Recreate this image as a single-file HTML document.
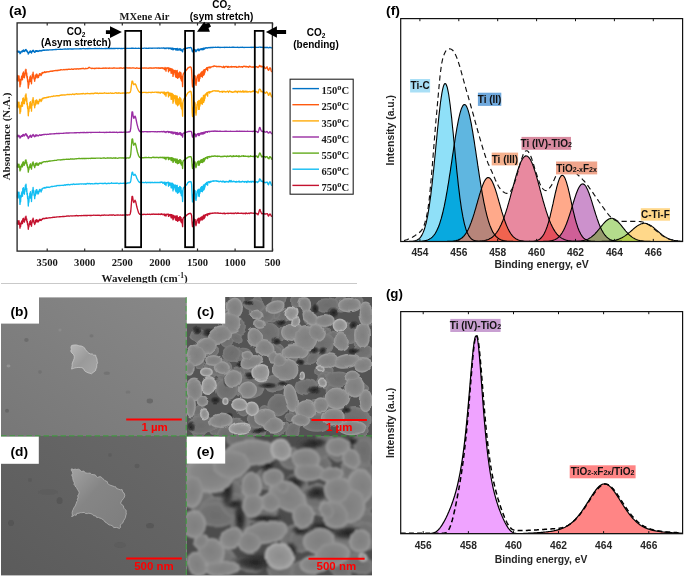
<!DOCTYPE html>
<html><head><meta charset="utf-8"><title>Figure</title>
<style>html,body{margin:0;padding:0;background:#fff}svg{display:block}</style></head>
<body><svg width="685" height="576" viewBox="0 0 685 576">
<rect width="685" height="576" fill="#fff"/>
<defs>
<radialGradient id="g0"><stop offset="0" stop-color="#6c6c6c"/><stop offset=".7" stop-color="#727272"/><stop offset="1" stop-color="#7e7e7e"/></radialGradient>
<radialGradient id="g1"><stop offset="0" stop-color="#7f7f7f"/><stop offset=".7" stop-color="#868686"/><stop offset="1" stop-color="#929292"/></radialGradient>
<radialGradient id="g2"><stop offset="0" stop-color="#8c8c8c"/><stop offset=".7" stop-color="#969696"/><stop offset="1" stop-color="#a6a6a6"/></radialGradient>
<radialGradient id="gd"><stop offset="0" stop-color="#202020"/><stop offset=".55" stop-color="#2e2e2e" stop-opacity=".8"/><stop offset="1" stop-color="#444" stop-opacity="0"/></radialGradient>
<linearGradient id="gb" x1="0" y1="1" x2="1" y2="0"><stop offset="0" stop-color="#777"/><stop offset="1" stop-color="#888"/></linearGradient>
<linearGradient id="gdd" x1="1" y1="0" x2="0" y2="1"><stop offset="0" stop-color="#696969"/><stop offset="1" stop-color="#5b5b5b"/></linearGradient>
<linearGradient id="gfl" x1="0" y1="0" x2="1" y2="1"><stop offset="0" stop-color="#b8b8b8"/><stop offset=".5" stop-color="#9a9a9a"/><stop offset="1" stop-color="#a6a6a6"/></linearGradient>
<linearGradient id="gfd" x1="0" y1="0" x2="1" y2="1"><stop offset="0" stop-color="#a2a2a2"/><stop offset=".4" stop-color="#858585"/><stop offset="1" stop-color="#7e7e7e"/></linearGradient>
<filter id="bl" x="-5%" y="-5%" width="110%" height="110%"><feGaussianBlur stdDeviation="0.65"/></filter>
<filter id="blc" x="-5%" y="-5%" width="110%" height="110%"><feTurbulence type="fractalNoise" baseFrequency="0.055" numOctaves="1" seed="4" result="n"/><feDisplacementMap in="SourceGraphic" in2="n" scale="7" xChannelSelector="R" yChannelSelector="G"/><feGaussianBlur stdDeviation="0.6"/></filter>
<filter id="ble" x="-5%" y="-5%" width="110%" height="110%"><feTurbulence type="fractalNoise" baseFrequency="0.03" numOctaves="1" seed="9" result="n"/><feDisplacementMap in="SourceGraphic" in2="n" scale="11" xChannelSelector="R" yChannelSelector="G"/><feGaussianBlur stdDeviation="1.1"/></filter>
<filter id="bl2" x="-20%" y="-20%" width="140%" height="140%"><feGaussianBlur stdDeviation="0.5"/></filter>
<clipPath id="cc"><rect x="186.5" y="297" width="185.5" height="139"/></clipPath>
<clipPath id="ce"><rect x="186.5" y="436" width="185.5" height="139"/></clipPath>
</defs>
<rect x="1" y="297.4" width="185.5" height="138.6" fill="url(#gb)"/>
<polygon points="71.6,345.5 73.6,345.0 76.3,344.9 78.3,345.5 79.4,345.8 81.5,346.1 83.2,346.9 84.5,347.8 85.3,349.4 86.5,350.8 87.9,352.4 88.8,353.2 90.3,353.9 92.4,354.0 93.5,355.1 95.7,355.2 96.0,356.9 97.0,359.0 97.1,361.1 97.6,362.7 96.8,364.4 96.8,365.4 96.6,367.7 95.8,369.0 95.7,370.4 94.1,371.8 93.1,372.4 91.5,373.8 90.0,373.3 88.0,372.8 86.0,371.8 84.5,370.7 83.6,368.7 81.8,367.7 80.3,367.6 78.1,367.4 76.3,367.7 74.9,367.9 73.5,368.4 71.6,369.1 71.9,367.2 72.2,365.3 72.1,364.1 72.7,362.1 73.5,360.3 74.2,358.2 74.3,356.6 73.8,354.9 73.0,353.9 71.7,352.8 70.7,351.0 71.3,349.4 70.9,347.2" fill="url(#gfl)" stroke="#cfcfcf" stroke-width=".7" filter="url(#bl2)"/>
<rect x="1" y="436" width="185.5" height="139" fill="url(#gdd)"/>
<polygon points="71.6,468.8 73.8,469.6 75.1,469.0 76.2,469.5 78.5,469.2 80.4,470.2 81.3,471.6 83.9,471.0 85.1,472.8 87.4,473.2 88.2,473.2 90.2,473.1 91.5,474.4 93.2,474.6 95.3,474.9 96.6,476.8 97.4,477.4 100.1,476.6 101.4,477.2 102.6,478.5 104.0,479.6 104.9,480.6 107.3,481.7 107.6,483.5 109.5,484.8 111.0,485.5 112.1,485.8 114.6,486.7 115.7,486.8 116.5,488.5 118.2,489.0 120.3,489.8 122.1,489.6 122.8,492.2 124.0,492.9 124.8,495.2 124.4,497.1 123.5,498.5 121.9,500.4 120.9,502.2 120.7,503.5 122.0,504.7 123.4,505.8 123.8,508.1 124.9,509.4 126.2,510.4 126.1,512.8 126.4,514.1 125.9,514.9 125.4,517.7 124.8,518.8 123.7,520.5 122.9,522.7 121.8,523.5 120.3,525.1 120.4,527.6 119.3,528.5 118.1,527.9 116.4,527.4 113.7,527.6 112.9,526.2 110.8,525.1 110.1,525.3 107.6,523.9 106.8,522.9 105.0,522.0 104.1,520.4 103.2,519.8 101.2,518.5 99.1,517.8 98.5,517.4 96.6,517.4 95.9,516.0 93.5,515.6 92.6,514.3 90.9,513.7 88.8,513.2 87.3,513.6 85.5,513.5 84.2,512.4 81.6,512.7 80.2,512.7 79.1,513.2 76.8,513.4 76.2,515.2 74.3,515.0 72.9,516.2 71.6,516.5 72.4,515.2 72.1,512.8 72.7,510.4 73.3,509.3 73.9,507.8 75.2,506.0 76.1,503.7 76.8,501.6 77.7,500.7 77.2,499.1 78.2,497.9 77.7,495.8 78.8,494.2 79.1,492.4 78.6,491.1 77.5,489.6 76.7,487.8 75.8,487.1 74.9,485.5 74.0,484.6 74.4,482.9 73.2,480.4 72.7,478.1 72.7,477.2 71.7,475.1 72.8,473.3 72.3,471.8 71.1,470.0" fill="url(#gfd)" stroke="#b4b4b4" stroke-width=".8" filter="url(#bl2)"/>
<g filter="url(#bl)">
<ellipse cx="149.8" cy="401" rx="3.2" ry="2.4" fill="#555" opacity="0.55"/>
<ellipse cx="26.4" cy="340" rx="2.2" ry="2" fill="#5a5a5a" opacity="0.5"/>
<ellipse cx="7" cy="410.7" rx="2" ry="2" fill="#555" opacity="0.5"/>
<ellipse cx="106.8" cy="373.2" rx="3" ry="1.6" fill="#666" opacity="0.5"/>
<ellipse cx="91.5" cy="335.8" rx="2" ry="1.6" fill="#666" opacity="0.45"/>
<ellipse cx="8.5" cy="366" rx="2" ry="1.4" fill="#aaa" opacity="0.5"/>
<ellipse cx="40" cy="372" rx="1.8" ry="1.8" fill="#666" opacity="0.45"/>
<ellipse cx="128" cy="392" rx="2.5" ry="1.5" fill="#6a6a6a" opacity="0.4"/>
<ellipse cx="60" cy="330" rx="1.6" ry="1.6" fill="#999" opacity="0.4"/>
<ellipse cx="11" cy="523" rx="3" ry="3" fill="#4a4a4a" opacity="0.5"/>
<ellipse cx="150" cy="525.7" rx="4" ry="2.6" fill="#4c4c4c" opacity="0.5"/>
<ellipse cx="137" cy="466" rx="2.6" ry="2.2" fill="#505050" opacity="0.45"/>
<ellipse cx="59.6" cy="500.7" rx="3" ry="3.4" fill="#4c4c4c" opacity="0.5"/>
<ellipse cx="30" cy="480" rx="2" ry="2" fill="#505050" opacity="0.4"/>
<ellipse cx="110" cy="455" rx="2" ry="2" fill="#505050" opacity="0.35"/>
<ellipse cx="120" cy="545" rx="6" ry="3" fill="#545454" opacity="0.35"/>
<ellipse cx="48" cy="492" rx="10" ry="3" fill="#565656" opacity="0.3"/>
</g>
<g clip-path="url(#cc)"><rect x="186" y="297" width="186" height="139" fill="#545454"/><g filter="url(#blc)">
<ellipse cx="281.2" cy="429.1" rx="5.0" ry="9.0" fill="url(#g0)" transform="rotate(56 281.2 429.1)"/>
<ellipse cx="264.7" cy="412.1" rx="6.3" ry="7.0" fill="url(#g0)" transform="rotate(5 264.7 412.1)"/>
<ellipse cx="326.1" cy="371.8" rx="6.0" ry="8.2" fill="url(#g0)" transform="rotate(55 326.1 371.8)"/>
<ellipse cx="270.3" cy="315.6" rx="6.3" ry="5.3" fill="url(#g0)" transform="rotate(47 270.3 315.6)"/>
<ellipse cx="325.6" cy="336.0" rx="6.7" ry="9.1" fill="url(#g0)" transform="rotate(173 325.6 336.0)"/>
<ellipse cx="320.8" cy="372.2" rx="5.7" ry="5.1" fill="url(#g0)" transform="rotate(175 320.8 372.2)"/>
<ellipse cx="282.0" cy="313.1" rx="7.4" ry="8.1" fill="url(#g0)" transform="rotate(110 282.0 313.1)"/>
<ellipse cx="356.6" cy="302.5" rx="6.9" ry="6.6" fill="url(#g0)" transform="rotate(11 356.6 302.5)"/>
<ellipse cx="305.3" cy="415.5" rx="7.2" ry="5.6" fill="url(#g0)" transform="rotate(151 305.3 415.5)"/>
<ellipse cx="280.8" cy="368.0" rx="8.0" ry="5.1" fill="url(#g0)" transform="rotate(148 280.8 368.0)"/>
<ellipse cx="313.1" cy="406.4" rx="5.3" ry="8.3" fill="url(#g0)" transform="rotate(34 313.1 406.4)"/>
<ellipse cx="201.2" cy="415.9" rx="8.6" ry="8.6" fill="url(#g0)" transform="rotate(85 201.2 415.9)"/>
<ellipse cx="237.0" cy="298.0" rx="7.5" ry="7.9" fill="url(#g0)" transform="rotate(150 237.0 298.0)"/>
<ellipse cx="238.4" cy="326.9" rx="7.5" ry="8.3" fill="url(#g0)" transform="rotate(173 238.4 326.9)"/>
<ellipse cx="214.0" cy="364.0" rx="8.7" ry="6.4" fill="url(#g0)" transform="rotate(106 214.0 364.0)"/>
<ellipse cx="190.6" cy="390.6" rx="8.8" ry="8.4" fill="url(#g0)" transform="rotate(159 190.6 390.6)"/>
<ellipse cx="308.8" cy="331.1" rx="8.1" ry="5.4" fill="url(#g0)" transform="rotate(150 308.8 331.1)"/>
<ellipse cx="197.7" cy="411.8" rx="5.1" ry="6.2" fill="url(#g0)" transform="rotate(57 197.7 411.8)"/>
<ellipse cx="314.6" cy="321.8" rx="6.3" ry="4.4" fill="url(#g0)" transform="rotate(47 314.6 321.8)"/>
<ellipse cx="264.3" cy="311.7" rx="7.4" ry="6.2" fill="url(#g0)" transform="rotate(131 264.3 311.7)"/>
<ellipse cx="307.6" cy="356.9" rx="8.6" ry="7.4" fill="url(#g0)" transform="rotate(146 307.6 356.9)"/>
<ellipse cx="249.6" cy="372.6" rx="5.3" ry="9.2" fill="url(#g0)" transform="rotate(44 249.6 372.6)"/>
<ellipse cx="233.8" cy="307.2" rx="5.6" ry="8.1" fill="url(#g0)" transform="rotate(126 233.8 307.2)"/>
<ellipse cx="209.9" cy="349.3" rx="6.4" ry="7.6" fill="url(#g0)" transform="rotate(82 209.9 349.3)"/>
<ellipse cx="295.1" cy="413.7" rx="7.9" ry="6.1" fill="url(#g0)" transform="rotate(81 295.1 413.7)"/>
<ellipse cx="254.4" cy="312.3" rx="5.3" ry="5.7" fill="url(#g0)" transform="rotate(57 254.4 312.3)"/>
<ellipse cx="244.2" cy="377.2" rx="9.1" ry="8.1" fill="url(#g0)" transform="rotate(142 244.2 377.2)"/>
<ellipse cx="327.2" cy="380.0" rx="8.8" ry="7.7" fill="url(#g0)" transform="rotate(90 327.2 380.0)"/>
<ellipse cx="200.3" cy="364.9" rx="5.4" ry="5.0" fill="url(#g0)" transform="rotate(91 200.3 364.9)"/>
<ellipse cx="332.0" cy="338.0" rx="8.1" ry="6.9" fill="url(#g0)" transform="rotate(27 332.0 338.0)"/>
<ellipse cx="365.5" cy="352.8" rx="5.8" ry="8.5" fill="url(#g0)" transform="rotate(22 365.5 352.8)"/>
<ellipse cx="322.4" cy="323.1" rx="6.3" ry="5.5" fill="url(#g0)" transform="rotate(151 322.4 323.1)"/>
<ellipse cx="258.5" cy="432.5" rx="7.4" ry="7.7" fill="url(#g0)" transform="rotate(94 258.5 432.5)"/>
<ellipse cx="243.5" cy="352.0" rx="8.9" ry="5.3" fill="url(#g0)" transform="rotate(178 243.5 352.0)"/>
<ellipse cx="327.0" cy="347.0" rx="7.5" ry="6.2" fill="url(#g0)" transform="rotate(69 327.0 347.0)"/>
<ellipse cx="279.7" cy="299.3" rx="6.8" ry="9.1" fill="url(#g0)" transform="rotate(51 279.7 299.3)"/>
<ellipse cx="325.2" cy="358.6" rx="5.4" ry="8.8" fill="url(#g0)" transform="rotate(3 325.2 358.6)"/>
<ellipse cx="242.4" cy="435.9" rx="5.6" ry="8.5" fill="url(#g0)" transform="rotate(109 242.4 435.9)"/>
<ellipse cx="335.9" cy="384.6" rx="6.1" ry="8.1" fill="url(#g0)" transform="rotate(5 335.9 384.6)"/>
<ellipse cx="269.1" cy="348.7" rx="6.7" ry="5.0" fill="url(#g0)" transform="rotate(40 269.1 348.7)"/>
<ellipse cx="290.5" cy="350.9" rx="8.2" ry="7.3" fill="url(#g0)" transform="rotate(155 290.5 350.9)"/>
<ellipse cx="322.2" cy="380.7" rx="5.7" ry="8.2" fill="url(#g0)" transform="rotate(45 322.2 380.7)"/>
<ellipse cx="200.0" cy="430.9" rx="7.0" ry="8.1" fill="url(#g0)" transform="rotate(95 200.0 430.9)"/>
<ellipse cx="299.7" cy="301.7" rx="5.3" ry="7.6" fill="url(#g0)" transform="rotate(103 299.7 301.7)"/>
<ellipse cx="215.5" cy="429.3" rx="5.1" ry="6.8" fill="url(#g0)" transform="rotate(26 215.5 429.3)"/>
<ellipse cx="319.4" cy="335.4" rx="5.0" ry="4.6" fill="url(#g0)" transform="rotate(31 319.4 335.4)"/>
<ellipse cx="221.7" cy="371.6" rx="6.5" ry="9.0" fill="url(#g0)" transform="rotate(172 221.7 371.6)"/>
<ellipse cx="334.1" cy="390.4" rx="8.5" ry="8.9" fill="url(#g0)" transform="rotate(4 334.1 390.4)"/>
<ellipse cx="208.0" cy="347.1" rx="4.8" ry="7.3" fill="url(#g0)" transform="rotate(47 208.0 347.1)"/>
<ellipse cx="235.2" cy="337.1" rx="4.8" ry="8.0" fill="url(#g0)" transform="rotate(117 235.2 337.1)"/>
<ellipse cx="298.8" cy="301.7" rx="6.4" ry="7.7" fill="url(#g0)" transform="rotate(28 298.8 301.7)"/>
<ellipse cx="257.7" cy="299.8" rx="4.7" ry="5.4" fill="url(#g0)" transform="rotate(75 257.7 299.8)"/>
<ellipse cx="272.2" cy="420.0" rx="5.9" ry="4.4" fill="url(#g0)" transform="rotate(149 272.2 420.0)"/>
<ellipse cx="197.5" cy="309.9" rx="9.1" ry="8.0" fill="url(#g0)" transform="rotate(61 197.5 309.9)"/>
<ellipse cx="210.6" cy="350.8" rx="6.0" ry="8.6" fill="url(#g0)" transform="rotate(75 210.6 350.8)"/>
<ellipse cx="201.3" cy="425.8" rx="7.4" ry="4.9" fill="url(#g0)" transform="rotate(20 201.3 425.8)"/>
<ellipse cx="272.7" cy="309.8" rx="7.4" ry="7.4" fill="url(#g0)" transform="rotate(6 272.7 309.8)"/>
<ellipse cx="336.2" cy="406.4" rx="8.8" ry="7.6" fill="url(#g0)" transform="rotate(125 336.2 406.4)"/>
<ellipse cx="216.5" cy="300.3" rx="4.7" ry="9.1" fill="url(#g0)" transform="rotate(116 216.5 300.3)"/>
<ellipse cx="362.1" cy="345.6" rx="8.0" ry="4.7" fill="url(#g0)" transform="rotate(30 362.1 345.6)"/>
<ellipse cx="237.5" cy="373.5" rx="7.1" ry="6.8" fill="url(#g0)" transform="rotate(76 237.5 373.5)"/>
<ellipse cx="293.1" cy="431.4" rx="6.6" ry="8.4" fill="url(#g0)" transform="rotate(10 293.1 431.4)"/>
<ellipse cx="257.7" cy="374.9" rx="7.4" ry="5.6" fill="url(#g0)" transform="rotate(72 257.7 374.9)"/>
<ellipse cx="362.1" cy="387.2" rx="7.2" ry="4.7" fill="url(#g0)" transform="rotate(9 362.1 387.2)"/>
<ellipse cx="225.3" cy="316.2" rx="9.2" ry="4.4" fill="url(#g0)" transform="rotate(66 225.3 316.2)"/>
<ellipse cx="196.9" cy="386.0" rx="4.6" ry="4.7" fill="url(#g0)" transform="rotate(14 196.9 386.0)"/>
<ellipse cx="236.5" cy="377.1" rx="8.3" ry="5.7" fill="url(#g0)" transform="rotate(51 236.5 377.1)"/>
<ellipse cx="339.3" cy="400.7" rx="5.0" ry="8.3" fill="url(#g0)" transform="rotate(150 339.3 400.7)"/>
<ellipse cx="219.1" cy="384.2" rx="5.3" ry="5.5" fill="url(#g0)" transform="rotate(89 219.1 384.2)"/>
<ellipse cx="283.1" cy="363.6" rx="7.0" ry="5.4" fill="url(#g0)" transform="rotate(140 283.1 363.6)"/>
<ellipse cx="237.7" cy="423.9" rx="6.9" ry="5.8" fill="url(#g0)" transform="rotate(31 237.7 423.9)"/>
<ellipse cx="276.2" cy="349.3" rx="7.4" ry="6.8" fill="url(#g0)" transform="rotate(7 276.2 349.3)"/>
<ellipse cx="340.9" cy="304.2" rx="8.4" ry="8.3" fill="url(#g0)" transform="rotate(166 340.9 304.2)"/>
<ellipse cx="309.6" cy="319.3" rx="6.5" ry="6.5" fill="url(#g0)" transform="rotate(114 309.6 319.3)"/>
<ellipse cx="256.9" cy="390.9" rx="5.3" ry="6.1" fill="url(#g0)" transform="rotate(98 256.9 390.9)"/>
<ellipse cx="265.5" cy="314.0" rx="9.1" ry="7.7" fill="url(#g0)" transform="rotate(150 265.5 314.0)"/>
<ellipse cx="252.5" cy="428.4" rx="8.3" ry="9.1" fill="url(#g0)" transform="rotate(36 252.5 428.4)"/>
<ellipse cx="274.7" cy="350.6" rx="7.3" ry="5.6" fill="url(#g0)" transform="rotate(18 274.7 350.6)"/>
<ellipse cx="274.6" cy="385.9" rx="6.2" ry="9.2" fill="url(#g0)" transform="rotate(73 274.6 385.9)"/>
<ellipse cx="241.8" cy="410.1" rx="6.6" ry="5.7" fill="url(#g0)" transform="rotate(52 241.8 410.1)"/>
<ellipse cx="362.2" cy="430.7" rx="7.5" ry="5.7" fill="url(#g0)" transform="rotate(128 362.2 430.7)"/>
<ellipse cx="226.3" cy="341.8" rx="7.0" ry="6.3" fill="url(#g0)" transform="rotate(63 226.3 341.8)"/>
<ellipse cx="367.2" cy="320.7" rx="7.3" ry="4.5" fill="url(#g0)" transform="rotate(17 367.2 320.7)"/>
<ellipse cx="225.1" cy="434.9" rx="7.9" ry="8.6" fill="url(#g0)" transform="rotate(9 225.1 434.9)"/>
<ellipse cx="312.7" cy="358.2" rx="6.4" ry="7.8" fill="url(#g0)" transform="rotate(55 312.7 358.2)"/>
<ellipse cx="281.5" cy="333.2" rx="6.3" ry="7.0" fill="url(#g0)" transform="rotate(28 281.5 333.2)"/>
<ellipse cx="237.4" cy="355.4" rx="6.7" ry="8.3" fill="url(#g0)" transform="rotate(116 237.4 355.4)"/>
<ellipse cx="290.6" cy="417.9" rx="5.3" ry="4.9" fill="url(#g0)" transform="rotate(71 290.6 417.9)"/>
<ellipse cx="211.5" cy="374.3" rx="7.1" ry="5.0" fill="url(#g0)" transform="rotate(129 211.5 374.3)"/>
<ellipse cx="289.5" cy="355.8" rx="8.8" ry="8.5" fill="url(#g0)" transform="rotate(40 289.5 355.8)"/>
<ellipse cx="248.4" cy="386.6" rx="16.3" ry="12.2" fill="url(#g0)"/>
<ellipse cx="218.6" cy="367.6" rx="13.6" ry="9.5" fill="url(#g0)"/>
<ellipse cx="275.6" cy="383.9" rx="12.2" ry="8.1" fill="url(#g0)"/>
<ellipse cx="202.3" cy="424.6" rx="16.3" ry="9.5" fill="url(#g0)"/>
<ellipse cx="267.5" cy="332.3" rx="10.9" ry="10.9" fill="url(#g0)"/>
<ellipse cx="321.8" cy="343.2" rx="12.2" ry="10.9" fill="url(#g0)"/>
<ellipse cx="348.9" cy="332.3" rx="13.6" ry="10.9" fill="url(#g0)"/>
<ellipse cx="316.3" cy="421.9" rx="16.3" ry="10.9" fill="url(#g0)"/>
<ellipse cx="354.3" cy="419.2" rx="16.3" ry="12.2" fill="url(#g0)"/>
<ellipse cx="278.3" cy="405.6" rx="10.9" ry="10.9" fill="url(#g0)"/>
<ellipse cx="226.7" cy="389.3" rx="10.9" ry="10.9" fill="url(#g0)"/>
<ellipse cx="338.0" cy="378.5" rx="12.2" ry="8.1" fill="url(#g0)"/>
<ellipse cx="327.2" cy="305.1" rx="10.9" ry="6.8" fill="url(#g0)"/>
<ellipse cx="253.9" cy="305.1" rx="10.9" ry="6.8" fill="url(#g0)"/>
<ellipse cx="199.6" cy="335.0" rx="9.5" ry="6.8" fill="url(#g0)"/>
<ellipse cx="232.2" cy="354.0" rx="9.5" ry="8.1" fill="url(#g0)"/>
<ellipse cx="305.5" cy="386.6" rx="10.9" ry="8.1" fill="url(#g0)"/>
<ellipse cx="256.6" cy="419.2" rx="10.9" ry="8.1" fill="url(#g0)"/>
<ellipse cx="362.5" cy="351.3" rx="8.1" ry="8.1" fill="url(#g0)"/>
<ellipse cx="210.4" cy="331.2" rx="8.7" ry="4.8" fill="url(#gd)"/>
<ellipse cx="197.4" cy="330.1" rx="6.1" ry="4.3" fill="url(#gd)"/>
<ellipse cx="226.7" cy="380.1" rx="3.9" ry="6.5" fill="url(#gd)"/>
<ellipse cx="250.1" cy="376.3" rx="7.8" ry="3.9" fill="url(#gd)"/>
<ellipse cx="268.0" cy="385.5" rx="11.3" ry="3.5" fill="url(#gd)"/>
<ellipse cx="313.6" cy="390.9" rx="7.8" ry="4.8" fill="url(#gd)"/>
<ellipse cx="334.2" cy="401.8" rx="7.4" ry="4.3" fill="url(#gd)"/>
<ellipse cx="259.3" cy="430.6" rx="10.4" ry="3.9" fill="url(#gd)"/>
<ellipse cx="313.6" cy="350.2" rx="6.5" ry="4.3" fill="url(#gd)"/>
<ellipse cx="354.3" cy="351.3" rx="7.8" ry="3.9" fill="url(#gd)"/>
<ellipse cx="332.6" cy="312.7" rx="6.1" ry="6.1" fill="url(#gd)"/>
<ellipse cx="190.3" cy="425.2" rx="6.1" ry="6.1" fill="url(#gd)"/>
<ellipse cx="240.3" cy="364.9" rx="5.2" ry="3.9" fill="url(#gd)"/>
<ellipse cx="275.6" cy="340.4" rx="5.2" ry="4.3" fill="url(#gd)"/>
<ellipse cx="323.1" cy="351.3" rx="5.2" ry="5.2" fill="url(#gd)"/>
<ellipse cx="215.9" cy="400.2" rx="5.2" ry="4.3" fill="url(#gd)"/>
<ellipse cx="283.7" cy="383.9" rx="6.1" ry="3.5" fill="url(#gd)"/>
<ellipse cx="346.2" cy="411.0" rx="6.1" ry="3.9" fill="url(#gd)"/>
<ellipse cx="248.4" cy="302.4" rx="6.1" ry="3.5" fill="url(#gd)"/>
<ellipse cx="316.3" cy="307.9" rx="4.3" ry="6.1" fill="url(#gd)"/>
<ellipse cx="279.7" cy="321.4" rx="5.2" ry="4.3" fill="url(#gd)"/>
<ellipse cx="354.3" cy="324.2" rx="5.2" ry="5.2" fill="url(#gd)"/>
<ellipse cx="300.0" cy="362.2" rx="4.3" ry="3.5" fill="url(#gd)"/>
<ellipse cx="229.4" cy="416.5" rx="4.3" ry="3.5" fill="url(#gd)"/>
<ellipse cx="234.9" cy="307.9" rx="8.1" ry="10.3" fill="#9a9a9a"/>
<ellipse cx="230.8" cy="322.8" rx="10.3" ry="10.3" fill="#9a9a9a"/>
<ellipse cx="219.9" cy="335.0" rx="11.9" ry="9.2" fill="#9a9a9a" transform="rotate(-30 219.9 335.0)"/>
<ellipse cx="206.4" cy="345.3" rx="11.4" ry="8.6" fill="#9a9a9a" transform="rotate(-30 206.4 345.3)"/>
<ellipse cx="195.5" cy="355.4" rx="9.7" ry="10.8" fill="#9a9a9a"/>
<ellipse cx="189.3" cy="368.1" rx="5.4" ry="8.6" fill="#9a9a9a"/>
<ellipse cx="257.1" cy="314.9" rx="6.5" ry="5.4" fill="#9a9a9a"/>
<ellipse cx="259.9" cy="324.2" rx="5.9" ry="4.6" fill="#9a9a9a"/>
<ellipse cx="275.6" cy="306.5" rx="10.3" ry="5.9" fill="#9a9a9a" transform="rotate(-15 275.6 306.5)"/>
<ellipse cx="304.7" cy="305.1" rx="6.5" ry="8.1" fill="#9a9a9a"/>
<ellipse cx="311.4" cy="317.6" rx="9.7" ry="7.0" fill="#9a9a9a" transform="rotate(30 311.4 317.6)"/>
<ellipse cx="325.0" cy="320.4" rx="8.6" ry="6.5" fill="#9a9a9a"/>
<ellipse cx="348.9" cy="305.1" rx="11.9" ry="7.3" fill="#9a9a9a"/>
<ellipse cx="365.7" cy="313.8" rx="7.3" ry="11.4" fill="#9a9a9a"/>
<ellipse cx="363.0" cy="335.0" rx="7.0" ry="13.0" fill="#9a9a9a"/>
<ellipse cx="254.4" cy="337.2" rx="7.6" ry="9.7" fill="#9a9a9a" transform="rotate(-20 254.4 337.2)"/>
<ellipse cx="265.3" cy="348.6" rx="9.7" ry="8.1" fill="#9a9a9a" transform="rotate(30 265.3 348.6)"/>
<ellipse cx="273.4" cy="357.3" rx="5.9" ry="6.5" fill="#9a9a9a"/>
<ellipse cx="291.9" cy="332.3" rx="11.9" ry="9.7" fill="#9a9a9a"/>
<ellipse cx="306.0" cy="338.3" rx="11.4" ry="12.4" fill="#9a9a9a"/>
<ellipse cx="294.6" cy="351.3" rx="13.0" ry="7.3" fill="#9a9a9a"/>
<ellipse cx="316.3" cy="332.3" rx="8.6" ry="8.6" fill="#9a9a9a"/>
<ellipse cx="341.3" cy="342.1" rx="8.6" ry="9.7" fill="#9a9a9a"/>
<ellipse cx="327.7" cy="361.1" rx="10.3" ry="6.5" fill="#9a9a9a" transform="rotate(-15 327.7 361.1)"/>
<ellipse cx="346.7" cy="361.1" rx="14.1" ry="6.2" fill="#9a9a9a" transform="rotate(-10 346.7 361.1)"/>
<ellipse cx="363.0" cy="365.4" rx="8.6" ry="7.3" fill="#9a9a9a"/>
<ellipse cx="251.2" cy="362.2" rx="11.4" ry="7.3" fill="#9a9a9a" transform="rotate(-25 251.2 362.2)"/>
<ellipse cx="248.4" cy="355.1" rx="5.9" ry="5.4" fill="#9a9a9a"/>
<ellipse cx="285.4" cy="369.2" rx="13.0" ry="11.4" fill="#9a9a9a"/>
<ellipse cx="279.9" cy="359.4" rx="7.3" ry="7.3" fill="#9a9a9a"/>
<ellipse cx="232.7" cy="378.5" rx="8.6" ry="8.6" fill="#9a9a9a"/>
<ellipse cx="247.4" cy="389.9" rx="9.7" ry="8.6" fill="#9a9a9a"/>
<ellipse cx="213.7" cy="360.0" rx="8.6" ry="5.9" fill="#9a9a9a"/>
<ellipse cx="221.8" cy="368.1" rx="8.1" ry="7.0" fill="#9a9a9a"/>
<ellipse cx="290.8" cy="398.0" rx="7.0" ry="14.1" fill="#9a9a9a" transform="rotate(-10 290.8 398.0)"/>
<ellipse cx="306.0" cy="408.9" rx="11.4" ry="10.0" fill="#9a9a9a"/>
<ellipse cx="300.6" cy="420.8" rx="9.7" ry="7.3" fill="#9a9a9a"/>
<ellipse cx="221.3" cy="420.8" rx="11.4" ry="7.3" fill="#9a9a9a"/>
<ellipse cx="265.3" cy="417.0" rx="11.4" ry="8.6" fill="#9a9a9a"/>
<ellipse cx="337.0" cy="398.0" rx="12.4" ry="11.4" fill="#9a9a9a"/>
<ellipse cx="354.9" cy="387.1" rx="9.7" ry="11.4" fill="#9a9a9a"/>
<ellipse cx="365.7" cy="400.7" rx="7.0" ry="11.4" fill="#9a9a9a"/>
<ellipse cx="352.2" cy="376.3" rx="8.6" ry="5.9" fill="#9a9a9a"/>
<ellipse cx="194.1" cy="389.9" rx="8.6" ry="11.4" fill="#9a9a9a"/>
<ellipse cx="189.8" cy="406.2" rx="5.1" ry="11.4" fill="#9a9a9a"/>
<ellipse cx="202.8" cy="401.3" rx="6.5" ry="6.5" fill="#9a9a9a"/>
<ellipse cx="273.4" cy="425.2" rx="11.4" ry="8.6" fill="#9a9a9a"/>
<ellipse cx="333.2" cy="417.0" rx="11.4" ry="8.6" fill="#9a9a9a"/>
<ellipse cx="321.8" cy="404.5" rx="7.3" ry="7.3" fill="#9a9a9a"/>
<ellipse cx="351.6" cy="427.3" rx="14.1" ry="8.1" fill="#9a9a9a"/>
<ellipse cx="234.9" cy="307.9" rx="6.9" ry="9.1" fill="url(#g1)"/>
<ellipse cx="230.8" cy="322.8" rx="9.1" ry="9.1" fill="url(#g1)"/>
<ellipse cx="219.9" cy="335.0" rx="10.7" ry="8.0" fill="url(#g1)" transform="rotate(-30 219.9 335.0)"/>
<ellipse cx="206.4" cy="345.3" rx="10.2" ry="7.4" fill="url(#g1)" transform="rotate(-30 206.4 345.3)"/>
<ellipse cx="195.5" cy="355.4" rx="8.5" ry="9.6" fill="url(#g1)"/>
<ellipse cx="189.3" cy="368.1" rx="4.2" ry="7.4" fill="url(#g1)"/>
<ellipse cx="257.1" cy="314.9" rx="5.3" ry="4.2" fill="url(#g1)"/>
<ellipse cx="259.9" cy="324.2" rx="4.7" ry="3.4" fill="url(#g1)"/>
<ellipse cx="275.6" cy="306.5" rx="9.1" ry="4.7" fill="url(#g1)" transform="rotate(-15 275.6 306.5)"/>
<ellipse cx="304.7" cy="305.1" rx="5.3" ry="6.9" fill="url(#g1)"/>
<ellipse cx="311.4" cy="317.6" rx="8.5" ry="5.8" fill="url(#g1)" transform="rotate(30 311.4 317.6)"/>
<ellipse cx="325.0" cy="320.4" rx="7.4" ry="5.3" fill="url(#g1)"/>
<ellipse cx="348.9" cy="305.1" rx="10.7" ry="6.1" fill="url(#g1)"/>
<ellipse cx="365.7" cy="313.8" rx="6.1" ry="10.2" fill="url(#g1)"/>
<ellipse cx="363.0" cy="335.0" rx="5.8" ry="11.8" fill="url(#g1)"/>
<ellipse cx="254.4" cy="337.2" rx="6.4" ry="8.5" fill="url(#g1)" transform="rotate(-20 254.4 337.2)"/>
<ellipse cx="265.3" cy="348.6" rx="8.5" ry="6.9" fill="url(#g1)" transform="rotate(30 265.3 348.6)"/>
<ellipse cx="273.4" cy="357.3" rx="4.7" ry="5.3" fill="url(#g1)"/>
<ellipse cx="291.9" cy="332.3" rx="10.7" ry="8.5" fill="url(#g1)"/>
<ellipse cx="306.0" cy="338.3" rx="10.2" ry="11.2" fill="url(#g1)"/>
<ellipse cx="294.6" cy="351.3" rx="11.8" ry="6.1" fill="url(#g1)"/>
<ellipse cx="316.3" cy="332.3" rx="7.4" ry="7.4" fill="url(#g1)"/>
<ellipse cx="341.3" cy="342.1" rx="7.4" ry="8.5" fill="url(#g1)"/>
<ellipse cx="327.7" cy="361.1" rx="9.1" ry="5.3" fill="url(#g1)" transform="rotate(-15 327.7 361.1)"/>
<ellipse cx="346.7" cy="361.1" rx="12.9" ry="5.0" fill="url(#g1)" transform="rotate(-10 346.7 361.1)"/>
<ellipse cx="363.0" cy="365.4" rx="7.4" ry="6.1" fill="url(#g1)"/>
<ellipse cx="251.2" cy="362.2" rx="10.2" ry="6.1" fill="url(#g1)" transform="rotate(-25 251.2 362.2)"/>
<ellipse cx="248.4" cy="355.1" rx="4.7" ry="4.2" fill="url(#g1)"/>
<ellipse cx="285.4" cy="369.2" rx="11.8" ry="10.2" fill="url(#g1)"/>
<ellipse cx="279.9" cy="359.4" rx="6.1" ry="6.1" fill="url(#g1)"/>
<ellipse cx="232.7" cy="378.5" rx="7.4" ry="7.4" fill="url(#g1)"/>
<ellipse cx="247.4" cy="389.9" rx="8.5" ry="7.4" fill="url(#g1)"/>
<ellipse cx="213.7" cy="360.0" rx="7.4" ry="4.7" fill="url(#g1)"/>
<ellipse cx="221.8" cy="368.1" rx="6.9" ry="5.8" fill="url(#g1)"/>
<ellipse cx="290.8" cy="398.0" rx="5.8" ry="12.9" fill="url(#g1)" transform="rotate(-10 290.8 398.0)"/>
<ellipse cx="306.0" cy="408.9" rx="10.2" ry="8.8" fill="url(#g1)"/>
<ellipse cx="300.6" cy="420.8" rx="8.5" ry="6.1" fill="url(#g1)"/>
<ellipse cx="221.3" cy="420.8" rx="10.2" ry="6.1" fill="url(#g1)"/>
<ellipse cx="265.3" cy="417.0" rx="10.2" ry="7.4" fill="url(#g1)"/>
<ellipse cx="337.0" cy="398.0" rx="11.2" ry="10.2" fill="url(#g1)"/>
<ellipse cx="354.9" cy="387.1" rx="8.5" ry="10.2" fill="url(#g1)"/>
<ellipse cx="365.7" cy="400.7" rx="5.8" ry="10.2" fill="url(#g1)"/>
<ellipse cx="352.2" cy="376.3" rx="7.4" ry="4.7" fill="url(#g1)"/>
<ellipse cx="194.1" cy="389.9" rx="7.4" ry="10.2" fill="url(#g1)"/>
<ellipse cx="189.8" cy="406.2" rx="3.9" ry="10.2" fill="url(#g1)"/>
<ellipse cx="202.8" cy="401.3" rx="5.3" ry="5.3" fill="url(#g1)"/>
<ellipse cx="273.4" cy="425.2" rx="10.2" ry="7.4" fill="url(#g1)"/>
<ellipse cx="333.2" cy="417.0" rx="10.2" ry="7.4" fill="url(#g1)"/>
<ellipse cx="321.8" cy="404.5" rx="6.1" ry="6.1" fill="url(#g1)"/>
<ellipse cx="351.6" cy="427.3" rx="12.9" ry="6.9" fill="url(#g1)"/>
<ellipse cx="290.5" cy="313.3" rx="7.0" ry="6.5" fill="#b4b4b4"/>
<ellipse cx="295.2" cy="322.0" rx="5.1" ry="5.1" fill="#b4b4b4"/>
<ellipse cx="339.4" cy="325.5" rx="7.8" ry="7.0" fill="#b4b4b4"/>
<ellipse cx="260.9" cy="373.6" rx="8.6" ry="8.6" fill="#b4b4b4" transform="rotate(20 260.9 373.6)"/>
<ellipse cx="302.8" cy="374.7" rx="3.2" ry="4.3" fill="#b4b4b4"/>
<ellipse cx="321.8" cy="369.2" rx="3.8" ry="3.2" fill="#b4b4b4"/>
<ellipse cx="321.8" cy="382.8" rx="5.1" ry="4.3" fill="#b4b4b4"/>
<ellipse cx="209.1" cy="385.5" rx="7.8" ry="8.6" fill="#b4b4b4"/>
<ellipse cx="206.4" cy="373.0" rx="6.5" ry="4.6" fill="#b4b4b4"/>
<ellipse cx="225.4" cy="401.3" rx="3.2" ry="3.8" fill="#b4b4b4"/>
<ellipse cx="239.2" cy="404.5" rx="8.1" ry="6.5" fill="#b4b4b4"/>
<ellipse cx="251.7" cy="408.9" rx="7.3" ry="7.3" fill="#b4b4b4"/>
<ellipse cx="239.2" cy="427.9" rx="10.8" ry="6.2" fill="#b4b4b4" transform="rotate(-8 239.2 427.9)"/>
<ellipse cx="205.0" cy="414.3" rx="5.1" ry="5.1" fill="#b4b4b4"/>
<ellipse cx="290.5" cy="313.3" rx="5.8" ry="5.3" fill="url(#g2)"/>
<ellipse cx="295.2" cy="322.0" rx="3.9" ry="3.9" fill="url(#g2)"/>
<ellipse cx="339.4" cy="325.5" rx="6.6" ry="5.8" fill="url(#g2)"/>
<ellipse cx="260.9" cy="373.6" rx="7.4" ry="7.4" fill="url(#g2)" transform="rotate(20 260.9 373.6)"/>
<ellipse cx="302.8" cy="374.7" rx="2.0" ry="3.1" fill="url(#g2)"/>
<ellipse cx="321.8" cy="369.2" rx="2.6" ry="2.0" fill="url(#g2)"/>
<ellipse cx="321.8" cy="382.8" rx="3.9" ry="3.1" fill="url(#g2)"/>
<ellipse cx="209.1" cy="385.5" rx="6.6" ry="7.4" fill="url(#g2)"/>
<ellipse cx="206.4" cy="373.0" rx="5.3" ry="3.4" fill="url(#g2)"/>
<ellipse cx="225.4" cy="401.3" rx="2.0" ry="2.6" fill="url(#g2)"/>
<ellipse cx="239.2" cy="404.5" rx="6.9" ry="5.3" fill="url(#g2)"/>
<ellipse cx="251.7" cy="408.9" rx="6.1" ry="6.1" fill="url(#g2)"/>
<ellipse cx="239.2" cy="427.9" rx="9.6" ry="5.0" fill="url(#g2)" transform="rotate(-8 239.2 427.9)"/>
<ellipse cx="205.0" cy="414.3" rx="3.9" ry="3.9" fill="url(#g2)"/>
</g></g>
<g clip-path="url(#ce)"><rect x="186" y="436" width="186" height="139" fill="#4c4c4c"/><g filter="url(#ble)">
<ellipse cx="234.7" cy="478.5" rx="14.8" ry="8.9" fill="url(#g0)" transform="rotate(108 234.7 478.5)"/>
<ellipse cx="321.5" cy="463.1" rx="8.6" ry="10.4" fill="url(#g0)" transform="rotate(118 321.5 463.1)"/>
<ellipse cx="290.6" cy="457.9" rx="11.7" ry="13.6" fill="url(#g0)" transform="rotate(76 290.6 457.9)"/>
<ellipse cx="303.8" cy="571.5" rx="13.7" ry="11.3" fill="url(#g0)" transform="rotate(34 303.8 571.5)"/>
<ellipse cx="250.3" cy="508.0" rx="15.4" ry="14.5" fill="url(#g0)" transform="rotate(57 250.3 508.0)"/>
<ellipse cx="357.9" cy="502.5" rx="13.8" ry="9.0" fill="url(#g0)" transform="rotate(19 357.9 502.5)"/>
<ellipse cx="223.6" cy="560.0" rx="13.7" ry="15.1" fill="url(#g0)" transform="rotate(116 223.6 560.0)"/>
<ellipse cx="261.6" cy="508.8" rx="13.0" ry="15.2" fill="url(#g0)" transform="rotate(79 261.6 508.8)"/>
<ellipse cx="351.9" cy="522.3" rx="14.9" ry="12.2" fill="url(#g0)" transform="rotate(125 351.9 522.3)"/>
<ellipse cx="249.1" cy="509.7" rx="9.9" ry="9.0" fill="url(#g0)" transform="rotate(7 249.1 509.7)"/>
<ellipse cx="316.6" cy="500.5" rx="15.5" ry="14.9" fill="url(#g0)" transform="rotate(69 316.6 500.5)"/>
<ellipse cx="367.1" cy="519.3" rx="14.4" ry="11.5" fill="url(#g0)" transform="rotate(35 367.1 519.3)"/>
<ellipse cx="217.9" cy="462.2" rx="13.1" ry="9.1" fill="url(#g0)" transform="rotate(4 217.9 462.2)"/>
<ellipse cx="340.9" cy="450.8" rx="11.8" ry="12.1" fill="url(#g0)" transform="rotate(112 340.9 450.8)"/>
<ellipse cx="279.7" cy="567.3" rx="14.3" ry="12.8" fill="url(#g0)" transform="rotate(111 279.7 567.3)"/>
<ellipse cx="280.2" cy="571.1" rx="10.0" ry="13.8" fill="url(#g0)" transform="rotate(100 280.2 571.1)"/>
<ellipse cx="193.8" cy="478.2" rx="15.7" ry="14.5" fill="url(#g0)" transform="rotate(2 193.8 478.2)"/>
<ellipse cx="241.2" cy="438.4" rx="14.9" ry="9.0" fill="url(#g0)" transform="rotate(10 241.2 438.4)"/>
<ellipse cx="368.6" cy="499.0" rx="10.7" ry="8.5" fill="url(#g0)" transform="rotate(70 368.6 499.0)"/>
<ellipse cx="254.1" cy="509.8" rx="8.2" ry="9.4" fill="url(#g0)" transform="rotate(38 254.1 509.8)"/>
<ellipse cx="267.9" cy="479.0" rx="13.1" ry="10.5" fill="url(#g0)" transform="rotate(164 267.9 479.0)"/>
<ellipse cx="364.9" cy="445.3" rx="9.8" ry="12.7" fill="url(#g0)" transform="rotate(139 364.9 445.3)"/>
<ellipse cx="197.9" cy="462.7" rx="11.9" ry="13.6" fill="url(#g0)" transform="rotate(163 197.9 462.7)"/>
<ellipse cx="347.2" cy="547.3" rx="8.6" ry="16.1" fill="url(#g0)" transform="rotate(111 347.2 547.3)"/>
<ellipse cx="202.0" cy="472.4" rx="13.2" ry="11.3" fill="url(#g0)" transform="rotate(80 202.0 472.4)"/>
<ellipse cx="335.6" cy="551.6" rx="12.6" ry="14.6" fill="url(#g0)" transform="rotate(73 335.6 551.6)"/>
<ellipse cx="367.2" cy="521.1" rx="16.0" ry="8.5" fill="url(#g0)" transform="rotate(159 367.2 521.1)"/>
<ellipse cx="290.0" cy="536.2" rx="9.7" ry="12.6" fill="url(#g0)" transform="rotate(52 290.0 536.2)"/>
<ellipse cx="205.6" cy="437.4" rx="15.5" ry="13.6" fill="url(#g0)" transform="rotate(37 205.6 437.4)"/>
<ellipse cx="234.0" cy="501.7" rx="14.8" ry="9.1" fill="url(#g0)" transform="rotate(174 234.0 501.7)"/>
<ellipse cx="361.6" cy="471.0" rx="13.4" ry="11.1" fill="url(#g0)" transform="rotate(126 361.6 471.0)"/>
<ellipse cx="202.2" cy="502.3" rx="12.9" ry="13.2" fill="url(#g0)" transform="rotate(125 202.2 502.3)"/>
<ellipse cx="351.8" cy="470.5" rx="9.4" ry="11.3" fill="url(#g0)" transform="rotate(102 351.8 470.5)"/>
<ellipse cx="364.6" cy="535.8" rx="14.2" ry="16.1" fill="url(#g0)" transform="rotate(48 364.6 535.8)"/>
<ellipse cx="234.3" cy="495.7" rx="10.6" ry="13.4" fill="url(#g0)" transform="rotate(171 234.3 495.7)"/>
<ellipse cx="214.6" cy="509.0" rx="13.7" ry="12.2" fill="url(#g0)" transform="rotate(164 214.6 509.0)"/>
<ellipse cx="323.1" cy="559.6" rx="9.1" ry="9.7" fill="url(#g0)" transform="rotate(12 323.1 559.6)"/>
<ellipse cx="340.2" cy="570.8" rx="8.3" ry="14.6" fill="url(#g0)" transform="rotate(131 340.2 570.8)"/>
<ellipse cx="354.9" cy="474.6" rx="14.0" ry="10.1" fill="url(#g0)" transform="rotate(14 354.9 474.6)"/>
<ellipse cx="324.6" cy="442.9" rx="13.8" ry="10.5" fill="url(#g0)" transform="rotate(88 324.6 442.9)"/>
<ellipse cx="215.9" cy="514.4" rx="19.0" ry="12.2" fill="url(#g0)"/>
<ellipse cx="234.9" cy="504.9" rx="13.6" ry="10.9" fill="url(#g0)"/>
<ellipse cx="294.6" cy="485.9" rx="13.6" ry="10.9" fill="url(#g0)"/>
<ellipse cx="313.6" cy="499.4" rx="10.9" ry="10.9" fill="url(#g0)"/>
<ellipse cx="346.2" cy="534.7" rx="13.6" ry="9.5" fill="url(#g0)"/>
<ellipse cx="300.0" cy="540.2" rx="10.9" ry="10.9" fill="url(#g0)"/>
<ellipse cx="248.4" cy="564.6" rx="16.3" ry="8.1" fill="url(#g0)"/>
<ellipse cx="321.8" cy="447.9" rx="13.6" ry="9.5" fill="url(#g0)"/>
<ellipse cx="365.2" cy="453.3" rx="9.5" ry="13.6" fill="url(#g0)"/>
<ellipse cx="359.8" cy="564.6" rx="13.6" ry="10.9" fill="url(#g0)"/>
<ellipse cx="240.3" cy="523.9" rx="10.9" ry="10.9" fill="url(#g0)"/>
<ellipse cx="254.4" cy="562.4" rx="25.1" ry="9.7" fill="url(#gd)"/>
<ellipse cx="240.3" cy="517.4" rx="8.0" ry="19.4" fill="url(#gd)"/>
<ellipse cx="293.5" cy="483.2" rx="13.7" ry="8.0" fill="url(#gd)"/>
<ellipse cx="316.9" cy="494.6" rx="13.7" ry="8.0" fill="url(#gd)"/>
<ellipse cx="194.7" cy="468.5" rx="13.7" ry="5.1" fill="url(#gd)"/>
<ellipse cx="346.7" cy="532.6" rx="19.4" ry="8.0" fill="url(#gd)"/>
<ellipse cx="322.3" cy="527.1" rx="16.0" ry="8.0" fill="url(#gd)"/>
<ellipse cx="235.4" cy="503.8" rx="11.4" ry="4.6" fill="url(#gd)"/>
<ellipse cx="290.8" cy="548.9" rx="8.0" ry="8.0" fill="url(#gd)"/>
<ellipse cx="267.5" cy="464.2" rx="6.8" ry="17.1" fill="url(#gd)"/>
<ellipse cx="313.6" cy="442.4" rx="17.1" ry="5.7" fill="url(#gd)"/>
<ellipse cx="226.7" cy="491.3" rx="8.0" ry="17.1" fill="url(#gd)"/>
<ellipse cx="300.0" cy="530.7" rx="11.4" ry="5.7" fill="url(#gd)"/>
<ellipse cx="264.7" cy="518.5" rx="17.1" ry="4.6" fill="url(#gd)"/>
<ellipse cx="354.3" cy="442.4" rx="6.8" ry="5.7" fill="url(#gd)"/>
<ellipse cx="210.4" cy="473.7" rx="25.5" ry="19.5" fill="#9a9a9a"/>
<ellipse cx="249.8" cy="452.7" rx="25.5" ry="14.1" fill="#9a9a9a"/>
<ellipse cx="230.8" cy="464.2" rx="20.0" ry="16.8" fill="#9a9a9a"/>
<ellipse cx="191.4" cy="491.3" rx="11.4" ry="16.8" fill="#9a9a9a"/>
<ellipse cx="305.5" cy="457.6" rx="14.6" ry="11.4" fill="#9a9a9a"/>
<ellipse cx="308.7" cy="472.3" rx="15.7" ry="10.0" fill="#9a9a9a"/>
<ellipse cx="330.4" cy="475.6" rx="13.0" ry="8.6" fill="#9a9a9a"/>
<ellipse cx="339.7" cy="446.8" rx="13.0" ry="9.7" fill="#9a9a9a"/>
<ellipse cx="352.2" cy="460.4" rx="8.6" ry="10.0" fill="#9a9a9a"/>
<ellipse cx="360.3" cy="486.4" rx="13.0" ry="17.3" fill="#9a9a9a"/>
<ellipse cx="349.5" cy="505.4" rx="16.8" ry="16.8" fill="#9a9a9a"/>
<ellipse cx="334.2" cy="513.6" rx="14.1" ry="14.1" fill="#9a9a9a"/>
<ellipse cx="325.0" cy="509.8" rx="8.1" ry="8.1" fill="#9a9a9a"/>
<ellipse cx="338.0" cy="491.3" rx="14.1" ry="12.7" fill="#9a9a9a"/>
<ellipse cx="272.9" cy="477.7" rx="9.2" ry="9.2" fill="#9a9a9a"/>
<ellipse cx="287.0" cy="497.3" rx="20.0" ry="15.2" fill="#9a9a9a" transform="rotate(30 287.0 497.3)"/>
<ellipse cx="300.6" cy="516.3" rx="11.4" ry="12.7" fill="#9a9a9a"/>
<ellipse cx="270.2" cy="502.2" rx="8.6" ry="10.0" fill="#9a9a9a"/>
<ellipse cx="281.6" cy="487.2" rx="7.3" ry="6.5" fill="#9a9a9a"/>
<ellipse cx="252.8" cy="486.4" rx="10.3" ry="13.0" fill="#9a9a9a"/>
<ellipse cx="254.4" cy="505.4" rx="9.7" ry="12.4" fill="#9a9a9a" transform="rotate(20 254.4 505.4)"/>
<ellipse cx="264.7" cy="533.7" rx="21.1" ry="12.4" fill="#9a9a9a" transform="rotate(-12 264.7 533.7)"/>
<ellipse cx="251.2" cy="543.4" rx="11.4" ry="11.4" fill="#9a9a9a"/>
<ellipse cx="319.6" cy="540.7" rx="15.7" ry="12.7" fill="#9a9a9a"/>
<ellipse cx="333.2" cy="554.3" rx="18.4" ry="12.4" fill="#9a9a9a"/>
<ellipse cx="313.6" cy="564.6" rx="14.1" ry="10.0" fill="#9a9a9a"/>
<ellipse cx="232.7" cy="538.0" rx="11.4" ry="11.4" fill="#9a9a9a"/>
<ellipse cx="213.2" cy="551.6" rx="14.6" ry="12.7" fill="#9a9a9a"/>
<ellipse cx="221.8" cy="567.9" rx="16.8" ry="8.6" fill="#9a9a9a"/>
<ellipse cx="194.1" cy="524.4" rx="13.0" ry="14.1" fill="#9a9a9a"/>
<ellipse cx="196.9" cy="565.2" rx="11.4" ry="11.4" fill="#9a9a9a"/>
<ellipse cx="202.3" cy="542.9" rx="8.6" ry="8.6" fill="#9a9a9a"/>
<ellipse cx="360.3" cy="540.7" rx="11.4" ry="11.4" fill="#9a9a9a"/>
<ellipse cx="210.4" cy="473.7" rx="24.3" ry="18.3" fill="url(#g1)"/>
<ellipse cx="249.8" cy="452.7" rx="24.3" ry="12.9" fill="url(#g1)"/>
<ellipse cx="230.8" cy="464.2" rx="18.8" ry="15.6" fill="url(#g1)"/>
<ellipse cx="191.4" cy="491.3" rx="10.2" ry="15.6" fill="url(#g1)"/>
<ellipse cx="305.5" cy="457.6" rx="13.4" ry="10.2" fill="url(#g1)"/>
<ellipse cx="308.7" cy="472.3" rx="14.5" ry="8.8" fill="url(#g1)"/>
<ellipse cx="330.4" cy="475.6" rx="11.8" ry="7.4" fill="url(#g1)"/>
<ellipse cx="339.7" cy="446.8" rx="11.8" ry="8.5" fill="url(#g1)"/>
<ellipse cx="352.2" cy="460.4" rx="7.4" ry="8.8" fill="url(#g1)"/>
<ellipse cx="360.3" cy="486.4" rx="11.8" ry="16.1" fill="url(#g1)"/>
<ellipse cx="349.5" cy="505.4" rx="15.6" ry="15.6" fill="url(#g1)"/>
<ellipse cx="334.2" cy="513.6" rx="12.9" ry="12.9" fill="url(#g1)"/>
<ellipse cx="325.0" cy="509.8" rx="6.9" ry="6.9" fill="url(#g1)"/>
<ellipse cx="338.0" cy="491.3" rx="12.9" ry="11.5" fill="url(#g1)"/>
<ellipse cx="272.9" cy="477.7" rx="8.0" ry="8.0" fill="url(#g1)"/>
<ellipse cx="287.0" cy="497.3" rx="18.8" ry="14.0" fill="url(#g1)" transform="rotate(30 287.0 497.3)"/>
<ellipse cx="300.6" cy="516.3" rx="10.2" ry="11.5" fill="url(#g1)"/>
<ellipse cx="270.2" cy="502.2" rx="7.4" ry="8.8" fill="url(#g1)"/>
<ellipse cx="281.6" cy="487.2" rx="6.1" ry="5.3" fill="url(#g1)"/>
<ellipse cx="252.8" cy="486.4" rx="9.1" ry="11.8" fill="url(#g1)"/>
<ellipse cx="254.4" cy="505.4" rx="8.5" ry="11.2" fill="url(#g1)" transform="rotate(20 254.4 505.4)"/>
<ellipse cx="264.7" cy="533.7" rx="19.9" ry="11.2" fill="url(#g1)" transform="rotate(-12 264.7 533.7)"/>
<ellipse cx="251.2" cy="543.4" rx="10.2" ry="10.2" fill="url(#g1)"/>
<ellipse cx="319.6" cy="540.7" rx="14.5" ry="11.5" fill="url(#g1)"/>
<ellipse cx="333.2" cy="554.3" rx="17.2" ry="11.2" fill="url(#g1)"/>
<ellipse cx="313.6" cy="564.6" rx="12.9" ry="8.8" fill="url(#g1)"/>
<ellipse cx="232.7" cy="538.0" rx="10.2" ry="10.2" fill="url(#g1)"/>
<ellipse cx="213.2" cy="551.6" rx="13.4" ry="11.5" fill="url(#g1)"/>
<ellipse cx="221.8" cy="567.9" rx="15.6" ry="7.4" fill="url(#g1)"/>
<ellipse cx="194.1" cy="524.4" rx="11.8" ry="12.9" fill="url(#g1)"/>
<ellipse cx="196.9" cy="565.2" rx="10.2" ry="10.2" fill="url(#g1)"/>
<ellipse cx="202.3" cy="542.9" rx="7.4" ry="7.4" fill="url(#g1)"/>
<ellipse cx="360.3" cy="540.7" rx="10.2" ry="10.2" fill="url(#g1)"/>
<ellipse cx="279.9" cy="449.5" rx="11.4" ry="10.0" fill="#b4b4b4"/>
<ellipse cx="279.9" cy="557.0" rx="14.1" ry="12.7" fill="#b4b4b4"/>
<ellipse cx="364.1" cy="557.0" rx="4.3" ry="4.8" fill="#b4b4b4"/>
<ellipse cx="279.9" cy="449.5" rx="10.2" ry="8.8" fill="url(#g2)"/>
<ellipse cx="279.9" cy="557.0" rx="12.9" ry="11.5" fill="url(#g2)"/>
<ellipse cx="364.1" cy="557.0" rx="3.1" ry="3.6" fill="url(#g2)"/>
</g></g>
<rect x="1" y="575" width="371" height="1" fill="#bdbdbd"/>
<path d="M1,435.9H372M186.2,297.4V576" stroke="#36a036" stroke-width="1" stroke-dasharray="5.5,3" fill="none"/>
<g fill="#fff"><rect x="0" y="296" width="39" height="27.6"/><rect x="186.8" y="296.6" width="38.4" height="27"/><rect x="0" y="436.6" width="38.8" height="27.2"/><rect x="186.8" y="436.6" width="38.4" height="27"/></g>
<g font-family="'Liberation Sans',sans-serif" font-weight="bold" font-size="13.5" fill="#000" text-anchor="middle"><text x="19.3" y="316" textLength="17.6" lengthAdjust="spacingAndGlyphs">(b)</text><text x="205.6" y="316" textLength="17" lengthAdjust="spacingAndGlyphs">(c)</text><text x="19.3" y="456.2" textLength="17.6" lengthAdjust="spacingAndGlyphs">(d)</text><text x="205.5" y="455.8" textLength="17.6" lengthAdjust="spacingAndGlyphs">(e)</text></g>
<path d="M126.2,419.5H181.8" stroke="#f00" stroke-width="2"/><text x="154.6" y="431.2" font-family="'Liberation Sans',sans-serif" font-weight="bold" font-size="10.4" fill="#f00" text-anchor="middle" textLength="26.4" lengthAdjust="spacingAndGlyphs">1 µm</text>
<path d="M311.4,419.9H366.9" stroke="#f00" stroke-width="2"/><text x="339.2" y="431.2" font-family="'Liberation Sans',sans-serif" font-weight="bold" font-size="10.4" fill="#f00" text-anchor="middle" textLength="26.4" lengthAdjust="spacingAndGlyphs">1 µm</text>
<path d="M126.2,558.5H181.8" stroke="#f00" stroke-width="2"/><text x="154" y="569.6" font-family="'Liberation Sans',sans-serif" font-weight="bold" font-size="10.4" fill="#f00" text-anchor="middle" textLength="39.6" lengthAdjust="spacingAndGlyphs">500 nm</text>
<path d="M308.5,558.8H364.6" stroke="#f00" stroke-width="2"/><text x="336.4" y="569.6" font-family="'Liberation Sans',sans-serif" font-weight="bold" font-size="10.4" fill="#f00" text-anchor="middle" textLength="39.6" lengthAdjust="spacingAndGlyphs">500 nm</text>
<g id="pa" fill="none">
<polyline points="17.4,52.1 17.7,51.0 18.0,52.3 18.4,51.4 18.7,51.9 19.0,51.1 19.3,52.2 19.6,51.8 20.0,53.7 20.3,52.7 20.6,53.2 20.9,51.8 21.2,52.1 21.6,51.3 21.9,51.9 22.2,50.9 22.5,51.9 22.8,50.4 23.2,51.4 23.5,50.0 23.8,51.2 24.1,50.7 24.4,51.5 24.8,50.4 25.1,50.7 25.4,49.6 25.7,50.6 26.0,49.4 26.4,50.9 26.7,50.3 27.0,51.6 27.3,51.1 27.6,52.4 28.0,52.6 28.3,54.0 28.6,53.1 28.9,53.1 29.2,51.9 29.6,52.3 29.9,51.1 30.2,51.9 30.5,50.9 30.8,52.4 31.2,51.9 31.5,53.0 31.8,51.5 32.1,51.8 32.4,50.7 32.8,51.3 33.1,50.1 33.4,51.3 33.7,50.7 34.0,51.7 34.4,51.6 34.7,52.4 35.0,51.6 35.3,51.9 35.6,50.8 36.0,51.5 36.3,50.6 36.6,51.1 36.9,50.6 37.2,51.4 37.6,51.0 37.9,51.5 38.2,51.4 38.5,51.4 38.8,50.8 39.2,51.1 39.5,50.5 39.8,50.7 40.1,50.5 40.4,50.8 40.8,50.6 41.1,51.0 41.4,50.7 41.7,50.8 42.0,50.3 42.4,50.5 42.7,50.2 43.0,50.3 43.3,50.0 43.6,50.4 44.0,50.2 44.3,50.3 44.6,50.0 44.9,50.2 45.2,50.1 45.6,50.2 45.9,50.0 46.2,50.1 46.5,50.2 46.8,50.0 47.2,50.1 47.5,50.0 47.8,50.0 48.0,50.0 48.6,50.1 49.2,49.9 49.8,49.8 50.4,49.9 51.0,49.8 51.6,49.8 52.2,49.7 52.8,49.8 53.4,49.6 54.0,49.6 54.6,49.6 55.2,49.5 55.8,49.5 56.4,49.5 57.0,49.4 57.6,49.4 58.2,49.3 58.8,49.3 59.4,49.4 60.0,49.4 60.6,49.2 61.2,49.4 61.8,49.3 62.4,49.3 63.0,49.2 63.6,49.1 64.2,49.1 64.8,49.0 65.4,48.9 66.0,49.1 66.6,49.1 67.2,49.0 67.8,49.0 68.4,48.9 69.0,49.0 69.6,48.9 70.2,48.9 70.8,49.0 71.4,48.9 72.0,49.1 72.6,49.0 73.2,49.0 73.8,48.9 74.4,48.8 75.0,48.9 75.6,48.8 76.2,48.8 76.8,48.8 77.4,48.9 78.0,48.8 78.6,48.8 79.2,48.8 79.8,48.7 80.4,48.7 81.0,48.7 81.6,48.8 82.2,48.7 82.8,48.6 83.4,48.5 84.0,48.6 84.6,48.7 85.2,48.7 85.8,48.8 86.4,48.6 87.0,48.7 87.6,48.7 88.2,48.4 88.8,48.8 89.4,48.5 90.0,48.5 90.6,48.7 91.2,48.6 91.8,48.7 92.4,48.6 93.0,48.6 93.6,48.6 94.2,48.5 94.8,48.6 95.4,48.4 96.0,48.5 96.6,48.6 97.2,48.5 97.8,48.6 98.4,48.6 99.0,48.5 99.6,48.5 100.2,48.6 100.8,48.6 101.4,48.5 102.0,48.7 102.6,48.6 103.2,48.6 103.8,48.6 104.4,48.6 105.0,48.4 105.6,48.7 106.2,48.4 106.8,48.5 107.4,48.4 108.0,48.5 108.6,48.5 109.2,48.5 109.8,48.3 110.4,48.5 111.0,48.5 111.6,48.3 112.2,48.6 112.8,48.5 113.4,48.4 114.0,48.5 114.6,48.4 115.2,48.5 115.8,48.4 116.4,48.4 117.0,48.4 117.6,48.5 118.2,48.5 118.8,48.4 119.4,48.4 120.0,48.4 120.6,48.6 121.2,48.5 121.8,48.5 122.4,48.6 123.0,48.4 123.6,48.4 124.2,48.4 124.8,48.4 125.4,48.4 126.0,48.4 126.6,48.4 127.2,48.4 127.8,48.3 128.4,48.4 129.0,48.4 129.6,48.3 130.2,48.4 130.8,48.4 131.4,48.2 132.0,48.2 132.6,48.2 133.2,48.2 133.8,48.3 134.4,48.3 135.0,48.3 135.6,48.2 136.2,48.4 136.8,48.3 137.4,48.3 138.0,48.3 138.6,48.2 139.2,48.3 139.8,48.3 140.4,48.4 141.0,48.3 141.6,48.2 142.2,48.3 142.8,48.3 143.4,48.3 144.0,48.2 144.6,48.1 145.2,48.2 145.8,48.3 146.4,48.2 147.0,48.4 147.6,48.3 148.2,48.2 148.8,48.4 149.4,48.1 150.0,48.1 150.6,48.1 151.2,48.3 151.8,48.1 152.4,48.2 153.0,48.2 153.6,48.1 154.2,48.2 154.8,48.1 155.4,48.2 156.0,48.1 156.6,48.1 157.0,48.2 157.3,48.1 157.6,48.3 158.0,48.2 158.3,48.0 158.6,48.1 158.9,48.1 159.2,48.3 159.6,48.1 159.9,48.1 160.2,48.2 160.5,48.1 160.8,48.1 161.2,48.1 161.5,48.1 161.8,48.0 162.1,48.2 162.4,48.1 162.8,48.1 163.1,48.0 163.4,48.1 163.7,48.0 164.0,48.2 164.4,48.2 164.7,48.5 165.0,48.0 165.3,48.3 165.6,48.1 166.0,48.7 166.3,48.2 166.6,48.1 166.9,48.0 167.2,48.0 167.6,48.1 167.9,48.1 168.2,48.1 168.5,48.7 168.8,48.0 169.2,48.3 169.5,48.2 169.8,48.6 170.1,48.1 170.4,48.3 170.8,48.2 171.1,49.0 171.4,48.1 171.7,49.2 172.0,48.2 172.4,48.6 172.7,48.2 173.0,49.8 173.3,48.4 173.6,49.5 174.0,48.6 174.3,48.6 174.6,48.9 174.9,48.9 175.2,48.6 175.6,49.9 175.9,48.7 176.2,50.0 176.5,48.6 176.8,49.0 177.2,48.4 177.5,50.2 177.8,49.0 178.1,49.7 178.4,49.5 178.8,50.1 179.1,49.0 179.4,49.8 179.7,48.8 180.0,49.7 180.4,48.8 180.7,50.3 181.0,49.1 181.3,50.6 181.6,49.8 182.0,50.9 182.3,50.7 182.6,51.9 182.9,49.6 183.2,49.3 183.6,48.9 183.9,49.1 184.2,49.0 184.5,48.8 184.8,48.9 185.2,48.7 185.5,48.5 185.8,48.5 186.1,48.3 186.4,48.2 186.8,48.4 187.1,48.1 187.4,48.0 187.7,48.0 188.0,47.9 188.4,47.8 188.7,47.7 189.0,47.6 189.3,47.8 189.6,47.7 190.0,47.7 190.3,47.6 190.6,47.5 190.9,47.6 191.2,47.9 191.6,48.3 191.9,49.6 192.2,51.0 192.5,51.9 192.8,51.4 193.2,50.3 193.5,50.5 193.8,49.4 194.1,49.9 194.4,49.5 194.8,49.6 195.1,49.6 195.4,51.2 195.7,50.3 196.0,51.7 196.4,51.0 196.7,50.7 197.0,49.6 197.3,50.0 197.6,49.3 198.0,49.9 198.3,49.2 198.6,50.6 198.9,49.2 199.2,50.7 199.6,49.7 199.9,49.9 200.2,49.1 200.5,49.0 200.8,48.9 201.2,49.6 201.5,48.7 201.8,49.6 202.1,48.6 202.4,49.7 202.8,48.5 203.1,49.4 203.4,48.2 203.7,49.5 204.0,48.1 204.4,49.0 204.7,48.1 205.0,48.6 205.3,47.9 205.6,48.1 206.0,47.9 206.3,48.1 206.6,47.7 206.9,47.8 207.2,47.8 207.6,48.1 207.9,47.6 208.2,47.7 208.5,47.7 208.8,47.6 209.2,47.4 209.5,47.7 209.8,47.6 210.1,47.8 210.4,47.5 210.8,47.5 211.1,47.5 211.4,47.5 211.7,47.5 212.0,47.5 212.4,47.6 212.7,47.4 213.0,47.6 213.3,47.3 213.6,47.4 214.0,47.4 214.0,47.4 214.5,47.3 215.0,47.3 215.5,47.2 216.0,47.3 216.5,47.3 217.0,47.4 217.5,47.2 218.0,47.3 218.5,47.2 219.0,47.4 219.5,47.3 220.0,47.5 220.5,47.3 221.0,47.4 221.5,47.4 222.0,47.4 222.5,47.4 223.0,47.3 223.5,47.4 224.0,47.3 224.5,47.5 225.0,47.2 225.5,47.3 226.0,47.4 226.5,47.4 227.0,47.2 227.5,47.3 228.0,47.3 228.5,47.3 229.0,47.3 229.5,47.2 230.0,47.3 230.5,47.3 231.0,47.4 231.5,47.3 232.0,47.2 232.5,47.4 233.0,47.2 233.5,47.2 234.0,47.2 234.5,47.3 235.0,47.3 235.5,47.4 236.0,47.3 236.5,47.4 237.0,47.3 237.5,47.2 238.0,47.3 238.5,47.3 239.0,47.5 239.5,47.4 240.0,47.4 240.5,47.3 241.0,47.2 241.5,47.3 242.0,47.3 242.5,47.2 243.0,47.3 243.5,47.4 244.0,47.5 244.5,47.3 245.0,47.3 245.5,47.3 246.0,47.3 246.5,47.4 247.0,47.3 247.5,47.3 248.0,47.3 248.5,47.3 249.0,47.3 249.5,47.4 250.0,47.4 250.5,47.3 251.0,47.2 251.5,47.5 252.0,47.3 252.5,47.4 253.0,47.2 253.5,47.4 254.0,47.4 254.5,47.3 255.0,47.4 255.5,47.2 256.0,47.4 256.5,47.3 257.0,47.3 257.5,47.4 258.0,47.4 258.5,47.3 259.0,47.2 259.5,47.1 260.0,47.2 260.5,47.2 261.0,47.2 261.5,47.4 262.0,47.4 262.5,47.3 263.0,47.4 263.5,47.2 264.0,47.4 264.5,47.6 265.0,47.4 265.5,47.5 266.0,47.4 266.5,47.5 267.0,47.3 267.5,47.5 268.0,47.7 268.5,47.8 269.0,47.7 269.5,47.5 270.0,47.3 270.5,47.6 271.0,47.7 271.5,47.9 272.0,47.8" stroke="#0072c6" stroke-width="1.35" stroke-linejoin="round"/>
<polyline points="17.4,80.6 17.7,75.3 18.0,81.2 18.4,77.3 18.7,79.9 19.0,76.0 19.3,80.8 19.6,79.2 20.0,86.7 20.3,82.8 20.6,84.2 20.9,79.3 21.2,80.1 21.6,76.5 21.9,79.9 22.2,75.2 22.5,79.7 22.8,73.3 23.2,77.3 23.5,72.0 23.8,77.0 24.1,75.0 24.4,77.8 24.8,73.6 25.1,73.7 25.4,70.0 25.7,73.5 26.0,69.3 26.4,75.7 26.7,72.8 27.0,77.9 27.3,76.5 27.6,81.2 28.0,82.5 28.3,88.1 28.6,84.5 28.9,84.8 29.2,79.7 29.6,81.5 29.9,76.9 30.2,79.0 30.5,75.9 30.8,81.8 31.2,79.0 31.5,83.8 31.8,77.6 32.1,78.6 32.4,74.1 32.8,76.7 33.1,72.2 33.4,76.7 33.7,75.0 34.0,78.9 34.4,78.6 34.7,81.3 35.0,78.0 35.3,78.8 35.6,75.1 36.0,77.8 36.3,74.2 36.6,76.6 36.9,74.1 37.2,76.9 37.6,75.5 37.9,77.9 38.2,76.8 38.5,77.4 38.8,75.0 39.2,75.7 39.5,73.6 39.8,74.8 40.1,73.7 40.4,74.8 40.8,74.5 41.1,75.6 41.4,74.5 41.7,74.4 42.0,72.6 42.4,73.4 42.7,72.5 43.0,73.0 43.3,72.4 43.6,72.7 44.0,72.6 44.3,72.5 44.6,71.7 44.9,72.0 45.2,72.3 45.6,72.5 45.9,72.1 46.2,71.9 46.5,71.8 46.8,72.1 47.2,71.7 47.5,71.7 47.8,71.9 48.0,71.8 48.6,71.7 49.2,71.8 49.8,71.3 50.4,71.2 51.0,71.2 51.6,71.2 52.2,71.0 52.8,71.3 53.4,70.8 54.0,70.9 54.6,70.6 55.2,70.7 55.8,70.5 56.4,70.4 57.0,70.7 57.6,70.3 58.2,70.6 58.8,70.1 59.4,70.1 60.0,70.3 60.6,69.6 61.2,69.7 61.8,69.9 62.4,69.9 63.0,69.9 63.6,69.7 64.2,69.5 64.8,69.8 65.4,69.7 66.0,69.4 66.6,69.5 67.2,69.7 67.8,69.4 68.4,69.2 69.0,69.3 69.6,69.2 70.2,69.3 70.8,69.4 71.4,69.0 72.0,69.0 72.6,69.3 73.2,69.2 73.8,69.3 74.4,68.8 75.0,68.8 75.6,69.1 76.2,68.8 76.8,69.0 77.4,68.9 78.0,68.7 78.6,69.1 79.2,68.8 79.8,68.7 80.4,68.7 81.0,68.8 81.6,68.5 82.2,68.5 82.8,68.5 83.4,68.3 84.0,68.8 84.6,68.8 85.2,68.8 85.8,68.3 86.4,68.6 87.0,68.6 87.6,68.3 88.2,68.2 88.8,67.5 89.4,67.4 90.0,67.8 90.6,68.1 91.2,68.2 91.8,68.6 92.4,68.2 93.0,68.3 93.6,68.3 94.2,68.7 94.8,68.2 95.4,68.4 96.0,68.6 96.6,68.1 97.2,68.2 97.8,68.3 98.4,68.1 99.0,68.5 99.6,68.2 100.2,68.4 100.8,68.4 101.4,68.3 102.0,68.4 102.6,68.2 103.2,68.4 103.8,68.0 104.4,68.1 105.0,68.4 105.6,67.9 106.2,68.3 106.8,68.1 107.4,68.1 108.0,68.1 108.6,68.4 109.2,67.9 109.8,68.3 110.4,68.2 111.0,68.1 111.6,68.1 112.2,68.3 112.8,68.1 113.4,67.9 114.0,68.2 114.6,68.0 115.2,68.1 115.8,68.1 116.4,68.2 117.0,68.4 117.6,68.2 118.2,68.1 118.8,68.2 119.4,68.2 120.0,67.8 120.6,68.0 121.2,67.9 121.8,68.2 122.4,68.3 123.0,68.1 123.6,67.9 124.2,68.2 124.8,67.9 125.4,68.0 126.0,67.8 126.6,67.8 127.2,67.8 127.8,68.0 128.4,67.9 129.0,68.1 129.6,67.8 130.2,68.1 130.8,67.9 131.4,68.1 132.0,68.0 132.6,67.8 133.2,67.9 133.8,68.0 134.4,68.1 135.0,68.1 135.6,68.3 136.2,68.1 136.8,67.8 137.4,68.2 138.0,68.1 138.6,68.3 139.2,68.3 139.8,68.2 140.4,68.2 141.0,68.2 141.6,68.1 142.2,68.0 142.8,68.1 143.4,68.2 144.0,67.8 144.6,68.1 145.2,68.0 145.8,68.1 146.4,68.0 147.0,68.1 147.6,68.1 148.2,68.3 148.8,68.0 149.4,68.0 150.0,68.1 150.6,67.8 151.2,67.9 151.8,68.3 152.4,68.1 153.0,68.0 153.6,68.2 154.2,68.0 154.8,68.0 155.4,67.9 156.0,67.7 156.6,68.1 157.0,67.9 157.3,67.9 157.6,68.0 158.0,67.9 158.3,67.7 158.6,68.0 158.9,68.5 159.2,68.1 159.6,68.1 159.9,67.8 160.2,68.4 160.5,68.0 160.8,68.2 161.2,68.0 161.5,67.8 161.8,68.2 162.1,68.1 162.4,67.8 162.8,68.5 163.1,68.0 163.4,68.1 163.7,68.2 164.0,69.1 164.4,68.3 164.7,69.6 165.0,67.5 165.3,68.9 165.6,68.2 166.0,71.1 166.3,67.9 166.6,68.4 166.9,68.3 167.2,68.2 167.6,67.8 167.9,68.0 168.2,68.1 168.5,71.8 168.8,67.8 169.2,69.1 169.5,68.9 169.8,70.5 170.1,68.3 170.4,69.2 170.8,68.7 171.1,73.2 171.4,69.1 171.7,73.2 172.0,68.8 172.4,70.9 172.7,69.5 173.0,76.4 173.3,70.2 173.6,74.7 174.0,70.3 174.3,70.9 174.6,72.6 174.9,71.8 175.2,70.4 175.6,76.6 175.9,71.2 176.2,77.4 176.5,70.9 176.8,72.7 177.2,70.5 177.5,78.3 177.8,72.6 178.1,75.9 178.4,75.2 178.8,77.7 179.1,72.9 179.4,76.9 179.7,71.9 180.0,76.1 180.4,72.5 180.7,78.7 181.0,72.8 181.3,80.5 181.6,76.1 182.0,81.5 182.3,80.6 182.6,86.6 182.9,75.8 183.2,74.5 183.6,73.3 183.9,73.0 184.2,72.8 184.5,72.6 184.8,72.2 185.2,71.5 185.5,71.2 185.8,70.8 186.1,70.5 186.4,69.8 186.8,69.6 187.1,69.1 187.4,68.9 187.7,67.9 188.0,68.1 188.4,67.8 188.7,67.7 189.0,67.4 189.3,67.1 189.6,67.2 190.0,67.1 190.3,66.8 190.6,66.8 190.9,67.2 191.2,67.5 191.6,70.2 191.9,76.3 192.2,83.3 192.5,86.9 192.8,84.1 193.2,80.4 193.5,80.2 193.8,75.6 194.1,77.8 194.4,75.4 194.8,76.5 195.1,76.0 195.4,83.9 195.7,79.0 196.0,85.3 196.4,82.4 196.7,81.3 197.0,76.7 197.3,77.6 197.6,75.3 198.0,77.1 198.3,74.9 198.6,81.1 198.9,74.2 199.2,81.1 199.6,76.3 199.9,78.5 200.2,74.1 200.5,73.8 200.8,72.9 201.2,76.3 201.5,72.0 201.8,76.3 202.1,72.1 202.4,77.1 202.8,71.4 203.1,75.1 203.4,70.4 203.7,75.3 204.0,69.8 204.4,74.1 204.7,69.6 205.0,72.1 205.3,69.3 205.6,69.3 206.0,68.7 206.3,69.4 206.6,67.8 206.9,68.3 207.2,67.7 207.6,70.6 207.9,67.5 208.2,67.5 208.5,67.3 208.8,67.4 209.2,67.2 209.5,67.9 209.8,66.9 210.1,67.9 210.4,67.1 210.8,67.5 211.1,67.0 211.4,66.9 211.7,66.8 212.0,66.7 212.4,66.5 212.7,66.6 213.0,66.7 213.3,66.3 213.6,66.5 214.0,66.3 214.0,66.0 214.5,65.9 215.0,66.1 215.5,66.4 216.0,66.3 216.5,66.7 217.0,66.4 217.5,66.7 218.0,66.6 218.5,66.4 219.0,66.8 219.5,66.5 220.0,66.4 220.5,66.6 221.0,66.7 221.5,66.9 222.0,67.1 222.5,67.1 223.0,67.5 223.5,66.3 224.0,66.8 224.5,67.7 225.0,66.8 225.5,66.5 226.0,66.6 226.5,66.5 227.0,66.7 227.5,67.4 228.0,66.4 228.5,66.6 229.0,67.3 229.5,66.9 230.0,66.9 230.5,66.7 231.0,67.1 231.5,66.4 232.0,67.1 232.5,66.9 233.0,66.7 233.5,66.6 234.0,67.1 234.5,66.9 235.0,66.7 235.5,66.9 236.0,66.4 236.5,67.3 237.0,67.3 237.5,67.2 238.0,66.9 238.5,67.0 239.0,66.3 239.5,66.7 240.0,66.7 240.5,66.8 241.0,67.0 241.5,66.7 242.0,66.6 242.5,67.2 243.0,66.7 243.5,66.6 244.0,66.1 244.5,66.3 245.0,66.7 245.5,66.9 246.0,66.2 246.5,66.8 247.0,66.9 247.5,66.6 248.0,66.8 248.5,67.3 249.0,66.5 249.5,66.2 250.0,66.7 250.5,66.5 251.0,66.8 251.5,67.1 252.0,67.1 252.5,66.9 253.0,67.3 253.5,66.9 254.0,67.2 254.5,66.9 255.0,66.9 255.5,66.6 256.0,66.8 256.5,66.6 257.0,66.8 257.5,67.1 258.0,67.5 258.5,66.8 259.0,66.6 259.5,65.5 260.0,65.7 260.5,66.6 261.0,66.7 261.5,66.1 262.0,66.9 262.5,66.9 263.0,66.5 263.5,66.3 264.0,66.8 264.5,67.3 265.0,68.4 265.5,68.5 266.0,68.2 266.5,67.8 267.0,66.7 267.5,68.2 268.0,69.8 268.5,70.2 269.0,69.7 269.5,68.3 270.0,67.8 270.5,68.2 271.0,70.4 271.5,71.6 272.0,71.6" stroke="#ff5a0f" stroke-width="1.35" stroke-linejoin="round"/>
<polyline points="17.4,107.4 17.7,102.0 18.0,107.8 18.4,103.1 18.7,106.3 19.0,102.1 19.3,107.0 19.6,105.6 20.0,113.5 20.3,109.8 20.6,111.7 20.9,105.2 21.2,106.8 21.6,102.5 21.9,106.4 22.2,101.5 22.5,106.1 22.8,98.5 23.2,103.6 23.5,97.9 23.8,103.1 24.1,100.8 24.4,103.7 24.8,99.5 25.1,100.1 25.4,95.3 25.7,99.1 26.0,93.9 26.4,101.3 26.7,98.0 27.0,104.6 27.3,103.1 27.6,108.3 28.0,109.3 28.3,115.8 28.6,111.2 28.9,111.8 29.2,106.1 29.6,108.0 29.9,102.5 30.2,105.7 30.5,101.6 30.8,108.1 31.2,105.2 31.5,111.1 31.8,103.7 32.1,105.4 32.4,100.0 32.8,102.4 33.1,97.6 33.4,102.4 33.7,100.3 34.0,105.0 34.4,104.7 34.7,107.8 35.0,104.2 35.3,105.2 35.6,100.7 36.0,104.2 36.3,100.0 36.6,102.9 36.9,100.1 37.2,102.9 37.6,101.3 37.9,103.9 38.2,103.1 38.5,103.7 38.8,101.1 39.2,101.6 39.5,99.4 39.8,100.2 40.1,99.3 40.4,100.5 40.8,99.9 41.1,101.6 41.4,100.4 41.7,100.6 42.0,98.6 42.4,98.6 42.7,98.3 43.0,98.7 43.3,98.1 43.6,98.0 44.0,98.1 44.3,98.1 44.6,97.6 44.9,97.6 45.2,97.6 45.6,97.9 45.9,97.7 46.2,97.4 46.5,97.5 46.8,97.7 47.2,97.4 47.5,97.3 47.8,97.4 48.0,96.9 48.6,97.2 49.2,96.8 49.8,96.9 50.4,96.8 51.0,96.6 51.6,96.4 52.2,96.4 52.8,96.5 53.4,96.0 54.0,96.0 54.6,96.1 55.2,96.1 55.8,95.9 56.4,95.7 57.0,95.8 57.6,95.6 58.2,95.9 58.8,95.7 59.4,95.7 60.0,95.2 60.6,95.2 61.2,95.2 61.8,94.9 62.4,95.0 63.0,95.2 63.6,94.8 64.2,94.8 64.8,95.1 65.4,94.8 66.0,94.8 66.6,94.7 67.2,94.5 67.8,94.5 68.4,94.6 69.0,94.4 69.6,94.5 70.2,94.3 70.8,94.3 71.4,94.6 72.0,94.4 72.6,94.0 73.2,94.2 73.8,94.5 74.4,94.5 75.0,93.9 75.6,94.1 76.2,94.0 76.8,93.6 77.4,94.0 78.0,94.3 78.6,93.8 79.2,93.8 79.8,94.0 80.4,93.8 81.0,93.7 81.6,93.8 82.2,93.5 82.8,93.8 83.4,93.5 84.0,93.7 84.6,93.8 85.2,94.0 85.8,93.5 86.4,93.7 87.0,93.6 87.6,93.3 88.2,93.6 88.8,93.6 89.4,93.6 90.0,93.9 90.6,93.5 91.2,93.5 91.8,93.5 92.4,93.5 93.0,93.5 93.6,93.7 94.2,93.2 94.8,93.4 95.4,93.0 96.0,93.1 96.6,93.4 97.2,93.0 97.8,93.4 98.4,93.6 99.0,93.2 99.6,93.2 100.2,93.3 100.8,93.2 101.4,93.3 102.0,93.2 102.6,93.4 103.2,93.3 103.8,93.2 104.4,92.8 105.0,93.1 105.6,93.2 106.2,93.3 106.8,93.1 107.4,93.3 108.0,93.4 108.6,93.1 109.2,93.3 109.8,93.2 110.4,93.0 111.0,93.2 111.6,93.4 112.2,93.2 112.8,93.2 113.4,93.3 114.0,93.3 114.6,93.2 115.2,92.8 115.8,92.7 116.4,92.8 117.0,93.4 117.6,93.2 118.2,92.8 118.8,93.2 119.4,92.9 120.0,93.1 120.6,93.3 121.2,93.1 121.8,93.2 122.4,93.2 123.0,92.8 123.6,93.1 124.2,93.2 124.8,93.0 125.4,92.7 126.0,93.2 126.6,93.0 127.2,92.8 127.8,92.7 128.4,92.8 129.0,93.0 129.6,92.7 130.2,92.4 130.8,90.4 131.4,85.7 132.0,81.2 132.6,81.1 133.2,83.7 133.8,84.7 134.4,84.2 135.0,83.8 135.6,84.4 136.2,85.7 136.8,87.5 137.4,88.8 138.0,90.0 138.6,91.1 139.2,91.8 139.8,92.4 140.4,92.2 141.0,92.6 141.6,92.4 142.2,92.6 142.8,92.5 143.4,92.4 144.0,92.4 144.6,92.4 145.2,92.4 145.8,92.5 146.4,92.7 147.0,92.5 147.6,92.6 148.2,92.5 148.8,92.3 149.4,92.4 150.0,92.4 150.6,92.5 151.2,92.3 151.8,92.5 152.4,92.2 153.0,92.3 153.6,92.4 154.2,92.3 154.8,92.1 155.4,92.1 156.0,92.2 156.6,92.2 157.0,92.6 157.3,92.1 157.6,92.1 158.0,92.6 158.3,92.1 158.6,92.2 158.9,92.7 159.2,92.3 159.6,92.6 159.9,92.6 160.2,93.2 160.5,92.3 160.8,92.7 161.2,92.2 161.5,92.2 161.8,92.3 162.1,92.5 162.4,92.2 162.8,93.1 163.1,92.2 163.4,92.2 163.7,92.5 164.0,93.7 164.4,92.2 164.7,94.7 165.0,92.3 165.3,93.2 165.6,93.0 166.0,96.2 166.3,92.7 166.6,93.2 166.9,92.7 167.2,92.2 167.6,92.5 167.9,92.8 168.2,92.2 168.5,96.9 168.8,92.7 169.2,93.8 169.5,93.7 169.8,95.5 170.1,92.9 170.4,93.6 170.8,93.6 171.1,99.3 171.4,93.7 171.7,99.2 172.0,93.3 172.4,96.2 172.7,94.2 173.0,103.2 173.3,94.7 173.6,101.3 174.0,95.5 174.3,96.0 174.6,98.3 174.9,97.6 175.2,95.5 175.6,103.0 175.9,96.3 176.2,104.2 176.5,95.9 176.8,98.3 177.2,96.2 177.5,105.8 177.8,98.7 178.1,102.4 178.4,101.6 178.8,104.9 179.1,98.7 179.4,103.7 179.7,97.3 180.0,103.1 180.4,98.1 180.7,106.3 181.0,98.9 181.3,108.3 181.6,102.9 182.0,109.8 182.3,108.5 182.6,116.2 182.9,102.8 183.2,100.9 183.6,99.8 183.9,99.2 184.2,98.4 184.5,98.2 184.8,97.9 185.2,97.2 185.5,96.9 185.8,96.4 186.1,96.0 186.4,95.2 186.8,94.7 187.1,94.0 187.4,93.5 187.7,93.2 188.0,92.7 188.4,92.5 188.7,92.2 189.0,91.9 189.3,92.0 189.6,91.5 190.0,91.6 190.3,91.5 190.6,91.3 190.9,91.6 191.2,92.3 191.6,95.3 191.9,102.7 192.2,112.5 192.5,116.5 192.8,113.1 193.2,108.1 193.5,107.9 193.8,102.5 194.1,105.1 194.4,102.0 194.8,103.6 195.1,102.9 195.4,112.8 195.7,107.1 196.0,115.1 196.4,110.9 196.7,109.7 197.0,104.4 197.3,105.0 197.6,101.8 198.0,104.6 198.3,101.3 198.6,109.4 198.9,100.5 199.2,109.4 199.6,103.6 199.9,106.0 200.2,100.4 200.5,100.0 200.8,98.9 201.2,103.7 201.5,97.9 201.8,103.3 202.1,98.2 202.4,104.2 202.8,97.6 203.1,102.0 203.4,95.8 203.7,102.4 204.0,95.2 204.4,100.7 204.7,95.4 205.0,98.3 205.3,94.3 205.6,95.1 206.0,93.6 206.3,94.9 206.6,92.9 206.9,93.4 207.2,92.8 207.6,96.2 207.9,92.2 208.2,92.0 208.5,92.3 208.8,92.3 209.2,91.9 209.5,93.0 209.8,91.6 210.1,92.5 210.4,91.8 210.8,91.8 211.1,91.6 211.4,91.8 211.7,91.4 212.0,91.6 212.4,91.0 212.7,91.3 213.0,90.9 213.3,90.9 213.6,90.9 214.0,90.9 214.0,90.6 214.5,90.9 215.0,90.9 215.5,91.1 216.0,90.8 216.5,91.0 217.0,90.9 217.5,91.2 218.0,91.0 218.5,91.0 219.0,91.2 219.5,91.8 220.0,91.9 220.5,91.6 221.0,91.7 221.5,91.8 222.0,91.3 222.5,92.3 223.0,91.4 223.5,91.4 224.0,91.7 224.5,91.4 225.0,91.8 225.5,92.0 226.0,91.6 226.5,91.8 227.0,91.5 227.5,91.1 228.0,91.3 228.5,92.5 229.0,91.7 229.5,91.0 230.0,91.3 230.5,91.4 231.0,92.0 231.5,91.7 232.0,92.2 232.5,92.4 233.0,91.9 233.5,91.9 234.0,92.2 234.5,91.5 235.0,91.6 235.5,91.1 236.0,92.0 236.5,91.4 237.0,91.8 237.5,92.6 238.0,91.2 238.5,91.5 239.0,91.3 239.5,91.3 240.0,92.0 240.5,91.1 241.0,91.8 241.5,91.7 242.0,92.1 242.5,91.0 243.0,91.2 243.5,92.1 244.0,91.0 244.5,91.8 245.0,92.1 245.5,91.1 246.0,91.3 246.5,92.0 247.0,91.2 247.5,92.0 248.0,92.1 248.5,91.7 249.0,91.6 249.5,91.7 250.0,91.4 250.5,92.0 251.0,91.9 251.5,91.7 252.0,91.8 252.5,91.1 253.0,91.3 253.5,90.9 254.0,91.4 254.5,92.0 255.0,91.8 255.5,91.5 256.0,91.5 256.5,91.6 257.0,92.3 257.5,92.0 258.0,93.1 258.5,92.1 259.0,89.8 259.5,89.2 260.0,89.1 260.5,89.7 261.0,91.7 261.5,91.2 262.0,91.6 262.5,91.9 263.0,92.0 263.5,91.7 264.0,92.4 264.5,92.3 265.0,93.3 265.5,93.2 266.0,92.9 266.5,91.9 267.0,92.3 267.5,92.7 268.0,94.1 268.5,95.4 269.0,95.2 269.5,93.2 270.0,92.8 270.5,94.0 271.0,95.2 271.5,96.8 272.0,96.6" stroke="#ffab0a" stroke-width="1.35" stroke-linejoin="round"/>
<polyline points="17.4,136.8 17.7,135.2 18.0,136.8 18.4,135.7 18.7,136.6 19.0,135.3 19.3,136.6 19.6,136.2 20.0,138.0 20.3,137.2 20.6,137.5 20.9,136.1 21.2,136.5 21.6,135.6 21.9,136.4 22.2,135.4 22.5,136.4 22.8,134.7 23.2,135.8 23.5,134.4 23.8,135.6 24.1,135.1 24.4,135.9 24.8,134.9 25.1,134.9 25.4,133.9 25.7,134.6 26.0,133.6 26.4,135.3 26.7,134.7 27.0,136.1 27.3,135.6 27.6,136.9 28.0,137.1 28.3,138.6 28.6,137.6 28.9,137.7 29.2,136.4 29.6,136.9 29.9,135.6 30.2,136.4 30.5,135.2 30.8,136.9 31.2,136.2 31.5,137.4 31.8,136.0 32.1,136.2 32.4,135.1 32.8,135.6 33.1,134.5 33.4,135.6 33.7,135.0 34.0,136.2 34.4,136.0 34.7,136.9 35.0,136.0 35.3,136.2 35.6,135.0 36.0,136.0 36.3,135.0 36.6,135.7 36.9,134.9 37.2,135.6 37.6,135.5 37.9,135.9 38.2,135.6 38.5,135.8 38.8,135.3 39.2,135.2 39.5,134.8 39.8,135.1 40.1,135.0 40.4,135.3 40.8,135.0 41.1,135.4 41.4,135.0 41.7,135.1 42.0,134.6 42.4,134.9 42.7,134.6 43.0,134.6 43.3,134.5 43.6,134.7 44.0,134.5 44.3,134.4 44.6,134.5 44.9,134.5 45.2,134.3 45.6,134.4 45.9,134.4 46.2,134.4 46.5,134.5 46.8,134.4 47.2,134.3 47.5,134.3 47.8,134.2 48.0,134.2 48.6,134.3 49.2,134.2 49.8,134.0 50.4,134.0 51.0,134.0 51.6,133.9 52.2,133.9 52.8,133.9 53.4,133.8 54.0,133.7 54.6,133.7 55.2,133.7 55.8,133.6 56.4,133.5 57.0,133.5 57.6,133.6 58.2,133.5 58.8,133.5 59.4,133.5 60.0,133.3 60.6,133.3 61.2,133.3 61.8,133.3 62.4,133.3 63.0,133.3 63.6,133.2 64.2,133.2 64.8,133.1 65.4,133.1 66.0,133.0 66.6,133.0 67.2,132.9 67.8,133.1 68.4,132.9 69.0,133.0 69.6,132.8 70.2,132.9 70.8,132.9 71.4,132.9 72.0,132.9 72.6,132.8 73.2,132.8 73.8,132.8 74.4,132.7 75.0,132.8 75.6,132.7 76.2,132.7 76.8,132.7 77.4,132.6 78.0,132.6 78.6,132.6 79.2,132.8 79.8,132.6 80.4,132.7 81.0,132.5 81.6,132.6 82.2,132.6 82.8,132.5 83.4,132.7 84.0,132.5 84.6,132.5 85.2,132.6 85.8,132.7 86.4,132.5 87.0,132.5 87.6,132.5 88.2,132.6 88.8,132.4 89.4,132.4 90.0,132.4 90.6,132.5 91.2,132.5 91.8,132.4 92.4,132.4 93.0,132.4 93.6,132.4 94.2,132.3 94.8,132.3 95.4,132.4 96.0,132.3 96.6,132.4 97.2,132.4 97.8,132.3 98.4,132.4 99.0,132.4 99.6,132.2 100.2,132.4 100.8,132.3 101.4,132.3 102.0,132.4 102.6,132.4 103.2,132.4 103.8,132.3 104.4,132.5 105.0,132.4 105.6,132.3 106.2,132.5 106.8,132.2 107.4,132.4 108.0,132.3 108.6,132.3 109.2,132.2 109.8,132.2 110.4,132.2 111.0,132.3 111.6,132.3 112.2,132.2 112.8,132.3 113.4,132.2 114.0,132.3 114.6,132.2 115.2,132.3 115.8,132.4 116.4,132.1 117.0,132.4 117.6,132.5 118.2,132.3 118.8,132.3 119.4,132.2 120.0,132.3 120.6,132.2 121.2,132.2 121.8,132.2 122.4,132.4 123.0,132.3 123.6,132.1 124.2,132.2 124.8,132.1 125.4,132.3 126.0,132.1 126.6,132.1 127.2,132.2 127.8,132.1 128.4,132.0 129.0,132.0 129.6,131.9 130.2,131.3 130.8,127.8 131.4,119.7 132.0,111.8 132.6,111.8 133.2,116.5 133.8,118.4 134.4,117.0 135.0,116.1 135.6,117.4 136.2,120.0 136.8,123.1 137.4,125.6 138.0,127.7 138.6,129.6 139.2,130.8 139.8,131.5 140.4,131.7 141.0,131.7 141.6,131.6 142.2,131.7 142.8,131.7 143.4,131.8 144.0,131.6 144.6,131.7 145.2,131.6 145.8,131.6 146.4,131.7 147.0,131.7 147.6,131.7 148.2,131.8 148.8,131.6 149.4,131.7 150.0,131.7 150.6,131.7 151.2,131.6 151.8,131.6 152.4,131.7 153.0,131.6 153.6,131.7 154.2,131.8 154.8,131.6 155.4,131.7 156.0,131.7 156.6,131.8 157.0,131.8 157.3,131.7 157.6,131.7 158.0,131.7 158.3,131.6 158.6,131.6 158.9,131.8 159.2,131.6 159.6,131.8 159.9,131.6 160.2,131.7 160.5,131.6 160.8,131.8 161.2,131.5 161.5,131.6 161.8,131.7 162.1,131.7 162.4,131.7 162.8,131.7 163.1,131.5 163.4,131.4 163.7,131.6 164.0,131.9 164.4,131.5 164.7,132.1 165.0,131.7 165.3,131.8 165.6,131.8 166.0,132.6 166.3,131.7 166.6,131.8 166.9,131.7 167.2,131.5 167.6,131.8 167.9,131.5 168.2,131.6 168.5,132.6 168.8,131.6 169.2,132.0 169.5,131.8 169.8,132.3 170.1,131.8 170.4,131.9 170.8,131.9 171.1,133.1 171.4,132.0 171.7,133.1 172.0,131.8 172.4,132.5 172.7,132.2 173.0,133.9 173.3,132.3 173.6,133.5 174.0,132.2 174.3,132.6 174.6,133.0 174.9,132.9 175.2,132.3 175.6,134.1 175.9,132.7 176.2,134.3 176.5,132.7 176.8,133.0 177.2,132.5 177.5,134.6 177.8,133.0 178.1,133.8 178.4,133.7 178.8,134.5 179.1,133.1 179.4,134.0 179.7,132.7 180.0,134.0 180.4,132.7 180.7,134.6 181.0,133.1 181.3,135.3 181.6,133.8 182.0,135.5 182.3,135.2 182.6,137.1 182.9,133.9 183.2,133.3 183.6,133.1 183.9,132.9 184.2,133.0 184.5,133.0 184.8,132.8 185.2,132.5 185.5,132.8 185.8,132.5 186.1,132.3 186.4,132.2 186.8,132.1 187.1,131.9 187.4,131.8 187.7,131.8 188.0,131.6 188.4,131.6 188.7,131.4 189.0,131.5 189.3,131.5 189.6,131.4 190.0,131.4 190.3,131.3 190.6,131.3 190.9,131.5 191.2,131.5 191.6,132.2 191.9,133.9 192.2,135.9 192.5,137.1 192.8,136.3 193.2,135.2 193.5,135.0 193.8,133.8 194.1,134.4 194.4,133.6 194.8,134.1 195.1,133.9 195.4,136.1 195.7,134.7 196.0,136.8 196.4,135.6 196.7,135.6 197.0,134.2 197.3,134.4 197.6,133.7 198.0,134.2 198.3,133.7 198.6,135.5 198.9,133.4 199.2,135.5 199.6,134.0 199.9,134.6 200.2,133.4 200.5,133.2 200.8,132.9 201.2,134.0 201.5,132.8 201.8,133.9 202.1,132.7 202.4,134.1 202.8,132.6 203.1,133.7 203.4,132.4 203.7,133.8 204.0,132.2 204.4,133.4 204.7,132.1 205.0,133.0 205.3,132.0 205.6,132.1 206.0,131.7 206.3,132.0 206.6,131.6 206.9,131.8 207.2,131.6 207.6,132.4 207.9,131.5 208.2,131.3 208.5,131.3 208.8,131.4 209.2,131.3 209.5,131.8 209.8,131.6 210.1,131.5 210.4,131.3 210.8,131.4 211.1,131.4 211.4,131.3 211.7,131.2 212.0,131.3 212.4,131.3 212.7,131.2 213.0,131.0 213.3,131.2 213.6,131.1 214.0,131.2 214.0,131.3 214.5,131.0 215.0,131.2 215.5,131.2 216.0,131.0 216.5,131.3 217.0,131.2 217.5,131.2 218.0,131.2 218.5,131.3 219.0,131.3 219.5,131.2 220.0,131.2 220.5,131.2 221.0,131.3 221.5,131.3 222.0,131.4 222.5,131.3 223.0,131.3 223.5,131.3 224.0,131.3 224.5,131.4 225.0,131.2 225.5,131.2 226.0,131.3 226.5,131.2 227.0,131.3 227.5,131.4 228.0,131.4 228.5,131.4 229.0,131.3 229.5,131.3 230.0,131.3 230.5,131.2 231.0,131.3 231.5,131.4 232.0,131.4 232.5,131.3 233.0,131.3 233.5,131.3 234.0,131.3 234.5,131.3 235.0,131.3 235.5,131.3 236.0,131.4 236.5,131.2 237.0,131.2 237.5,131.2 238.0,131.3 238.5,131.3 239.0,131.2 239.5,131.4 240.0,131.2 240.5,131.4 241.0,131.3 241.5,131.4 242.0,131.2 242.5,131.4 243.0,131.3 243.5,131.3 244.0,131.2 244.5,131.4 245.0,131.4 245.5,131.3 246.0,131.4 246.5,131.4 247.0,131.4 247.5,131.2 248.0,131.4 248.5,131.3 249.0,131.3 249.5,131.3 250.0,131.3 250.5,131.4 251.0,131.3 251.5,131.3 252.0,131.4 252.5,131.5 253.0,131.4 253.5,131.2 254.0,131.4 254.5,131.3 255.0,131.4 255.5,131.3 256.0,131.3 256.5,131.3 257.0,131.7 257.5,132.3 258.0,132.5 258.5,131.5 259.0,129.5 259.5,127.7 260.0,127.5 260.5,128.9 261.0,130.4 261.5,131.1 262.0,131.2 262.5,131.5 263.0,131.4 263.5,131.3 264.0,131.4 264.5,131.7 265.0,132.1 265.5,132.1 266.0,132.0 266.5,131.6 267.0,131.5 267.5,132.0 268.0,132.9 268.5,133.0 269.0,132.8 269.5,132.1 270.0,131.7 270.5,132.1 271.0,132.9 271.5,133.6 272.0,133.8" stroke="#9a2da3" stroke-width="1.35" stroke-linejoin="round"/>
<polyline points="17.4,167.3 17.7,164.0 18.0,167.3 18.4,164.9 18.7,166.7 19.0,164.2 19.3,167.3 19.6,166.1 20.0,170.9 20.3,168.4 20.6,169.6 20.9,166.1 21.2,166.9 21.6,164.6 21.9,166.8 22.2,163.7 22.5,166.8 22.8,162.3 23.2,165.1 23.5,161.8 23.8,165.0 24.1,163.4 24.4,165.2 24.8,162.7 25.1,163.0 25.4,160.3 25.7,162.6 26.0,159.9 26.4,163.6 26.7,162.2 27.0,165.7 27.3,164.6 27.6,167.6 28.0,168.2 28.3,172.1 28.6,169.4 28.9,169.8 29.2,166.6 29.6,167.4 29.9,164.8 30.2,166.2 30.5,163.8 30.8,167.8 31.2,165.9 31.5,169.1 31.8,165.3 32.1,166.0 32.4,163.0 32.8,164.4 33.1,161.9 33.4,164.6 33.7,163.4 34.0,166.0 34.4,165.5 34.7,167.6 35.0,165.5 35.3,166.0 35.6,163.5 36.0,165.3 36.3,163.3 36.6,164.7 36.9,162.9 37.2,164.5 37.6,164.0 37.9,165.4 38.2,164.7 38.5,165.1 38.8,163.5 39.2,164.0 39.5,163.0 39.8,163.4 40.1,162.7 40.4,163.4 40.8,163.1 41.1,163.8 41.4,163.4 41.7,163.3 42.0,162.3 42.4,162.5 42.7,162.3 43.0,162.2 43.3,161.9 43.6,161.9 44.0,161.7 44.3,161.8 44.6,161.6 44.9,161.7 45.2,161.8 45.6,161.7 45.9,161.7 46.2,161.5 46.5,161.5 46.8,161.4 47.2,161.7 47.5,161.5 47.8,161.5 48.0,161.5 48.6,161.2 49.2,161.2 49.8,160.9 50.4,161.1 51.0,160.9 51.6,160.9 52.2,160.8 52.8,160.7 53.4,160.6 54.0,160.5 54.6,160.3 55.2,160.3 55.8,160.3 56.4,160.3 57.0,160.1 57.6,159.9 58.2,159.8 58.8,159.9 59.4,159.8 60.0,159.9 60.6,160.0 61.2,159.6 61.8,159.8 62.4,159.8 63.0,159.4 63.6,159.5 64.2,159.6 64.8,159.3 65.4,159.3 66.0,159.4 66.6,159.2 67.2,159.2 67.8,159.3 68.4,159.2 69.0,159.2 69.6,159.3 70.2,159.2 70.8,158.8 71.4,159.1 72.0,159.0 72.6,159.0 73.2,159.0 73.8,159.1 74.4,159.0 75.0,158.8 75.6,158.9 76.2,158.6 76.8,158.8 77.4,158.7 78.0,158.6 78.6,158.5 79.2,158.5 79.8,158.5 80.4,158.7 81.0,158.6 81.6,158.5 82.2,158.5 82.8,158.7 83.4,158.5 84.0,158.4 84.6,158.7 85.2,158.4 85.8,158.5 86.4,158.5 87.0,158.4 87.6,158.4 88.2,158.5 88.8,158.4 89.4,158.4 90.0,158.3 90.6,158.5 91.2,158.2 91.8,158.2 92.4,158.2 93.0,158.3 93.6,158.2 94.2,158.3 94.8,158.2 95.4,158.3 96.0,158.1 96.6,158.1 97.2,158.2 97.8,158.1 98.4,158.1 99.0,158.1 99.6,158.1 100.2,158.2 100.8,158.2 101.4,158.3 102.0,158.2 102.6,158.1 103.2,158.0 103.8,158.0 104.4,157.9 105.0,158.2 105.6,158.3 106.2,158.1 106.8,158.1 107.4,157.8 108.0,158.1 108.6,158.0 109.2,158.1 109.8,158.0 110.4,158.0 111.0,158.0 111.6,158.0 112.2,158.3 112.8,158.1 113.4,157.9 114.0,158.0 114.6,158.0 115.2,158.3 115.8,157.8 116.4,158.1 117.0,158.1 117.6,158.3 118.2,158.2 118.8,158.0 119.4,157.8 120.0,157.9 120.6,157.9 121.2,158.0 121.8,157.9 122.4,157.8 123.0,158.1 123.6,158.0 124.2,157.9 124.8,157.9 125.4,157.8 126.0,157.8 126.6,158.2 127.2,157.8 127.8,157.8 128.4,158.0 129.0,157.8 129.6,157.8 130.2,156.9 130.8,153.8 131.4,146.2 132.0,139.1 132.6,139.0 133.2,143.4 133.8,145.2 134.4,143.9 135.0,143.1 135.6,144.1 136.2,146.6 136.8,149.4 137.4,152.0 138.0,153.9 138.6,155.7 139.2,156.8 139.8,157.4 140.4,157.7 141.0,157.7 141.6,157.9 142.2,157.6 142.8,157.9 143.4,157.7 144.0,157.8 144.6,157.5 145.2,157.7 145.8,157.5 146.4,157.5 147.0,157.7 147.6,157.6 148.2,157.5 148.8,157.3 149.4,157.7 150.0,157.6 150.6,157.7 151.2,157.7 151.8,157.7 152.4,157.3 153.0,157.1 153.6,157.6 154.2,157.3 154.8,157.6 155.4,157.5 156.0,157.5 156.6,157.5 157.0,157.3 157.3,157.4 157.6,157.5 158.0,157.5 158.3,157.7 158.6,157.4 158.9,157.7 159.2,157.6 159.6,157.5 159.9,157.3 160.2,157.6 160.5,157.3 160.8,157.4 161.2,157.5 161.5,157.6 161.8,157.5 162.1,157.4 162.4,157.3 162.8,157.8 163.1,157.3 163.4,157.4 163.7,157.5 164.0,158.2 164.4,157.5 164.7,158.6 165.0,157.2 165.3,157.9 165.6,157.7 166.0,159.5 166.3,157.5 166.6,158.0 166.9,157.4 167.2,157.4 167.6,157.5 167.9,157.4 168.2,157.4 168.5,159.6 168.8,157.4 169.2,158.1 169.5,157.9 169.8,159.1 170.1,157.9 170.4,158.0 170.8,157.8 171.1,160.5 171.4,157.8 171.7,160.6 172.0,157.7 172.4,159.3 172.7,158.2 173.0,162.4 173.3,158.5 173.6,161.6 174.0,158.6 174.3,159.3 174.6,160.2 174.9,159.8 175.2,158.9 175.6,162.4 175.9,159.2 176.2,162.8 176.5,159.2 176.8,160.2 177.2,159.1 177.5,163.7 177.8,160.4 178.1,162.0 178.4,161.9 178.8,163.3 179.1,160.1 179.4,162.5 179.7,159.6 180.0,162.2 180.4,160.0 180.7,163.6 181.0,160.3 181.3,164.9 181.6,162.1 182.0,165.5 182.3,165.1 182.6,168.5 182.9,162.1 183.2,160.9 183.6,160.6 183.9,160.4 184.2,160.0 184.5,159.9 184.8,159.8 185.2,159.5 185.5,159.5 185.8,159.0 186.1,158.6 186.4,158.3 186.8,158.1 187.1,157.7 187.4,157.7 187.7,157.7 188.0,157.1 188.4,157.0 188.7,156.9 189.0,156.9 189.3,156.7 189.6,156.8 190.0,156.8 190.3,156.6 190.6,156.6 190.9,156.7 191.2,157.1 191.6,158.7 191.9,162.0 192.2,166.4 192.5,168.5 192.8,167.0 193.2,164.6 193.5,164.4 193.8,161.8 194.1,163.3 194.4,161.9 194.8,162.3 195.1,162.0 195.4,166.7 195.7,164.0 196.0,167.7 196.4,165.9 196.7,165.5 197.0,162.7 197.3,162.8 197.6,161.8 198.0,162.8 198.3,161.1 198.6,165.2 198.9,161.2 199.2,165.2 199.6,162.3 199.9,163.4 200.2,160.9 200.5,160.5 200.8,160.0 201.2,162.4 201.5,159.8 201.8,162.3 202.1,159.7 202.4,162.5 202.8,159.3 203.1,161.7 203.4,158.6 203.7,161.8 204.0,158.4 204.4,160.8 204.7,158.4 205.0,159.7 205.3,157.7 205.6,158.2 206.0,157.6 206.3,158.1 206.6,157.1 206.9,157.4 207.2,156.9 207.6,158.6 207.9,156.8 208.2,156.6 208.5,156.8 208.8,156.9 209.2,156.4 209.5,157.2 209.8,156.6 210.1,156.9 210.4,156.6 210.8,156.9 211.1,156.2 211.4,156.6 211.7,156.3 212.0,156.2 212.4,156.3 212.7,156.2 213.0,156.2 213.3,156.3 213.6,156.3 214.0,156.1 214.0,156.0 214.5,156.0 215.0,156.2 215.5,156.0 216.0,156.3 216.5,156.3 217.0,156.0 217.5,156.5 218.0,156.1 218.5,156.2 219.0,156.3 219.5,156.2 220.0,156.4 220.5,156.5 221.0,156.8 221.5,156.7 222.0,156.3 222.5,156.5 223.0,156.7 223.5,156.4 224.0,156.2 224.5,156.4 225.0,156.1 225.5,156.4 226.0,156.3 226.5,156.7 227.0,156.3 227.5,156.0 228.0,156.5 228.5,156.3 229.0,156.1 229.5,156.4 230.0,156.1 230.5,155.8 231.0,156.0 231.5,156.6 232.0,156.7 232.5,156.2 233.0,156.4 233.5,155.8 234.0,156.5 234.5,156.2 235.0,156.4 235.5,156.2 236.0,156.3 236.5,155.8 237.0,156.4 237.5,156.1 238.0,156.4 238.5,156.7 239.0,155.6 239.5,156.6 240.0,156.4 240.5,156.4 241.0,156.5 241.5,156.2 242.0,155.8 242.5,156.1 243.0,156.2 243.5,155.6 244.0,156.4 244.5,156.4 245.0,155.9 245.5,156.3 246.0,156.3 246.5,156.3 247.0,156.2 247.5,156.5 248.0,156.3 248.5,156.8 249.0,156.3 249.5,156.6 250.0,156.6 250.5,155.8 251.0,156.3 251.5,156.4 252.0,156.4 252.5,156.4 253.0,156.6 253.5,156.5 254.0,156.2 254.5,156.6 255.0,156.2 255.5,156.4 256.0,156.1 256.5,156.0 257.0,156.2 257.5,157.4 258.0,157.5 258.5,156.3 259.0,155.1 259.5,153.1 260.0,153.0 260.5,153.9 261.0,155.4 261.5,156.3 262.0,157.0 262.5,156.3 263.0,156.4 263.5,156.5 264.0,156.7 264.5,156.6 265.0,156.9 265.5,157.5 266.0,156.7 266.5,156.8 267.0,156.5 267.5,157.3 268.0,158.3 268.5,158.1 269.0,158.9 269.5,157.1 270.0,156.6 270.5,157.4 271.0,157.5 271.5,159.1 272.0,159.4" stroke="#62ab1c" stroke-width="1.35" stroke-linejoin="round"/>
<polyline points="17.4,197.5 17.7,191.9 18.0,198.2 18.4,193.4 18.7,196.6 19.0,192.2 19.3,197.2 19.6,195.7 20.0,204.4 20.3,199.8 20.6,201.8 20.9,195.2 21.2,197.2 21.6,192.7 21.9,196.4 22.2,191.4 22.5,196.1 22.8,188.5 23.2,193.2 23.5,187.6 23.8,193.0 24.1,190.7 24.4,194.2 24.8,189.3 25.1,189.5 25.4,185.3 25.7,189.3 26.0,184.2 26.4,191.4 26.7,188.3 27.0,194.4 27.3,193.1 27.6,198.3 28.0,199.4 28.3,206.0 28.6,201.5 28.9,202.3 29.2,196.1 29.6,197.9 29.9,193.1 30.2,195.9 30.5,191.7 30.8,198.3 31.2,194.9 31.5,201.5 31.8,194.0 32.1,195.3 32.4,190.1 32.8,192.6 33.1,187.5 33.4,192.4 33.7,190.3 34.0,195.2 34.4,194.9 34.7,198.6 35.0,194.2 35.3,195.7 35.6,191.0 36.0,194.0 36.3,189.8 36.6,192.9 36.9,189.7 37.2,192.9 37.6,191.5 37.9,194.0 38.2,193.2 38.5,193.7 38.8,190.9 39.2,191.8 39.5,189.4 39.8,190.8 40.1,189.5 40.4,190.9 40.8,190.2 41.1,192.0 41.4,190.5 41.7,190.6 42.0,188.8 42.4,189.0 42.7,188.3 43.0,188.2 43.3,188.0 43.6,188.1 44.0,188.0 44.3,187.7 44.6,187.5 44.9,188.1 45.2,188.0 45.6,187.7 45.9,187.6 46.2,187.1 46.5,187.6 46.8,187.4 47.2,187.1 47.5,187.2 47.8,187.1 48.0,187.4 48.6,187.2 49.2,187.5 49.8,187.2 50.4,186.8 51.0,186.8 51.6,186.4 52.2,186.7 52.8,186.4 53.4,186.3 54.0,186.3 54.6,186.1 55.2,186.0 55.8,186.1 56.4,186.0 57.0,185.4 57.6,185.6 58.2,185.6 58.8,185.5 59.4,185.5 60.0,185.6 60.6,185.4 61.2,185.3 61.8,185.4 62.4,185.3 63.0,185.2 63.6,185.5 64.2,185.2 64.8,184.8 65.4,185.2 66.0,184.7 66.6,184.9 67.2,184.4 67.8,184.9 68.4,184.4 69.0,184.7 69.6,185.0 70.2,184.7 70.8,184.5 71.4,184.3 72.0,184.4 72.6,184.5 73.2,183.9 73.8,184.1 74.4,184.5 75.0,184.2 75.6,184.4 76.2,184.3 76.8,184.0 77.4,184.1 78.0,184.3 78.6,184.0 79.2,184.0 79.8,184.1 80.4,183.9 81.0,183.9 81.6,184.0 82.2,183.9 82.8,183.9 83.4,184.0 84.0,184.2 84.6,183.8 85.2,183.7 85.8,184.3 86.4,184.0 87.0,183.4 87.6,183.7 88.2,183.5 88.8,183.9 89.4,183.5 90.0,183.6 90.6,184.0 91.2,183.6 91.8,183.7 92.4,183.7 93.0,183.8 93.6,183.8 94.2,183.9 94.8,183.5 95.4,183.7 96.0,183.3 96.6,183.6 97.2,183.5 97.8,183.9 98.4,183.6 99.0,183.5 99.6,183.4 100.2,183.3 100.8,183.4 101.4,183.4 102.0,183.5 102.6,183.4 103.2,183.5 103.8,183.6 104.4,183.2 105.0,183.3 105.6,183.2 106.2,183.8 106.8,183.7 107.4,183.5 108.0,183.4 108.6,183.2 109.2,183.6 109.8,183.4 110.4,183.4 111.0,183.4 111.6,182.8 112.2,183.1 112.8,183.3 113.4,183.4 114.0,183.2 114.6,183.4 115.2,183.3 115.8,183.1 116.4,183.4 117.0,183.1 117.6,183.1 118.2,183.6 118.8,183.6 119.4,183.4 120.0,183.5 120.6,183.2 121.2,183.3 121.8,183.4 122.4,183.4 123.0,183.4 123.6,183.1 124.2,183.5 124.8,183.1 125.4,183.2 126.0,183.6 126.6,183.3 127.2,183.0 127.8,183.2 128.4,182.9 129.0,182.9 129.6,182.8 130.2,182.5 130.8,180.7 131.4,176.5 132.0,172.6 132.6,172.1 133.2,174.6 133.8,175.4 134.4,175.0 135.0,174.3 135.6,175.3 136.2,176.4 136.8,178.3 137.4,179.2 138.0,180.5 138.6,181.5 139.2,182.1 139.8,182.5 140.4,182.6 141.0,182.2 141.6,182.3 142.2,182.4 142.8,182.6 143.4,182.4 144.0,182.6 144.6,182.6 145.2,182.5 145.8,182.1 146.4,182.8 147.0,182.5 147.6,182.4 148.2,182.5 148.8,182.4 149.4,182.5 150.0,182.3 150.6,182.8 151.2,182.4 151.8,182.5 152.4,182.3 153.0,182.6 153.6,182.7 154.2,182.5 154.8,182.3 155.4,182.5 156.0,182.4 156.6,182.6 157.0,182.5 157.3,182.5 157.6,182.4 158.0,182.4 158.3,182.5 158.6,182.6 158.9,182.6 159.2,182.5 159.6,182.5 159.9,182.3 160.2,182.6 160.5,182.3 160.8,182.5 161.2,181.9 161.5,182.2 161.8,182.1 162.1,182.4 162.4,182.3 162.8,183.2 163.1,182.3 163.4,182.3 163.7,182.5 164.0,183.4 164.4,182.3 164.7,184.4 165.0,182.2 165.3,183.3 165.6,182.9 166.0,185.5 166.3,182.6 166.6,183.2 166.9,182.6 167.2,182.5 167.6,182.6 167.9,182.5 168.2,182.3 168.5,186.2 168.8,182.3 169.2,183.6 169.5,183.2 169.8,185.2 170.1,183.0 170.4,183.4 170.8,183.5 171.1,187.8 171.4,183.6 171.7,187.9 172.0,183.0 172.4,185.8 172.7,183.7 173.0,190.9 173.3,184.1 173.6,189.5 174.0,184.9 174.3,185.6 174.6,187.5 174.9,186.5 175.2,185.0 175.6,190.9 175.9,185.7 176.2,191.9 176.5,185.6 176.8,187.3 177.2,185.3 177.5,193.2 177.8,187.3 178.1,190.3 178.4,189.7 178.8,192.6 179.1,187.4 179.4,191.5 179.7,186.4 180.0,191.3 180.4,186.9 180.7,193.3 181.0,187.5 181.3,195.6 181.6,190.6 182.0,196.3 182.3,195.3 182.6,201.5 182.9,190.7 183.2,188.8 183.6,187.8 183.9,187.2 184.2,187.4 184.5,187.1 184.8,186.6 185.2,186.6 185.5,185.9 185.8,185.5 186.1,184.7 186.4,185.0 186.8,184.5 187.1,183.9 187.4,183.6 187.7,182.8 188.0,182.5 188.4,182.4 188.7,182.1 189.0,181.7 189.3,181.8 189.6,181.8 190.0,181.5 190.3,181.8 190.6,181.6 190.9,181.6 191.2,182.1 191.6,184.5 191.9,191.0 192.2,197.9 192.5,201.9 192.8,199.1 193.2,194.8 193.5,194.9 193.8,190.4 194.1,192.8 194.4,190.2 194.8,191.3 195.1,190.8 195.4,199.0 195.7,193.9 196.0,200.4 196.4,197.3 196.7,196.8 197.0,191.5 197.3,192.7 197.6,190.1 198.0,192.4 198.3,189.7 198.6,195.9 198.9,189.1 199.2,196.5 199.6,190.9 199.9,193.1 200.2,189.1 200.5,188.4 200.8,187.6 201.2,191.4 201.5,186.6 201.8,191.0 202.1,187.0 202.4,191.7 202.8,186.4 203.1,190.1 203.4,185.2 203.7,190.0 204.0,184.9 204.4,189.0 204.7,184.6 205.0,186.9 205.3,183.8 205.6,184.4 206.0,183.2 206.3,184.5 206.6,182.5 206.9,183.3 207.2,182.8 207.6,185.2 207.9,182.0 208.2,181.7 208.5,181.9 208.8,182.1 209.2,181.9 209.5,182.7 209.8,181.6 210.1,182.4 210.4,181.3 210.8,182.0 211.1,181.7 211.4,181.6 211.7,181.5 212.0,181.0 212.4,181.1 212.7,181.2 213.0,180.9 213.3,181.2 213.6,180.8 214.0,180.9 214.0,181.0 214.5,181.0 215.0,180.9 215.5,180.8 216.0,181.0 216.5,180.8 217.0,181.4 217.5,181.1 218.0,181.0 218.5,181.5 219.0,181.8 219.5,181.5 220.0,181.3 220.5,181.1 221.0,181.4 221.5,181.8 222.0,181.8 222.5,181.1 223.0,181.7 223.5,181.1 224.0,181.8 224.5,182.2 225.0,181.5 225.5,182.0 226.0,181.4 226.5,181.5 227.0,181.9 227.5,181.9 228.0,181.4 228.5,182.1 229.0,181.6 229.5,180.4 230.0,181.8 230.5,181.8 231.0,180.4 231.5,181.5 232.0,181.9 232.5,181.6 233.0,181.3 233.5,181.2 234.0,181.6 234.5,181.5 235.0,181.8 235.5,181.7 236.0,182.2 236.5,181.4 237.0,181.8 237.5,181.8 238.0,181.6 238.5,181.9 239.0,181.0 239.5,181.5 240.0,182.3 240.5,181.8 241.0,181.6 241.5,182.0 242.0,181.6 242.5,181.2 243.0,181.7 243.5,181.9 244.0,181.5 244.5,182.2 245.0,181.7 245.5,181.6 246.0,181.4 246.5,182.4 247.0,182.5 247.5,181.2 248.0,181.6 248.5,181.3 249.0,182.1 249.5,181.6 250.0,182.0 250.5,181.6 251.0,181.2 251.5,182.2 252.0,181.7 252.5,181.5 253.0,181.3 253.5,181.7 254.0,182.1 254.5,181.5 255.0,182.5 255.5,182.3 256.0,181.7 256.5,181.9 257.0,181.8 257.5,182.6 258.0,182.1 258.5,181.4 259.0,181.3 259.5,179.0 260.0,179.1 260.5,179.5 261.0,181.1 261.5,181.4 262.0,180.9 262.5,181.7 263.0,181.7 263.5,181.7 264.0,182.3 264.5,182.6 265.0,182.3 265.5,182.7 266.0,182.6 266.5,182.2 267.0,182.1 267.5,182.4 268.0,184.2 268.5,184.7 269.0,183.5 269.5,182.3 270.0,181.8 270.5,182.5 271.0,183.9 271.5,185.4 272.0,185.3" stroke="#12bdf2" stroke-width="1.35" stroke-linejoin="round"/>
<polyline points="17.4,224.3 17.7,220.7 18.0,224.4 18.4,221.7 18.7,223.7 19.0,220.7 19.3,224.1 19.6,223.0 20.0,228.1 20.3,225.3 20.6,226.4 20.9,223.0 21.2,224.0 21.6,221.3 21.9,223.7 22.2,220.5 22.5,223.5 22.8,218.9 23.2,221.7 23.5,218.3 23.8,221.6 24.1,220.3 24.4,222.1 24.8,219.3 25.1,219.6 25.4,216.9 25.7,219.1 26.0,216.2 26.4,220.5 26.7,218.8 27.0,222.3 27.3,221.3 27.6,225.0 28.0,225.3 28.3,229.3 28.6,226.3 28.9,226.8 29.2,223.3 29.6,224.5 29.9,221.4 30.2,223.1 30.5,220.6 30.8,224.8 31.2,222.6 31.5,226.2 31.8,222.3 32.1,222.9 32.4,219.7 32.8,221.1 33.1,218.1 33.4,221.2 33.7,220.1 34.0,223.0 34.4,222.7 34.7,224.5 35.0,222.5 35.3,223.1 35.6,220.3 36.0,222.1 36.3,219.9 36.6,221.4 36.9,219.6 37.2,221.4 37.6,220.7 37.9,222.0 38.2,221.6 38.5,221.6 38.8,220.1 39.2,220.7 39.5,219.5 39.8,219.9 40.1,219.3 40.4,220.4 40.8,219.7 41.1,220.6 41.4,219.9 41.7,219.8 42.0,219.1 42.4,219.2 42.7,218.5 43.0,218.9 43.3,218.5 43.6,218.6 44.0,218.5 44.3,218.7 44.6,218.3 44.9,218.3 45.2,218.5 45.6,218.3 45.9,218.2 46.2,218.4 46.5,217.9 46.8,218.1 47.2,218.3 47.5,218.1 47.8,218.1 48.0,218.0 48.6,217.9 49.2,217.8 49.8,217.7 50.4,217.8 51.0,217.7 51.6,217.6 52.2,217.6 52.8,217.2 53.4,217.3 54.0,217.1 54.6,217.4 55.2,217.1 55.8,217.1 56.4,217.0 57.0,216.8 57.6,216.8 58.2,216.9 58.8,216.9 59.4,216.7 60.0,216.9 60.6,216.6 61.2,216.7 61.8,216.6 62.4,216.6 63.0,216.2 63.6,216.6 64.2,216.5 64.8,216.4 65.4,216.4 66.0,216.3 66.6,216.0 67.2,216.1 67.8,216.0 68.4,216.0 69.0,216.1 69.6,216.2 70.2,215.8 70.8,215.8 71.4,215.9 72.0,216.0 72.6,215.9 73.2,215.8 73.8,215.9 74.4,215.8 75.0,215.7 75.6,215.9 76.2,215.5 76.8,215.7 77.4,215.7 78.0,215.7 78.6,215.8 79.2,215.6 79.8,215.6 80.4,215.7 81.0,215.8 81.6,215.5 82.2,215.6 82.8,215.6 83.4,215.4 84.0,215.6 84.6,215.4 85.2,215.5 85.8,215.5 86.4,215.7 87.0,215.3 87.6,215.5 88.2,215.4 88.8,215.4 89.4,215.3 90.0,215.5 90.6,215.3 91.2,215.5 91.8,215.3 92.4,215.4 93.0,215.4 93.6,215.1 94.2,215.2 94.8,215.3 95.4,215.3 96.0,215.1 96.6,215.3 97.2,215.4 97.8,215.2 98.4,215.3 99.0,215.1 99.6,215.4 100.2,215.5 100.8,215.6 101.4,215.2 102.0,215.4 102.6,215.1 103.2,215.2 103.8,215.2 104.4,215.0 105.0,215.1 105.6,215.2 106.2,215.2 106.8,215.1 107.4,215.2 108.0,215.3 108.6,215.3 109.2,214.9 109.8,215.1 110.4,215.1 111.0,214.8 111.6,215.2 112.2,215.3 112.8,214.9 113.4,214.8 114.0,215.0 114.6,215.3 115.2,215.4 115.8,215.2 116.4,215.1 117.0,215.0 117.6,215.2 118.2,215.0 118.8,215.1 119.4,215.2 120.0,215.1 120.6,215.0 121.2,215.1 121.8,215.2 122.4,215.2 123.0,214.9 123.6,215.1 124.2,215.1 124.8,215.0 125.4,214.9 126.0,214.9 126.6,214.8 127.2,215.2 127.8,214.9 128.4,214.9 129.0,214.9 129.6,214.9 130.2,214.0 130.8,211.0 131.4,203.8 132.0,196.5 132.6,196.5 133.2,200.7 133.8,202.6 134.4,201.3 135.0,200.2 135.6,201.3 136.2,203.8 136.8,206.8 137.4,208.9 138.0,210.9 138.6,212.8 139.2,213.6 139.8,214.4 140.4,214.3 141.0,214.5 141.6,214.4 142.2,214.5 142.8,214.5 143.4,214.5 144.0,214.2 144.6,214.3 145.2,214.4 145.8,214.5 146.4,214.3 147.0,214.3 147.6,214.1 148.2,214.4 148.8,214.4 149.4,214.2 150.0,214.3 150.6,214.5 151.2,214.2 151.8,214.2 152.4,214.4 153.0,214.0 153.6,214.2 154.2,214.2 154.8,214.2 155.4,214.2 156.0,214.2 156.6,214.2 157.0,214.2 157.3,214.3 157.6,214.4 158.0,214.2 158.3,214.2 158.6,213.9 158.9,214.5 159.2,214.2 159.6,214.4 159.9,214.3 160.2,214.4 160.5,214.1 160.8,214.5 161.2,213.7 161.5,214.3 161.8,214.2 162.1,214.1 162.4,214.1 162.8,214.7 163.1,214.1 163.4,214.3 163.7,214.4 164.0,214.9 164.4,214.2 164.7,215.5 165.0,214.1 165.3,214.8 165.6,214.5 166.0,216.0 166.3,214.5 166.6,214.8 166.9,214.1 167.2,214.4 167.6,214.2 167.9,214.4 168.2,214.2 168.5,216.4 168.8,214.3 169.2,215.0 169.5,214.8 169.8,215.8 170.1,214.5 170.4,215.0 170.8,214.7 171.1,217.8 171.4,214.6 171.7,217.9 172.0,214.9 172.4,216.1 172.7,215.1 173.0,219.8 173.3,215.4 173.6,218.8 174.0,215.8 174.3,216.1 174.6,217.3 174.9,216.8 175.2,216.2 175.6,219.9 175.9,216.3 176.2,220.4 176.5,216.0 176.8,217.2 177.2,215.9 177.5,221.3 177.8,217.4 178.1,219.1 178.4,219.0 178.8,220.7 179.1,217.4 179.4,220.1 179.7,216.6 180.0,219.6 180.4,216.9 180.7,221.2 181.0,217.3 181.3,222.4 181.6,219.5 182.0,223.3 182.3,222.6 182.6,226.6 182.9,219.3 183.2,218.3 183.6,217.5 183.9,217.3 184.2,217.4 184.5,217.0 184.8,216.7 185.2,216.6 185.5,216.4 185.8,216.1 186.1,215.5 186.4,215.5 186.8,215.1 187.1,214.8 187.4,214.7 187.7,214.5 188.0,214.0 188.4,214.1 188.7,213.8 189.0,213.7 189.3,213.5 189.6,213.6 190.0,213.6 190.3,213.4 190.6,213.3 190.9,213.9 191.2,214.1 191.6,215.6 191.9,219.7 192.2,224.2 192.5,226.6 192.8,224.7 193.2,222.2 193.5,222.5 193.8,219.4 194.1,220.5 194.4,219.2 194.8,220.0 195.1,219.6 195.4,224.6 195.7,221.6 196.0,225.7 196.4,223.6 196.7,223.2 197.0,220.0 197.3,220.5 197.6,219.1 198.0,220.4 198.3,218.5 198.6,222.9 198.9,218.2 199.2,223.1 199.6,219.6 199.9,220.9 200.2,218.0 200.5,218.0 200.8,217.5 201.2,219.9 201.5,216.9 201.8,219.7 202.1,217.0 202.4,219.9 202.8,216.4 203.1,218.9 203.4,215.4 203.7,218.9 204.0,215.3 204.4,218.2 204.7,215.3 205.0,217.1 205.3,214.8 205.6,215.3 206.0,214.6 206.3,215.1 206.6,214.1 206.9,214.2 207.2,214.1 207.6,215.7 207.9,213.8 208.2,213.6 208.5,213.6 208.8,214.0 209.2,213.4 209.5,214.2 209.8,213.4 210.1,213.8 210.4,213.4 210.8,213.6 211.1,213.4 211.4,213.4 211.7,213.2 212.0,213.4 212.4,213.2 212.7,213.2 213.0,213.0 213.3,213.2 213.6,213.1 214.0,213.1 214.0,213.1 214.5,213.0 215.0,213.0 215.5,213.0 216.0,213.2 216.5,213.1 217.0,213.0 217.5,213.2 218.0,213.0 218.5,213.2 219.0,213.2 219.5,213.3 220.0,213.3 220.5,213.1 221.0,213.3 221.5,213.3 222.0,213.4 222.5,213.5 223.0,213.3 223.5,213.2 224.0,213.6 224.5,213.1 225.0,213.9 225.5,213.7 226.0,213.4 226.5,213.3 227.0,213.3 227.5,213.2 228.0,213.6 228.5,213.5 229.0,213.2 229.5,213.3 230.0,213.3 230.5,213.2 231.0,213.4 231.5,213.2 232.0,213.6 232.5,213.4 233.0,213.1 233.5,213.4 234.0,213.7 234.5,213.4 235.0,213.2 235.5,213.0 236.0,213.2 236.5,213.5 237.0,213.4 237.5,212.9 238.0,213.4 238.5,213.0 239.0,213.3 239.5,213.3 240.0,213.3 240.5,213.3 241.0,213.1 241.5,213.1 242.0,213.4 242.5,213.3 243.0,213.6 243.5,213.3 244.0,213.5 244.5,213.3 245.0,213.2 245.5,213.7 246.0,213.0 246.5,213.1 247.0,213.5 247.5,213.6 248.0,213.4 248.5,213.2 249.0,213.3 249.5,213.6 250.0,212.8 250.5,212.8 251.0,213.1 251.5,213.0 252.0,213.1 252.5,213.2 253.0,213.1 253.5,213.3 254.0,213.2 254.5,213.1 255.0,213.2 255.5,213.2 256.0,213.1 256.5,213.7 257.0,213.7 257.5,213.9 258.0,214.8 258.5,213.7 259.0,211.6 259.5,210.0 260.0,209.5 260.5,210.9 261.0,212.2 261.5,213.3 262.0,213.9 262.5,213.6 263.0,213.5 263.5,213.4 264.0,213.7 264.5,214.0 265.0,213.9 265.5,214.0 266.0,213.9 266.5,213.9 267.0,213.7 267.5,213.6 268.0,215.3 268.5,216.1 269.0,215.4 269.5,214.3 270.0,214.0 270.5,214.5 271.0,215.4 271.5,216.3 272.0,216.0" stroke="#c4122f" stroke-width="1.35" stroke-linejoin="round"/>
</g>
<rect x="17.1" y="22.9" width="255.3" height="228.2" fill="none" stroke="#2a2a2a" stroke-width="1.35"/>
<path d="M47.2,251.1v-2.6M47.2,22.9v2.6M84.7,251.1v-2.6M84.7,22.9v2.6M122.3,251.1v-2.6M122.3,22.9v2.6M159.9,251.1v-2.6M159.9,22.9v2.6M197.5,251.1v-2.6M197.5,22.9v2.6M235.1,251.1v-2.6M235.1,22.9v2.6M272.6,251.1v-2.6M272.6,22.9v2.6" stroke="#2a2a2a" stroke-width="1.2" fill="none"/>
<g font-family="'Liberation Serif',serif" font-weight="bold" font-size="10.6" fill="#1a1a1a" text-anchor="middle">
<text x="47.2" y="265.6">3500</text>
<text x="84.7" y="265.6">3000</text>
<text x="122.3" y="265.6">2500</text>
<text x="159.9" y="265.6">2000</text>
<text x="197.5" y="265.6">1500</text>
<text x="235.1" y="265.6">1000</text>
<text x="272.6" y="265.6">500</text>
<text x="144.6" y="282" font-size="11">Wavelength (cm<tspan dy="-4" font-size="7.5">-1</tspan><tspan dy="4">)</tspan></text>
<text transform="translate(9.9,136.5) rotate(-90)" font-size="11">Absorbance (N.A.)</text>
<text x="144.5" y="20.3" font-size="10.5">MXene Air</text>
</g>
<g fill="none" stroke="#000" stroke-width="1.8">
<rect x="125.3" y="30.9" width="15.8" height="216.3"/>
<rect x="185.1" y="30.9" width="8.7" height="216.3"/>
<rect x="254.8" y="30.9" width="8.7" height="216.3"/>
</g>
<g fill="#000">
<path d="M105.9,30.2H110V26.2L121.9,32L110,37.9V33.9H105.9Z"/>
<path d="M197,31.8L204.2,21.8L205.8,23.9L207,23.3L209.3,23.1L211,26.4L208.5,27.9L209.9,31.8Z"/>
<path d="M265.9,32.1L276.9,26.3V30H286.1V34.1H276.9V37.8Z"/>
</g>
<g font-family="'Liberation Sans',sans-serif" font-weight="bold" font-size="10" fill="#000" text-anchor="middle">
<text x="76" y="34.6">CO<tspan dy="2" font-size="6.5">2</tspan></text>
<text x="76" y="46">(Asym stretch)</text>
<text x="221.5" y="7.8">CO<tspan dy="2" font-size="6.5">2</tspan></text>
<text x="221.5" y="20.2" textLength="63.6" lengthAdjust="spacingAndGlyphs">(sym stretch)</text>
<text x="316" y="36.4">CO<tspan dy="2" font-size="6.5">2</tspan></text>
<text x="316" y="48.4">(bending)</text>
</g>
<rect x="290.1" y="79.2" width="63.1" height="115" fill="#fff" stroke="#222" stroke-width="1.1"/>
<g font-family="'Liberation Serif',serif" font-weight="bold" font-size="10.6" fill="#1a1a1a">
<path d="M292.4,88.6H319" stroke="#0072c6" stroke-width="1.4"/>
<text x="321.4" y="94.1">150<tspan dy="-4" font-size="8.4">o</tspan><tspan dy="4">C</tspan></text>
<path d="M292.4,104.7H319" stroke="#ff5a0f" stroke-width="1.4"/>
<text x="321.4" y="110.3">250<tspan dy="-4" font-size="8.4">o</tspan><tspan dy="4">C</tspan></text>
<path d="M292.4,120.9H319" stroke="#ffab0a" stroke-width="1.4"/>
<text x="321.4" y="126.5">350<tspan dy="-4" font-size="8.4">o</tspan><tspan dy="4">C</tspan></text>
<path d="M292.4,137.0H319" stroke="#9a2da3" stroke-width="1.4"/>
<text x="321.4" y="142.7">450<tspan dy="-4" font-size="8.4">o</tspan><tspan dy="4">C</tspan></text>
<path d="M292.4,153.1H319" stroke="#62ab1c" stroke-width="1.4"/>
<text x="321.4" y="158.9">550<tspan dy="-4" font-size="8.4">o</tspan><tspan dy="4">C</tspan></text>
<path d="M292.4,169.2H319" stroke="#12bdf2" stroke-width="1.4"/>
<text x="321.4" y="175.1">650<tspan dy="-4" font-size="8.4">o</tspan><tspan dy="4">C</tspan></text>
<path d="M292.4,185.4H319" stroke="#c4122f" stroke-width="1.4"/>
<text x="321.4" y="191.3">750<tspan dy="-4" font-size="8.4">o</tspan><tspan dy="4">C</tspan></text>
</g>
<text x="9" y="15.4" font-family="'Liberation Sans',sans-serif" font-weight="bold" font-size="13.4" fill="#000" textLength="17.6" lengthAdjust="spacingAndGlyphs">(a)</text>
<path d="M1,283.5H357" stroke="#c9c9c9" stroke-width="1"/>
<clipPath id="cf"><rect x="400.7" y="18.6" width="281.9" height="222.9"/></clipPath>
<g clip-path="url(#cf)">
<polygon points="411.2,241.5 411.2,241.3 411.9,241.3 412.7,241.2 413.4,241.1 414.2,241.0 414.9,240.8 415.7,240.6 416.4,240.3 417.2,240.0 417.9,239.5 418.7,239.0 419.4,238.4 420.2,237.6 420.9,236.6 421.7,235.4 422.4,234.1 423.2,232.4 423.9,230.5 424.7,228.3 425.4,225.7 426.2,222.8 426.9,219.4 427.7,215.6 428.4,211.4 429.2,206.7 429.9,201.5 430.7,195.9 431.4,189.8 432.2,183.3 432.9,176.4 433.7,169.2 434.4,161.7 435.2,154.0 435.9,146.2 436.7,138.4 437.4,130.7 438.2,123.2 438.9,116.1 439.7,109.4 440.4,103.2 441.2,97.7 441.9,93.1 442.7,89.2 443.4,86.3 444.2,84.4 444.9,83.6 445.7,83.7 446.4,85.0 447.2,87.2 447.9,90.4 448.7,94.5 449.4,99.5 450.2,105.2 450.9,111.5 451.7,118.4 452.4,125.7 453.2,133.2 453.9,141.0 454.7,148.8 455.4,156.6 456.2,164.2 456.9,171.6 457.7,178.7 458.4,185.5 459.2,191.9 459.9,197.8 460.7,203.3 461.4,208.3 462.2,212.8 462.9,216.9 463.7,220.6 464.4,223.8 465.2,226.6 465.9,229.1 466.7,231.2 467.4,233.0 468.2,234.6 468.9,235.9 469.7,236.9 470.4,237.8 471.2,238.6 471.9,239.2 472.7,239.7 473.4,240.1 474.2,240.4 474.9,240.7 475.7,240.9 476.4,241.0 477.2,241.1 477.9,241.2 478.7,241.3 479.4,241.3 479.4,241.5" fill="#8fe0f8"/>
<polygon points="419.4,241.5 419.4,241.3 420.2,241.3 420.9,241.2 421.7,241.2 422.4,241.1 423.2,241.0 423.9,240.9 424.7,240.8 425.4,240.6 426.2,240.4 426.9,240.2 427.7,239.9 428.4,239.6 429.2,239.3 429.9,238.8 430.7,238.4 431.4,237.8 432.2,237.1 432.9,236.4 433.7,235.5 434.4,234.6 435.2,233.5 435.9,232.2 436.7,230.8 437.4,229.3 438.2,227.6 438.9,225.7 439.7,223.6 440.4,221.2 441.2,218.7 441.9,216.0 442.7,213.0 443.4,209.8 444.2,206.4 444.9,202.8 445.7,198.9 446.4,194.8 447.2,190.5 447.9,186.1 448.7,181.5 449.4,176.7 450.2,171.8 450.9,166.8 451.7,161.8 452.4,156.7 453.2,151.7 453.9,146.7 454.7,141.8 455.4,137.0 456.2,132.4 456.9,128.0 457.7,123.9 458.4,120.1 459.2,116.6 459.9,113.6 460.7,110.9 461.4,108.6 462.2,106.9 462.9,105.6 463.7,104.8 464.4,104.5 465.2,104.7 465.9,105.4 466.7,106.7 467.4,108.4 468.2,110.6 468.9,113.2 469.7,116.2 470.4,119.6 471.2,123.4 471.9,127.5 472.7,131.8 473.4,136.4 474.2,141.1 474.9,146.0 475.7,151.0 476.4,156.0 477.2,161.1 477.9,166.2 478.7,171.1 479.4,176.0 480.2,180.8 480.9,185.5 481.7,190.0 482.4,194.3 483.2,198.4 483.9,202.3 484.7,205.9 485.4,209.4 486.2,212.6 486.9,215.6 487.7,218.4 488.4,220.9 489.2,223.3 489.9,225.4 490.7,227.3 491.4,229.1 492.2,230.7 492.9,232.1 493.7,233.3 494.4,234.4 495.2,235.4 495.9,236.3 496.7,237.0 497.4,237.7 498.2,238.3 498.9,238.8 499.7,239.2 500.4,239.6 501.2,239.9 501.9,240.2 502.7,240.4 503.4,240.6 504.2,240.8 504.9,240.9 505.7,241.0 506.4,241.1 507.2,241.2 507.9,241.2 508.7,241.3 509.4,241.3 509.4,241.5" fill="#5fb6e0"/>
<polygon points="450.2,241.5 450.2,241.3 450.9,241.3 451.7,241.2 452.4,241.2 453.2,241.1 453.9,241.0 454.7,240.9 455.4,240.8 456.2,240.6 456.9,240.4 457.7,240.2 458.4,239.9 459.2,239.6 459.9,239.2 460.7,238.8 461.4,238.2 462.2,237.7 462.9,237.0 463.7,236.3 464.4,235.4 465.2,234.4 465.9,233.4 466.7,232.2 467.4,230.9 468.2,229.4 468.9,227.9 469.7,226.2 470.4,224.3 471.2,222.4 471.9,220.3 472.7,218.1 473.4,215.8 474.2,213.4 474.9,210.9 475.7,208.3 476.4,205.7 477.2,203.0 477.9,200.4 478.7,197.8 479.4,195.2 480.2,192.7 480.9,190.3 481.7,188.0 482.4,185.9 483.2,184.0 483.9,182.3 484.7,180.8 485.4,179.6 486.2,178.7 486.9,178.0 487.7,177.6 488.4,177.5 489.2,177.7 489.9,178.2 490.7,179.0 491.4,180.1 492.2,181.4 492.9,183.0 493.7,184.8 494.4,186.8 495.2,188.9 495.9,191.2 496.7,193.7 497.4,196.2 498.2,198.8 498.9,201.4 499.7,204.1 500.4,206.7 501.2,209.3 501.9,211.9 502.7,214.3 503.4,216.7 504.2,219.0 504.9,221.1 505.7,223.2 506.4,225.1 507.2,226.9 507.9,228.5 508.7,230.0 509.4,231.4 510.2,232.7 510.9,233.8 511.7,234.8 512.5,235.8 513.2,236.6 514.0,237.3 514.7,237.9 515.5,238.5 516.2,238.9 517.0,239.3 517.7,239.7 518.5,240.0 519.2,240.3 520.0,240.5 520.7,240.7 521.5,240.8 522.2,240.9 523.0,241.1 523.7,241.1 524.5,241.2 525.2,241.3 526.0,241.3 526.0,241.5" fill="#ffa98a"/>
<polygon points="477.2,241.5 477.2,241.3 477.9,241.3 478.7,241.3 479.4,241.2 480.2,241.1 480.9,241.1 481.7,241.0 482.4,240.9 483.2,240.8 483.9,240.7 484.7,240.5 485.4,240.3 486.2,240.1 486.9,239.9 487.7,239.7 488.4,239.4 489.2,239.0 489.9,238.6 490.7,238.2 491.4,237.7 492.2,237.2 492.9,236.6 493.7,235.9 494.4,235.2 495.2,234.4 495.9,233.5 496.7,232.5 497.4,231.4 498.2,230.2 498.9,229.0 499.7,227.6 500.4,226.1 501.2,224.5 501.9,222.8 502.7,221.0 503.4,219.1 504.2,217.0 504.9,214.9 505.7,212.6 506.4,210.3 507.2,207.9 507.9,205.3 508.7,202.7 509.4,200.1 510.2,197.4 510.9,194.6 511.7,191.8 512.5,189.0 513.2,186.2 514.0,183.4 514.7,180.7 515.5,178.0 516.2,175.4 517.0,172.9 517.7,170.5 518.5,168.2 519.2,166.1 520.0,164.1 520.7,162.3 521.5,160.8 522.2,159.4 523.0,158.2 523.7,157.3 524.5,156.6 525.2,156.1 526.0,155.9 526.7,156.0 527.5,156.2 528.2,156.8 529.0,157.6 529.7,158.6 530.5,159.8 531.2,161.3 532.0,162.9 532.7,164.8 533.5,166.8 534.2,169.0 535.0,171.3 535.7,173.7 536.5,176.3 537.2,178.9 538.0,181.6 538.7,184.4 539.5,187.2 540.2,190.0 541.0,192.8 541.7,195.5 542.5,198.3 543.2,201.0 544.0,203.6 544.7,206.2 545.5,208.7 546.2,211.1 547.0,213.4 547.7,215.6 548.5,217.7 549.2,219.7 550.0,221.6 550.7,223.4 551.5,225.1 552.2,226.6 553.0,228.1 553.7,229.4 554.5,230.6 555.2,231.8 556.0,232.8 556.7,233.8 557.5,234.7 558.2,235.5 559.0,236.2 559.7,236.8 560.5,237.4 561.2,237.9 562.0,238.4 562.7,238.8 563.5,239.1 564.2,239.5 565.0,239.7 565.7,240.0 566.5,240.2 567.2,240.4 568.0,240.6 568.7,240.7 569.5,240.8 570.2,240.9 571.0,241.0 571.7,241.1 572.5,241.2 573.2,241.2 574.0,241.3 574.7,241.3 575.5,241.3 575.5,241.5" fill="#e8899f"/>
<polygon points="532.0,241.5 532.0,241.3 532.7,241.3 533.5,241.2 534.2,241.1 535.0,241.0 535.7,240.8 536.5,240.6 537.2,240.4 538.0,240.1 538.7,239.7 539.5,239.2 540.2,238.7 541.0,238.0 541.7,237.2 542.5,236.3 543.2,235.2 544.0,234.0 544.7,232.5 545.5,230.9 546.2,229.1 547.0,227.0 547.7,224.8 548.5,222.3 549.2,219.6 550.0,216.8 550.7,213.7 551.5,210.5 552.2,207.2 553.0,203.9 553.7,200.4 554.5,197.0 555.2,193.7 556.0,190.5 556.7,187.4 557.5,184.6 558.2,182.1 559.0,179.9 559.7,178.1 560.5,176.7 561.2,175.8 562.0,175.4 562.7,175.4 563.5,175.9 564.2,176.8 565.0,178.2 565.7,180.1 566.5,182.3 567.2,184.8 568.0,187.6 568.7,190.7 569.5,193.9 570.2,197.3 571.0,200.7 571.7,204.1 572.5,207.5 573.2,210.8 574.0,213.9 574.7,217.0 575.5,219.8 576.2,222.5 577.0,224.9 577.7,227.2 578.5,229.2 579.2,231.0 580.0,232.6 580.7,234.1 581.5,235.3 582.2,236.4 583.0,237.3 583.7,238.1 584.5,238.7 585.2,239.3 586.0,239.7 586.7,240.1 587.5,240.4 588.2,240.6 589.0,240.8 589.7,241.0 590.5,241.1 591.2,241.2 592.0,241.3 592.7,241.3 592.7,241.5" fill="#ffa98a"/>
<polygon points="546.2,241.5 546.2,241.3 547.0,241.3 547.7,241.3 548.5,241.2 549.2,241.1 550.0,241.0 550.7,240.9 551.5,240.8 552.2,240.6 553.0,240.4 553.7,240.1 554.5,239.8 555.2,239.5 556.0,239.1 556.7,238.7 557.5,238.1 558.2,237.5 559.0,236.8 559.7,236.0 560.5,235.1 561.2,234.1 562.0,233.0 562.7,231.8 563.5,230.4 564.2,228.9 565.0,227.3 565.7,225.6 566.5,223.7 567.2,221.7 568.0,219.6 568.7,217.4 569.5,215.1 570.2,212.8 571.0,210.3 571.7,207.9 572.5,205.4 573.2,203.0 574.0,200.5 574.7,198.2 575.5,195.9 576.2,193.8 577.0,191.8 577.7,190.0 578.5,188.3 579.2,187.0 580.0,185.8 580.7,184.9 581.5,184.3 582.2,184.0 583.0,183.9 583.7,184.2 584.5,184.7 585.2,185.5 586.0,186.5 586.7,187.9 587.5,189.4 588.2,191.2 589.0,193.1 589.7,195.2 590.5,197.4 591.2,199.7 592.0,202.1 592.7,204.6 593.5,207.1 594.2,209.5 595.0,212.0 595.7,214.3 596.5,216.7 597.2,218.9 598.0,221.0 598.7,223.1 599.5,225.0 600.2,226.8 601.0,228.4 601.7,229.9 602.5,231.3 603.2,232.6 604.0,233.8 604.7,234.8 605.5,235.7 606.2,236.6 607.0,237.3 607.7,237.9 608.5,238.5 609.2,239.0 610.0,239.4 610.7,239.7 611.5,240.0 612.2,240.3 613.0,240.5 613.7,240.7 614.5,240.9 615.2,241.0 616.0,241.1 616.7,241.2 617.5,241.2 618.2,241.3 619.0,241.3 619.0,241.5" fill="#cc91cc"/>
<polygon points="576.2,241.5 576.2,241.3 577.0,241.3 577.7,241.3 578.5,241.2 579.2,241.1 580.0,241.1 580.7,241.0 581.5,240.9 582.2,240.8 583.0,240.6 583.7,240.5 584.5,240.3 585.2,240.1 586.0,239.8 586.7,239.5 587.5,239.2 588.2,238.9 589.0,238.5 589.7,238.1 590.5,237.6 591.2,237.1 592.0,236.5 592.7,235.9 593.5,235.3 594.2,234.6 595.0,233.8 595.7,233.0 596.5,232.2 597.2,231.3 598.0,230.5 598.7,229.5 599.5,228.6 600.2,227.7 601.0,226.7 601.7,225.8 602.5,224.9 603.2,224.0 604.0,223.1 604.7,222.3 605.5,221.5 606.2,220.8 607.0,220.2 607.7,219.7 608.5,219.2 609.2,218.8 610.0,218.6 610.7,218.4 611.5,218.3 612.2,218.3 613.0,218.5 613.7,218.7 614.5,219.0 615.2,219.5 616.0,220.0 616.7,220.6 617.5,221.3 618.2,222.0 619.0,222.8 619.7,223.6 620.5,224.5 621.2,225.4 622.0,226.4 622.7,227.3 623.5,228.2 624.2,229.2 625.0,230.1 625.7,231.0 626.5,231.9 627.2,232.7 628.0,233.5 628.7,234.3 629.5,235.0 630.2,235.7 631.0,236.3 631.7,236.9 632.5,237.4 633.2,237.9 634.0,238.3 634.7,238.7 635.5,239.1 636.2,239.4 637.0,239.7 637.7,240.0 638.5,240.2 639.2,240.4 640.0,240.6 640.7,240.7 641.5,240.8 642.2,240.9 643.0,241.0 643.7,241.1 644.5,241.2 645.2,241.2 646.0,241.3 646.7,241.3 646.7,241.5" fill="#b4dc8c"/>
<polygon points="605.5,241.5 605.5,241.3 606.2,241.3 607.0,241.3 607.7,241.2 608.5,241.2 609.2,241.1 610.0,241.1 610.7,241.0 611.5,240.9 612.2,240.8 613.0,240.7 613.7,240.5 614.5,240.4 615.2,240.2 616.0,240.1 616.7,239.8 617.5,239.6 618.2,239.4 619.0,239.1 619.7,238.8 620.5,238.5 621.2,238.1 622.0,237.7 622.7,237.3 623.5,236.9 624.2,236.4 625.0,235.9 625.7,235.4 626.5,234.8 627.2,234.3 628.0,233.7 628.7,233.0 629.5,232.4 630.2,231.8 631.0,231.1 631.7,230.5 632.5,229.8 633.2,229.2 634.0,228.5 634.7,227.9 635.5,227.3 636.2,226.7 637.0,226.1 637.7,225.6 638.5,225.2 639.2,224.7 640.0,224.4 640.7,224.0 641.5,223.8 642.2,223.6 643.0,223.4 643.7,223.3 644.5,223.3 645.2,223.3 646.0,223.5 646.7,223.6 647.5,223.9 648.2,224.2 649.0,224.5 649.7,224.9 650.5,225.3 651.2,225.8 652.0,226.4 652.7,226.9 653.5,227.5 654.2,228.1 655.0,228.8 655.7,229.4 656.5,230.1 657.2,230.7 658.0,231.4 658.7,232.0 659.5,232.7 660.2,233.3 661.0,233.9 661.7,234.5 662.5,235.1 663.2,235.6 664.0,236.1 664.7,236.6 665.5,237.1 666.2,237.5 667.0,237.9 667.7,238.3 668.5,238.6 669.2,238.9 670.0,239.2 670.7,239.5 671.5,239.7 672.2,239.9 673.0,240.1 673.7,240.3 674.5,240.5 675.2,240.6 676.0,240.7 676.7,240.8 677.5,240.9 678.2,241.0 679.0,241.1 679.7,241.1 680.5,241.2 681.2,241.3 682.0,241.3 682.0,241.5" fill="#ffd88a"/>
<polygon points="419.4,241.5 419.4,241.3 420.2,241.3 420.9,241.2 421.7,241.2 422.4,241.1 423.2,241.0 423.9,240.9 424.7,240.8 425.4,240.6 426.2,240.4 426.9,240.2 427.7,239.9 428.4,239.6 429.2,239.3 429.9,238.8 430.7,238.4 431.4,237.8 432.2,237.1 432.9,236.4 433.7,235.5 434.4,234.6 435.2,233.5 435.9,232.2 436.7,230.8 437.4,229.3 438.2,227.6 438.9,225.7 439.7,223.6 440.4,221.2 441.2,218.7 441.9,216.0 442.7,213.0 443.4,209.8 444.2,206.4 444.9,202.8 445.7,198.9 446.4,194.8 447.2,190.5 447.9,186.1 448.7,181.5 449.4,176.7 450.2,171.8 450.9,166.8 451.7,161.8 452.4,156.7 453.2,151.7 453.9,146.7 454.7,148.8 455.4,156.6 456.2,164.2 456.9,171.6 457.7,178.7 458.4,185.5 459.2,191.9 459.9,197.8 460.7,203.3 461.4,208.3 462.2,212.8 462.9,216.9 463.7,220.6 464.4,223.8 465.2,226.6 465.9,229.1 466.7,231.2 467.4,233.0 468.2,234.6 468.9,235.9 469.7,236.9 470.4,237.8 471.2,238.6 471.9,239.2 472.7,239.7 473.4,240.1 474.2,240.4 474.9,240.7 475.7,240.9 476.4,241.0 477.2,241.1 477.9,241.2 478.7,241.3 479.4,241.3 479.4,241.5" fill="#08a9df"/>
<polygon points="450.2,241.5 450.2,241.3 450.9,241.3 451.7,241.2 452.4,241.2 453.2,241.1 453.9,241.0 454.7,240.9 455.4,240.8 456.2,240.6 456.9,240.4 457.7,240.2 458.4,239.9 459.2,239.6 459.9,239.2 460.7,238.8 461.4,238.2 462.2,237.7 462.9,237.0 463.7,236.3 464.4,235.4 465.2,234.4 465.9,233.4 466.7,232.2 467.4,230.9 468.2,229.4 468.9,227.9 469.7,226.2 470.4,224.3 471.2,222.4 471.9,220.3 472.7,218.1 473.4,215.8 474.2,213.4 474.9,210.9 475.7,208.3 476.4,205.7 477.2,203.0 477.9,200.4 478.7,197.8 479.4,195.2 480.2,192.7 480.9,190.3 481.7,190.0 482.4,194.3 483.2,198.4 483.9,202.3 484.7,205.9 485.4,209.4 486.2,212.6 486.9,215.6 487.7,218.4 488.4,220.9 489.2,223.3 489.9,225.4 490.7,227.3 491.4,229.1 492.2,230.7 492.9,232.1 493.7,233.3 494.4,234.4 495.2,235.4 495.9,236.3 496.7,237.0 497.4,237.7 498.2,238.3 498.9,238.8 499.7,239.2 500.4,239.6 501.2,239.9 501.9,240.2 502.7,240.4 503.4,240.6 504.2,240.8 504.9,240.9 505.7,241.0 506.4,241.1 507.2,241.2 507.9,241.2 508.7,241.3 509.4,241.3 509.4,241.5" fill="#b7857a"/>
<polygon points="477.2,241.5 477.2,241.3 477.9,241.3 478.7,241.3 479.4,241.2 480.2,241.1 480.9,241.1 481.7,241.0 482.4,240.9 483.2,240.8 483.9,240.7 484.7,240.5 485.4,240.3 486.2,240.1 486.9,239.9 487.7,239.7 488.4,239.4 489.2,239.0 489.9,238.6 490.7,238.2 491.4,237.7 492.2,237.2 492.9,236.6 493.7,235.9 494.4,235.2 495.2,234.4 495.9,233.5 496.7,232.5 497.4,231.4 498.2,230.2 498.9,229.0 499.7,227.6 500.4,226.1 501.2,224.5 501.9,222.8 502.7,221.0 503.4,219.1 504.2,219.0 504.9,221.1 505.7,223.2 506.4,225.1 507.2,226.9 507.9,228.5 508.7,230.0 509.4,231.4 510.2,232.7 510.9,233.8 511.7,234.8 512.5,235.8 513.2,236.6 514.0,237.3 514.7,237.9 515.5,238.5 516.2,238.9 517.0,239.3 517.7,239.7 518.5,240.0 519.2,240.3 520.0,240.5 520.7,240.7 521.5,240.8 522.2,240.9 523.0,241.1 523.7,241.1 524.5,241.2 525.2,241.3 526.0,241.3 526.0,241.5" fill="#f0634f"/>
<polygon points="532.0,241.5 532.0,241.3 532.7,241.3 533.5,241.2 534.2,241.1 535.0,241.0 535.7,240.8 536.5,240.6 537.2,240.4 538.0,240.1 538.7,239.7 539.5,239.2 540.2,238.7 541.0,238.0 541.7,237.2 542.5,236.3 543.2,235.2 544.0,234.0 544.7,232.5 545.5,230.9 546.2,229.1 547.0,227.0 547.7,224.8 548.5,222.3 549.2,219.7 550.0,221.6 550.7,223.4 551.5,225.1 552.2,226.6 553.0,228.1 553.7,229.4 554.5,230.6 555.2,231.8 556.0,232.8 556.7,233.8 557.5,234.7 558.2,235.5 559.0,236.2 559.7,236.8 560.5,237.4 561.2,237.9 562.0,238.4 562.7,238.8 563.5,239.1 564.2,239.5 565.0,239.7 565.7,240.0 566.5,240.2 567.2,240.4 568.0,240.6 568.7,240.7 569.5,240.8 570.2,240.9 571.0,241.0 571.7,241.1 572.5,241.2 573.2,241.2 574.0,241.3 574.7,241.3 575.5,241.3 575.5,241.5" fill="#e4505c"/>
<polygon points="546.2,241.5 546.2,241.3 547.0,241.3 547.7,241.3 548.5,241.2 549.2,241.1 550.0,241.0 550.7,240.9 551.5,240.8 552.2,240.6 553.0,240.4 553.7,240.1 554.5,239.8 555.2,239.5 556.0,239.1 556.7,238.7 557.5,238.1 558.2,237.5 559.0,236.8 559.7,236.0 560.5,235.1 561.2,234.1 562.0,233.0 562.7,231.8 563.5,230.4 564.2,228.9 565.0,227.3 565.7,225.6 566.5,223.7 567.2,221.7 568.0,219.6 568.7,217.4 569.5,215.1 570.2,212.8 571.0,210.3 571.7,207.9 572.5,207.5 573.2,210.8 574.0,213.9 574.7,217.0 575.5,219.8 576.2,222.5 577.0,224.9 577.7,227.2 578.5,229.2 579.2,231.0 580.0,232.6 580.7,234.1 581.5,235.3 582.2,236.4 583.0,237.3 583.7,238.1 584.5,238.7 585.2,239.3 586.0,239.7 586.7,240.1 587.5,240.4 588.2,240.6 589.0,240.8 589.7,241.0 590.5,241.1 591.2,241.2 592.0,241.3 592.7,241.3 592.7,241.5" fill="#cf5f97"/>
<polygon points="576.2,241.5 576.2,241.3 577.0,241.3 577.7,241.3 578.5,241.2 579.2,241.1 580.0,241.1 580.7,241.0 581.5,240.9 582.2,240.8 583.0,240.6 583.7,240.5 584.5,240.3 585.2,240.1 586.0,239.8 586.7,239.5 587.5,239.2 588.2,238.9 589.0,238.5 589.7,238.1 590.5,237.6 591.2,237.1 592.0,236.5 592.7,235.9 593.5,235.3 594.2,234.6 595.0,233.8 595.7,233.0 596.5,232.2 597.2,231.3 598.0,230.5 598.7,229.5 599.5,228.6 600.2,227.7 601.0,228.4 601.7,229.9 602.5,231.3 603.2,232.6 604.0,233.8 604.7,234.8 605.5,235.7 606.2,236.6 607.0,237.3 607.7,237.9 608.5,238.5 609.2,239.0 610.0,239.4 610.7,239.7 611.5,240.0 612.2,240.3 613.0,240.5 613.7,240.7 614.5,240.9 615.2,241.0 616.0,241.1 616.7,241.2 617.5,241.2 618.2,241.3 619.0,241.3 619.0,241.5" fill="#979a6d"/>
<polygon points="605.5,241.5 605.5,241.3 606.2,241.3 607.0,241.3 607.7,241.2 608.5,241.2 609.2,241.1 610.0,241.1 610.7,241.0 611.5,240.9 612.2,240.8 613.0,240.7 613.7,240.5 614.5,240.4 615.2,240.2 616.0,240.1 616.7,239.8 617.5,239.6 618.2,239.4 619.0,239.1 619.7,238.8 620.5,238.5 621.2,238.1 622.0,237.7 622.7,237.3 623.5,236.9 624.2,236.4 625.0,235.9 625.7,235.4 626.5,234.8 627.2,234.3 628.0,233.7 628.7,234.3 629.5,235.0 630.2,235.7 631.0,236.3 631.7,236.9 632.5,237.4 633.2,237.9 634.0,238.3 634.7,238.7 635.5,239.1 636.2,239.4 637.0,239.7 637.7,240.0 638.5,240.2 639.2,240.4 640.0,240.6 640.7,240.7 641.5,240.8 642.2,240.9 643.0,241.0 643.7,241.1 644.5,241.2 645.2,241.2 646.0,241.3 646.7,241.3 646.7,241.5" fill="#b4cc4c"/>
<polyline points="408.9,241.4 409.7,241.4 410.4,241.4 411.2,241.3 411.9,241.3 412.7,241.2 413.4,241.1 414.2,241.0 414.9,240.8 415.7,240.6 416.4,240.3 417.2,240.0 417.9,239.5 418.7,239.0 419.4,238.4 420.2,237.6 420.9,236.6 421.7,235.4 422.4,234.1 423.2,232.4 423.9,230.5 424.7,228.3 425.4,225.7 426.2,222.8 426.9,219.4 427.7,215.6 428.4,211.4 429.2,206.7 429.9,201.5 430.7,195.9 431.4,189.8 432.2,183.3 432.9,176.4 433.7,169.2 434.4,161.7 435.2,154.0 435.9,146.2 436.7,138.4 437.4,130.7 438.2,123.2 438.9,116.1 439.7,109.4 440.4,103.2 441.2,97.7 441.9,93.1 442.7,89.2 443.4,86.3 444.2,84.4 444.9,83.6 445.7,83.7 446.4,85.0 447.2,87.2 447.9,90.4 448.7,94.5 449.4,99.5 450.2,105.2 450.9,111.5 451.7,118.4 452.4,125.7 453.2,133.2 453.9,141.0 454.7,148.8 455.4,156.6 456.2,164.2 456.9,171.6 457.7,178.7 458.4,185.5 459.2,191.9 459.9,197.8 460.7,203.3 461.4,208.3 462.2,212.8 462.9,216.9 463.7,220.6 464.4,223.8 465.2,226.6 465.9,229.1 466.7,231.2 467.4,233.0 468.2,234.6 468.9,235.9 469.7,236.9 470.4,237.8 471.2,238.6 471.9,239.2 472.7,239.7 473.4,240.1 474.2,240.4 474.9,240.7 475.7,240.9 476.4,241.0 477.2,241.1 477.9,241.2 478.7,241.3 479.4,241.3 480.2,241.4 480.9,241.4 481.7,241.4" fill="none" stroke="#000" stroke-width="1.1"/>
<polyline points="415.7,241.4 416.4,241.4 417.2,241.4 417.9,241.4 418.7,241.4 419.4,241.3 420.2,241.3 420.9,241.2 421.7,241.2 422.4,241.1 423.2,241.0 423.9,240.9 424.7,240.8 425.4,240.6 426.2,240.4 426.9,240.2 427.7,239.9 428.4,239.6 429.2,239.3 429.9,238.8 430.7,238.4 431.4,237.8 432.2,237.1 432.9,236.4 433.7,235.5 434.4,234.6 435.2,233.5 435.9,232.2 436.7,230.8 437.4,229.3 438.2,227.6 438.9,225.7 439.7,223.6 440.4,221.2 441.2,218.7 441.9,216.0 442.7,213.0 443.4,209.8 444.2,206.4 444.9,202.8 445.7,198.9 446.4,194.8 447.2,190.5 447.9,186.1 448.7,181.5 449.4,176.7 450.2,171.8 450.9,166.8 451.7,161.8 452.4,156.7 453.2,151.7 453.9,146.7 454.7,141.8 455.4,137.0 456.2,132.4 456.9,128.0 457.7,123.9 458.4,120.1 459.2,116.6 459.9,113.6 460.7,110.9 461.4,108.6 462.2,106.9 462.9,105.6 463.7,104.8 464.4,104.5 465.2,104.7 465.9,105.4 466.7,106.7 467.4,108.4 468.2,110.6 468.9,113.2 469.7,116.2 470.4,119.6 471.2,123.4 471.9,127.5 472.7,131.8 473.4,136.4 474.2,141.1 474.9,146.0 475.7,151.0 476.4,156.0 477.2,161.1 477.9,166.2 478.7,171.1 479.4,176.0 480.2,180.8 480.9,185.5 481.7,190.0 482.4,194.3 483.2,198.4 483.9,202.3 484.7,205.9 485.4,209.4 486.2,212.6 486.9,215.6 487.7,218.4 488.4,220.9 489.2,223.3 489.9,225.4 490.7,227.3 491.4,229.1 492.2,230.7 492.9,232.1 493.7,233.3 494.4,234.4 495.2,235.4 495.9,236.3 496.7,237.0 497.4,237.7 498.2,238.3 498.9,238.8 499.7,239.2 500.4,239.6 501.2,239.9 501.9,240.2 502.7,240.4 503.4,240.6 504.2,240.8 504.9,240.9 505.7,241.0 506.4,241.1 507.2,241.2 507.9,241.2 508.7,241.3 509.4,241.3 510.2,241.4 510.9,241.4 511.7,241.4 512.5,241.4 513.2,241.4" fill="none" stroke="#000" stroke-width="1.1"/>
<polyline points="447.2,241.4 447.9,241.4 448.7,241.4 449.4,241.4 450.2,241.3 450.9,241.3 451.7,241.2 452.4,241.2 453.2,241.1 453.9,241.0 454.7,240.9 455.4,240.8 456.2,240.6 456.9,240.4 457.7,240.2 458.4,239.9 459.2,239.6 459.9,239.2 460.7,238.8 461.4,238.2 462.2,237.7 462.9,237.0 463.7,236.3 464.4,235.4 465.2,234.4 465.9,233.4 466.7,232.2 467.4,230.9 468.2,229.4 468.9,227.9 469.7,226.2 470.4,224.3 471.2,222.4 471.9,220.3 472.7,218.1 473.4,215.8 474.2,213.4 474.9,210.9 475.7,208.3 476.4,205.7 477.2,203.0 477.9,200.4 478.7,197.8 479.4,195.2 480.2,192.7 480.9,190.3 481.7,188.0 482.4,185.9 483.2,184.0 483.9,182.3 484.7,180.8 485.4,179.6 486.2,178.7 486.9,178.0 487.7,177.6 488.4,177.5 489.2,177.7 489.9,178.2 490.7,179.0 491.4,180.1 492.2,181.4 492.9,183.0 493.7,184.8 494.4,186.8 495.2,188.9 495.9,191.2 496.7,193.7 497.4,196.2 498.2,198.8 498.9,201.4 499.7,204.1 500.4,206.7 501.2,209.3 501.9,211.9 502.7,214.3 503.4,216.7 504.2,219.0 504.9,221.1 505.7,223.2 506.4,225.1 507.2,226.9 507.9,228.5 508.7,230.0 509.4,231.4 510.2,232.7 510.9,233.8 511.7,234.8 512.5,235.8 513.2,236.6 514.0,237.3 514.7,237.9 515.5,238.5 516.2,238.9 517.0,239.3 517.7,239.7 518.5,240.0 519.2,240.3 520.0,240.5 520.7,240.7 521.5,240.8 522.2,240.9 523.0,241.1 523.7,241.1 524.5,241.2 525.2,241.3 526.0,241.3 526.7,241.4 527.5,241.4 528.2,241.4 529.0,241.4 529.7,241.4" fill="none" stroke="#000" stroke-width="1.1"/>
<polyline points="472.7,241.4 473.4,241.4 474.2,241.4 474.9,241.4 475.7,241.4 476.4,241.4 477.2,241.3 477.9,241.3 478.7,241.3 479.4,241.2 480.2,241.1 480.9,241.1 481.7,241.0 482.4,240.9 483.2,240.8 483.9,240.7 484.7,240.5 485.4,240.3 486.2,240.1 486.9,239.9 487.7,239.7 488.4,239.4 489.2,239.0 489.9,238.6 490.7,238.2 491.4,237.7 492.2,237.2 492.9,236.6 493.7,235.9 494.4,235.2 495.2,234.4 495.9,233.5 496.7,232.5 497.4,231.4 498.2,230.2 498.9,229.0 499.7,227.6 500.4,226.1 501.2,224.5 501.9,222.8 502.7,221.0 503.4,219.1 504.2,217.0 504.9,214.9 505.7,212.6 506.4,210.3 507.2,207.9 507.9,205.3 508.7,202.7 509.4,200.1 510.2,197.4 510.9,194.6 511.7,191.8 512.5,189.0 513.2,186.2 514.0,183.4 514.7,180.7 515.5,178.0 516.2,175.4 517.0,172.9 517.7,170.5 518.5,168.2 519.2,166.1 520.0,164.1 520.7,162.3 521.5,160.8 522.2,159.4 523.0,158.2 523.7,157.3 524.5,156.6 525.2,156.1 526.0,155.9 526.7,156.0 527.5,156.2 528.2,156.8 529.0,157.6 529.7,158.6 530.5,159.8 531.2,161.3 532.0,162.9 532.7,164.8 533.5,166.8 534.2,169.0 535.0,171.3 535.7,173.7 536.5,176.3 537.2,178.9 538.0,181.6 538.7,184.4 539.5,187.2 540.2,190.0 541.0,192.8 541.7,195.5 542.5,198.3 543.2,201.0 544.0,203.6 544.7,206.2 545.5,208.7 546.2,211.1 547.0,213.4 547.7,215.6 548.5,217.7 549.2,219.7 550.0,221.6 550.7,223.4 551.5,225.1 552.2,226.6 553.0,228.1 553.7,229.4 554.5,230.6 555.2,231.8 556.0,232.8 556.7,233.8 557.5,234.7 558.2,235.5 559.0,236.2 559.7,236.8 560.5,237.4 561.2,237.9 562.0,238.4 562.7,238.8 563.5,239.1 564.2,239.5 565.0,239.7 565.7,240.0 566.5,240.2 567.2,240.4 568.0,240.6 568.7,240.7 569.5,240.8 570.2,240.9 571.0,241.0 571.7,241.1 572.5,241.2 573.2,241.2 574.0,241.3 574.7,241.3 575.5,241.3 576.2,241.4 577.0,241.4 577.7,241.4 578.5,241.4 579.2,241.4" fill="none" stroke="#000" stroke-width="1.1"/>
<polyline points="529.0,241.4 529.7,241.4 530.5,241.4 531.2,241.4 532.0,241.3 532.7,241.3 533.5,241.2 534.2,241.1 535.0,241.0 535.7,240.8 536.5,240.6 537.2,240.4 538.0,240.1 538.7,239.7 539.5,239.2 540.2,238.7 541.0,238.0 541.7,237.2 542.5,236.3 543.2,235.2 544.0,234.0 544.7,232.5 545.5,230.9 546.2,229.1 547.0,227.0 547.7,224.8 548.5,222.3 549.2,219.6 550.0,216.8 550.7,213.7 551.5,210.5 552.2,207.2 553.0,203.9 553.7,200.4 554.5,197.0 555.2,193.7 556.0,190.5 556.7,187.4 557.5,184.6 558.2,182.1 559.0,179.9 559.7,178.1 560.5,176.7 561.2,175.8 562.0,175.4 562.7,175.4 563.5,175.9 564.2,176.8 565.0,178.2 565.7,180.1 566.5,182.3 567.2,184.8 568.0,187.6 568.7,190.7 569.5,193.9 570.2,197.3 571.0,200.7 571.7,204.1 572.5,207.5 573.2,210.8 574.0,213.9 574.7,217.0 575.5,219.8 576.2,222.5 577.0,224.9 577.7,227.2 578.5,229.2 579.2,231.0 580.0,232.6 580.7,234.1 581.5,235.3 582.2,236.4 583.0,237.3 583.7,238.1 584.5,238.7 585.2,239.3 586.0,239.7 586.7,240.1 587.5,240.4 588.2,240.6 589.0,240.8 589.7,241.0 590.5,241.1 591.2,241.2 592.0,241.3 592.7,241.3 593.5,241.4 594.2,241.4 595.0,241.4" fill="none" stroke="#000" stroke-width="1.1"/>
<polyline points="543.2,241.4 544.0,241.4 544.7,241.4 545.5,241.4 546.2,241.3 547.0,241.3 547.7,241.3 548.5,241.2 549.2,241.1 550.0,241.0 550.7,240.9 551.5,240.8 552.2,240.6 553.0,240.4 553.7,240.1 554.5,239.8 555.2,239.5 556.0,239.1 556.7,238.7 557.5,238.1 558.2,237.5 559.0,236.8 559.7,236.0 560.5,235.1 561.2,234.1 562.0,233.0 562.7,231.8 563.5,230.4 564.2,228.9 565.0,227.3 565.7,225.6 566.5,223.7 567.2,221.7 568.0,219.6 568.7,217.4 569.5,215.1 570.2,212.8 571.0,210.3 571.7,207.9 572.5,205.4 573.2,203.0 574.0,200.5 574.7,198.2 575.5,195.9 576.2,193.8 577.0,191.8 577.7,190.0 578.5,188.3 579.2,187.0 580.0,185.8 580.7,184.9 581.5,184.3 582.2,184.0 583.0,183.9 583.7,184.2 584.5,184.7 585.2,185.5 586.0,186.5 586.7,187.9 587.5,189.4 588.2,191.2 589.0,193.1 589.7,195.2 590.5,197.4 591.2,199.7 592.0,202.1 592.7,204.6 593.5,207.1 594.2,209.5 595.0,212.0 595.7,214.3 596.5,216.7 597.2,218.9 598.0,221.0 598.7,223.1 599.5,225.0 600.2,226.8 601.0,228.4 601.7,229.9 602.5,231.3 603.2,232.6 604.0,233.8 604.7,234.8 605.5,235.7 606.2,236.6 607.0,237.3 607.7,237.9 608.5,238.5 609.2,239.0 610.0,239.4 610.7,239.7 611.5,240.0 612.2,240.3 613.0,240.5 613.7,240.7 614.5,240.9 615.2,241.0 616.0,241.1 616.7,241.2 617.5,241.2 618.2,241.3 619.0,241.3 619.7,241.4 620.5,241.4 621.2,241.4 622.0,241.4" fill="none" stroke="#000" stroke-width="1.1"/>
<polyline points="572.5,241.4 573.2,241.4 574.0,241.4 574.7,241.4 575.5,241.4 576.2,241.3 577.0,241.3 577.7,241.3 578.5,241.2 579.2,241.1 580.0,241.1 580.7,241.0 581.5,240.9 582.2,240.8 583.0,240.6 583.7,240.5 584.5,240.3 585.2,240.1 586.0,239.8 586.7,239.5 587.5,239.2 588.2,238.9 589.0,238.5 589.7,238.1 590.5,237.6 591.2,237.1 592.0,236.5 592.7,235.9 593.5,235.3 594.2,234.6 595.0,233.8 595.7,233.0 596.5,232.2 597.2,231.3 598.0,230.5 598.7,229.5 599.5,228.6 600.2,227.7 601.0,226.7 601.7,225.8 602.5,224.9 603.2,224.0 604.0,223.1 604.7,222.3 605.5,221.5 606.2,220.8 607.0,220.2 607.7,219.7 608.5,219.2 609.2,218.8 610.0,218.6 610.7,218.4 611.5,218.3 612.2,218.3 613.0,218.5 613.7,218.7 614.5,219.0 615.2,219.5 616.0,220.0 616.7,220.6 617.5,221.3 618.2,222.0 619.0,222.8 619.7,223.6 620.5,224.5 621.2,225.4 622.0,226.4 622.7,227.3 623.5,228.2 624.2,229.2 625.0,230.1 625.7,231.0 626.5,231.9 627.2,232.7 628.0,233.5 628.7,234.3 629.5,235.0 630.2,235.7 631.0,236.3 631.7,236.9 632.5,237.4 633.2,237.9 634.0,238.3 634.7,238.7 635.5,239.1 636.2,239.4 637.0,239.7 637.7,240.0 638.5,240.2 639.2,240.4 640.0,240.6 640.7,240.7 641.5,240.8 642.2,240.9 643.0,241.0 643.7,241.1 644.5,241.2 645.2,241.2 646.0,241.3 646.7,241.3 647.5,241.4 648.2,241.4 649.0,241.4 649.7,241.4 650.5,241.4" fill="none" stroke="#000" stroke-width="1.1"/>
<polyline points="601.7,241.4 602.5,241.4 603.2,241.4 604.0,241.4 604.7,241.4 605.5,241.3 606.2,241.3 607.0,241.3 607.7,241.2 608.5,241.2 609.2,241.1 610.0,241.1 610.7,241.0 611.5,240.9 612.2,240.8 613.0,240.7 613.7,240.5 614.5,240.4 615.2,240.2 616.0,240.1 616.7,239.8 617.5,239.6 618.2,239.4 619.0,239.1 619.7,238.8 620.5,238.5 621.2,238.1 622.0,237.7 622.7,237.3 623.5,236.9 624.2,236.4 625.0,235.9 625.7,235.4 626.5,234.8 627.2,234.3 628.0,233.7 628.7,233.0 629.5,232.4 630.2,231.8 631.0,231.1 631.7,230.5 632.5,229.8 633.2,229.2 634.0,228.5 634.7,227.9 635.5,227.3 636.2,226.7 637.0,226.1 637.7,225.6 638.5,225.2 639.2,224.7 640.0,224.4 640.7,224.0 641.5,223.8 642.2,223.6 643.0,223.4 643.7,223.3 644.5,223.3 645.2,223.3 646.0,223.5 646.7,223.6 647.5,223.9 648.2,224.2 649.0,224.5 649.7,224.9 650.5,225.3 651.2,225.8 652.0,226.4 652.7,226.9 653.5,227.5 654.2,228.1 655.0,228.8 655.7,229.4 656.5,230.1 657.2,230.7 658.0,231.4 658.7,232.0 659.5,232.7 660.2,233.3 661.0,233.9 661.7,234.5 662.5,235.1 663.2,235.6 664.0,236.1 664.7,236.6 665.5,237.1 666.2,237.5 667.0,237.9 667.7,238.3 668.5,238.6 669.2,238.9 670.0,239.2 670.7,239.5 671.5,239.7 672.2,239.9 673.0,240.1 673.7,240.3 674.5,240.5 675.2,240.6 676.0,240.7 676.7,240.8 677.5,240.9 678.2,241.0 679.0,241.1 679.7,241.1 680.5,241.2 681.2,241.3 682.0,241.3" fill="none" stroke="#000" stroke-width="1.1"/>
<polyline points="404.0,240.6 404.3,240.5 404.7,240.4 405.1,240.3 405.6,240.1 406.2,240.0 406.8,239.8 407.4,239.6 408.0,239.3 408.6,239.0 409.3,238.7 410.1,238.4 410.8,238.0 411.6,237.6 412.4,237.2 413.2,236.7 414.0,236.2 414.8,235.7 415.7,235.1 416.7,234.5 417.6,233.8 418.5,233.2 419.4,232.5 420.2,231.8 420.9,231.0 421.5,230.3 422.0,229.6 422.5,228.9 422.9,228.2 423.3,227.4 423.7,226.5 424.1,225.4 424.5,224.0 425.0,222.5 425.4,220.9 425.9,219.1 426.4,217.2 426.8,215.1 427.3,212.8 427.8,210.2 428.2,207.3 428.6,204.1 429.1,200.5 429.5,196.6 429.9,192.6 430.3,188.3 430.7,183.9 431.1,179.5 431.5,175.0 431.9,170.4 432.3,165.7 432.7,160.8 433.1,155.8 433.5,150.8 433.9,145.8 434.3,140.8 434.7,135.9 435.1,131.1 435.5,126.2 435.9,121.3 436.3,116.5 436.8,111.7 437.2,107.0 437.6,102.4 438.0,98.0 438.4,93.6 438.8,89.2 439.2,84.8 439.6,80.5 440.0,76.4 440.4,72.6 440.9,69.1 441.3,66.0 441.7,63.4 442.2,61.1 442.6,59.2 443.1,57.5 443.5,56.0 444.0,54.8 444.5,53.6 445.0,52.5 445.5,51.5 446.1,50.7 446.6,50.1 447.2,49.6 447.8,49.3 448.4,49.0 448.9,48.9 449.5,48.8 450.1,48.8 450.6,49.0 451.2,49.2 451.8,49.5 452.3,50.0 452.9,50.5 453.4,51.2 454.0,52.0 454.5,52.9 455.1,53.8 455.6,54.9 456.1,56.1 456.7,57.4 457.2,58.8 457.8,60.4 458.4,62.2 459.0,64.1 459.7,66.2 460.3,68.5 461.0,70.9 461.7,73.4 462.4,76.1 463.2,78.9 464.0,81.8 464.9,84.9 465.8,88.3 466.8,91.8 467.9,95.4 468.9,99.1 470.0,102.8 471.0,106.5 472.0,110.0 473.0,113.5 474.0,117.1 474.9,120.6 475.9,124.2 476.9,127.7 477.8,131.0 478.7,134.3 479.6,137.4 480.5,140.3 481.3,143.2 482.1,145.9 482.9,148.5 483.7,151.1 484.5,153.5 485.2,155.8 486.0,158.0 486.8,160.1 487.5,161.9 488.2,163.7 489.0,165.3 489.7,167.0 490.4,168.6 491.2,170.2 492.0,172.0 492.8,173.9 493.7,175.9 494.6,177.9 495.4,180.0 496.3,182.0 497.2,183.8 498.1,185.5 499.0,187.0 499.9,188.3 500.8,189.4 501.7,190.4 502.6,191.3 503.5,192.0 504.4,192.6 505.2,193.0 506.0,193.3 506.7,193.4 507.4,193.4 508.0,193.3 508.7,193.0 509.2,192.5 509.8,192.0 510.4,191.3 511.0,190.5 511.6,189.6 512.2,188.5 512.7,187.4 513.3,186.1 513.8,184.7 514.4,183.2 514.9,181.6 515.5,180.0 516.1,178.2 516.6,176.3 517.2,174.2 517.8,172.0 518.3,169.9 518.9,167.8 519.5,165.8 520.0,164.0 520.5,162.3 521.0,160.7 521.6,159.1 522.1,157.6 522.6,156.2 523.0,155.0 523.5,153.9 524.0,153.0 524.5,152.3 524.9,151.7 525.3,151.2 525.8,150.9 526.2,150.7 526.6,150.7 527.0,150.8 527.5,151.0 528.0,151.4 528.5,151.9 528.9,152.6 529.4,153.5 529.9,154.4 530.5,155.5 531.0,156.7 531.5,158.0 532.0,159.5 532.6,161.1 533.1,162.9 533.7,164.8 534.3,166.8 534.8,168.8 535.4,170.7 536.0,172.5 536.6,174.3 537.2,176.2 537.8,178.0 538.5,179.9 539.1,181.6 539.7,183.3 540.4,184.7 541.0,186.0 541.6,187.1 542.2,188.0 542.9,188.8 543.5,189.4 544.1,189.9 544.8,190.3 545.4,190.5 546.0,190.6 546.6,190.5 547.3,190.2 547.9,189.7 548.5,189.2 549.2,188.5 549.8,187.7 550.4,186.9 551.0,186.0 551.6,185.1 552.2,184.0 552.7,182.9 553.3,181.7 553.8,180.4 554.4,179.2 554.9,178.0 555.4,176.9 555.9,175.8 556.3,174.7 556.8,173.7 557.2,172.6 557.7,171.6 558.1,170.7 558.5,169.8 559.0,169.0 559.5,168.3 559.9,167.6 560.4,167.0 560.9,166.4 561.4,166.0 561.9,165.6 562.4,165.2 563.0,165.0 563.6,164.9 564.2,164.8 564.8,164.9 565.4,165.0 566.1,165.1 566.7,165.4 567.4,165.7 568.0,166.0 568.6,166.4 569.2,166.9 569.9,167.4 570.5,168.0 571.1,168.7 571.8,169.3 572.4,169.9 573.0,170.5 573.6,171.0 574.2,171.6 574.8,172.1 575.4,172.6 576.0,173.1 576.6,173.7 577.3,174.3 578.0,175.0 578.8,175.7 579.6,176.5 580.5,177.4 581.4,178.2 582.3,179.1 583.2,180.1 584.1,181.0 585.0,182.0 585.8,183.0 586.6,184.0 587.4,185.0 588.2,186.1 588.9,187.2 589.7,188.3 590.6,189.5 591.5,190.8 592.5,192.2 593.5,193.6 594.5,195.2 595.6,196.7 596.7,198.3 597.8,199.9 598.9,201.5 600.0,203.0 601.1,204.5 602.2,206.1 603.3,207.7 604.4,209.2 605.5,210.8 606.6,212.2 607.6,213.5 608.5,214.6 609.3,215.6 610.1,216.4 610.8,217.1 611.5,217.7 612.1,218.3 612.7,218.7 613.4,219.2 614.0,219.6 614.6,220.0 615.1,220.3 615.6,220.5 616.2,220.7 616.7,220.9 617.3,221.0 618.1,221.1 619.0,221.2 620.1,221.3 621.3,221.3 622.7,221.4 624.2,221.4 625.6,221.4 627.1,221.4 628.6,221.4 630.0,221.4 631.4,221.4 632.8,221.4 634.2,221.4 635.6,221.4 637.0,221.4 638.3,221.5 639.5,221.5 640.5,221.6 641.4,221.7 642.1,221.9 642.8,222.0 643.3,222.2 643.8,222.4 644.3,222.7 644.9,222.9 645.5,223.2 646.2,223.5 646.8,223.8 647.5,224.2 648.2,224.6 648.9,225.0 649.6,225.4 650.3,225.9 651.0,226.4 651.7,226.9 652.5,227.5 653.2,228.2 654.0,228.8 654.7,229.5 655.5,230.1 656.2,230.8 657.0,231.4 657.7,232.0 658.5,232.6 659.2,233.2 659.9,233.8 660.7,234.4 661.4,234.9 662.2,235.5 663.0,236.0 663.8,236.5 664.7,237.0 665.5,237.5 666.4,237.9 667.3,238.3 668.2,238.7 669.1,239.1 670.0,239.4 671.0,239.7 672.1,239.9 673.3,240.1 674.4,240.3 675.5,240.5 676.5,240.6 677.4,240.7 678.0,240.8" fill="none" stroke="#111" stroke-width="1.15" stroke-dasharray="5.2,3.4"/>
</g>
<rect x="400.7" y="18.6" width="281.9" height="222.9" fill="none" stroke="#111" stroke-width="1.2"/>
<path d="M419.9,241.5v-2.6M419.9,18.6v2.6M458.8,241.5v-2.6M458.8,18.6v2.6M497.7,241.5v-2.6M497.7,18.6v2.6M536.6,241.5v-2.6M536.6,18.6v2.6M575.5,241.5v-2.6M575.5,18.6v2.6M614.4,241.5v-2.6M614.4,18.6v2.6M653.3,241.5v-2.6M653.3,18.6v2.6" stroke="#111" stroke-width="1" fill="none"/>
<g font-family="'Liberation Sans',sans-serif" font-weight="bold" font-size="10.2" fill="#262626" text-anchor="middle">
<text x="419.9" y="256.2">454</text>
<text x="458.8" y="256.2">456</text>
<text x="497.7" y="256.2">458</text>
<text x="536.6" y="256.2">460</text>
<text x="575.5" y="256.2">462</text>
<text x="614.4" y="256.2">464</text>
<text x="653.3" y="256.2">466</text>
<text x="541.6" y="268.3" font-size="10.4" textLength="94.4" lengthAdjust="spacingAndGlyphs">Binding energy, eV</text>
<text transform="translate(394.3,130.2) rotate(-90)" font-size="10.4">Intensity (a.u.)</text>
</g>
<g font-family="'Liberation Sans',sans-serif" font-weight="bold" font-size="10" fill="#111" text-anchor="middle">
<rect x="410.1" y="79.0" width="20.0" height="13.5" fill="#a9dff6"/>
<text x="420.1" y="89.2">Ti-C</text>
<rect x="477.9" y="92.7" width="23.4" height="13.2" fill="#6fa8dc"/>
<text x="489.6" y="102.8">Ti (II)</text>
<rect x="491.7" y="152.6" width="26.4" height="12.8" fill="#f4b08d"/>
<text x="504.9" y="162.5">Ti (III)</text>
<rect x="521.5" y="136.9" width="49.5" height="12.9" fill="#d98ba0"/>
<rect x="556.0" y="161.5" width="41.2" height="12.9" fill="#f0a58c"/>
<rect x="640.8" y="208.2" width="29.2" height="12.5" fill="#ffd88a"/>
<text x="655.4" y="217.9">C-Ti-F</text>
<text x="546.2" y="146.9">Ti (IV)-TiO<tspan font-size="7">2</tspan></text>
<text x="576.6" y="171.5">TiO<tspan font-size="7">2-x</tspan>F<tspan font-size="7">2x</tspan></text>
</g>
<text x="386" y="14.9" font-family="'Liberation Sans',sans-serif" font-weight="bold" font-size="13.4" fill="#000" textLength="14" lengthAdjust="spacingAndGlyphs">(f)</text>
<clipPath id="cg"><rect x="400.7" y="311.6" width="281.9" height="222.1"/></clipPath>
<g clip-path="url(#cg)">
<polygon points="431.3,533.7 431.3,533.4 431.9,533.4 432.5,533.2 433.1,533.1 433.7,532.9 434.3,532.7 434.9,532.4 435.5,532.1 436.1,531.7 436.7,531.3 437.3,530.8 437.9,530.3 438.5,529.7 439.1,529.0 439.7,528.3 440.3,527.5 440.9,526.7 441.5,525.8 442.1,524.9 442.7,523.9 443.3,522.9 443.9,521.9 444.5,520.7 445.1,519.6 445.7,518.4 446.3,517.2 446.9,515.9 447.5,514.7 448.1,513.3 448.7,512.0 449.3,510.5 449.9,509.1 450.5,507.6 451.1,506.1 451.7,504.5 452.3,502.8 452.9,501.1 453.5,499.3 454.1,497.4 454.7,495.5 455.3,493.4 455.9,491.3 456.5,489.0 457.1,486.7 457.7,484.2 458.3,481.5 458.9,478.7 459.5,475.7 460.1,472.6 460.7,469.2 461.3,465.7 461.9,461.9 462.5,457.9 463.1,453.6 463.7,449.0 464.3,444.2 464.9,439.0 465.5,433.6 466.1,427.9 466.7,421.8 467.3,415.5 467.9,408.9 468.5,402.1 469.1,395.1 469.7,388.0 470.3,380.8 470.9,373.7 471.5,366.8 472.1,360.2 472.7,354.1 473.3,348.5 473.9,343.8 474.5,340.0 475.1,337.2 475.7,336.1 476.3,336.1 476.9,336.3 477.5,338.9 478.1,343.0 478.7,348.3 479.3,354.7 479.9,361.8 480.5,369.6 481.1,377.6 481.7,385.8 482.3,394.0 482.9,402.1 483.5,409.9 484.1,417.4 484.7,424.5 485.3,431.3 485.9,437.6 486.5,443.6 487.1,449.2 487.7,454.4 488.3,459.2 488.9,463.7 489.5,467.9 490.1,471.8 490.7,475.5 491.3,478.9 491.9,482.0 492.5,485.0 493.1,487.8 493.7,490.4 494.3,492.9 494.9,495.2 495.5,497.4 496.1,499.5 496.7,501.5 497.3,503.4 497.9,505.2 498.5,507.0 499.1,508.7 499.7,510.3 500.3,511.9 500.9,513.4 501.5,514.8 502.1,516.3 502.7,517.6 503.3,519.0 503.9,520.2 504.5,521.5 505.1,522.7 505.7,523.8 506.3,524.9 506.9,525.9 507.5,526.9 508.1,527.8 508.7,528.6 509.3,529.3 509.9,530.0 510.5,530.7 511.1,531.2 511.7,531.7 512.3,532.1 512.9,532.4 513.5,532.7 514.1,533.0 514.7,533.2 515.3,533.3 515.9,533.4 515.9,533.7" fill="#efa3ff"/>
<polygon points="523.7,533.7 523.7,533.4 524.3,533.4 524.9,533.4 525.5,533.4 526.1,533.3 526.7,533.3 527.3,533.3 527.9,533.3 528.5,533.2 529.1,533.2 529.7,533.2 530.3,533.2 530.9,533.1 531.5,533.1 532.1,533.1 532.7,533.0 533.3,533.0 533.9,532.9 534.5,532.9 535.1,532.9 535.7,532.8 536.3,532.8 536.9,532.8 537.5,532.7 538.1,532.7 538.7,532.6 539.3,532.6 539.9,532.5 540.5,532.5 541.1,532.4 541.7,532.4 542.3,532.3 542.9,532.3 543.5,532.2 544.1,532.2 544.7,532.1 545.3,532.0 545.9,532.0 546.5,531.9 547.1,531.8 547.7,531.8 548.3,531.7 548.9,531.6 549.5,531.5 550.1,531.5 550.7,531.4 551.3,531.3 551.9,531.2 552.5,531.1 553.1,531.0 553.7,530.9 554.3,530.7 554.9,530.6 555.5,530.5 556.1,530.4 556.7,530.2 557.3,530.1 557.9,529.9 558.5,529.7 559.1,529.6 559.7,529.4 560.3,529.2 560.9,529.0 561.5,528.7 562.1,528.5 562.7,528.3 563.3,528.0 563.9,527.7 564.5,527.5 565.1,527.2 565.7,526.8 566.3,526.5 566.9,526.2 567.5,525.8 568.1,525.4 568.7,525.0 569.3,524.6 569.9,524.2 570.5,523.7 571.1,523.2 571.7,522.7 572.3,522.2 572.9,521.7 573.5,521.1 574.1,520.5 574.7,520.0 575.3,519.3 575.9,518.7 576.5,518.0 577.1,517.3 577.7,516.6 578.3,515.9 578.9,515.2 579.5,514.4 580.1,513.6 580.7,512.8 581.3,512.0 581.9,511.1 582.5,510.3 583.1,509.4 583.7,508.5 584.3,507.6 584.9,506.7 585.5,505.8 586.1,504.8 586.7,503.9 587.3,502.9 587.9,502.0 588.5,501.0 589.1,500.1 589.7,499.1 590.3,498.2 590.9,497.2 591.5,496.3 592.1,495.4 592.7,494.4 593.3,493.6 593.9,492.7 594.5,491.8 595.1,491.0 595.7,490.2 596.3,489.5 596.9,488.7 597.5,488.0 598.1,487.4 598.7,486.8 599.3,486.3 599.9,485.8 600.5,485.3 601.1,484.9 601.7,484.6 602.3,484.3 602.9,484.1 603.5,484.0 604.1,483.9 604.7,483.9 605.3,484.0 605.9,484.1 606.5,484.3 607.1,484.5 607.7,484.8 608.3,485.2 608.9,485.6 609.5,486.1 610.1,486.6 610.7,487.2 611.3,487.8 611.9,488.5 612.5,489.2 613.1,490.0 613.7,490.7 614.3,491.6 614.9,492.4 615.5,493.3 616.1,494.1 616.7,495.1 617.3,496.0 617.9,496.9 618.5,497.8 619.1,498.8 619.7,499.8 620.3,500.7 620.9,501.7 621.5,502.6 622.1,503.6 622.7,504.5 623.3,505.5 623.9,506.4 624.5,507.3 625.1,508.2 625.7,509.1 626.3,510.0 626.9,510.9 627.5,511.7 628.1,512.5 628.7,513.3 629.3,514.1 629.9,514.9 630.5,515.7 631.1,516.4 631.7,517.1 632.3,517.8 632.9,518.5 633.5,519.1 634.1,519.7 634.7,520.4 635.3,520.9 635.9,521.5 636.5,522.0 637.1,522.6 637.7,523.1 638.3,523.6 638.9,524.0 639.5,524.5 640.1,524.9 640.7,525.3 641.3,525.7 641.9,526.0 642.5,526.4 643.1,526.7 643.7,527.0 644.3,527.4 644.9,527.6 645.5,527.9 646.1,528.2 646.7,528.4 647.3,528.7 647.9,528.9 648.5,529.1 649.1,529.3 649.7,529.5 650.3,529.7 650.9,529.8 651.5,530.0 652.1,530.2 652.7,530.3 653.3,530.4 653.9,530.6 654.5,530.7 655.1,530.8 655.7,530.9 656.3,531.0 656.9,531.1 657.5,531.2 658.1,531.3 658.7,531.4 659.3,531.5 659.9,531.6 660.5,531.7 661.1,531.7 661.7,531.8 662.3,531.9 662.9,532.0 663.5,532.0 664.1,532.1 664.7,532.1 665.3,532.2 665.9,532.3 666.5,532.3 667.1,532.4 667.7,532.4 668.3,532.5 668.9,532.5 669.5,532.6 670.1,532.6 670.7,532.6 671.3,532.7 671.9,532.7 672.5,532.8 673.1,532.8 673.7,532.9 674.3,532.9 674.9,532.9 675.5,533.0 676.1,533.0 676.7,533.0 677.3,533.1 677.9,533.1 678.5,533.1 679.1,533.2 679.7,533.2 680.3,533.2 680.9,533.3 681.5,533.3 682.1,533.3 682.1,533.7" fill="#ff8585"/>
<polyline points="400.7,533.7 401.3,533.7 401.9,533.7 402.5,533.7 403.1,533.7 403.7,533.7 404.3,533.7 404.9,533.7 405.5,533.7 406.1,533.7 406.7,533.7 407.3,533.7 407.9,533.7 408.5,533.7 409.1,533.7 409.7,533.7 410.3,533.7 410.9,533.7 411.5,533.7 412.1,533.7 412.7,533.7 413.3,533.7 413.9,533.7 414.5,533.7 415.1,533.7 415.7,533.7 416.3,533.7 416.9,533.7 417.5,533.7 418.1,533.7 418.7,533.7 419.3,533.7 419.9,533.7 420.5,533.7 421.1,533.7 421.7,533.7 422.3,533.7 422.9,533.7 423.5,533.7 424.1,533.7 424.7,533.7 425.3,533.7 425.9,533.7 426.5,533.7 427.1,533.7 427.7,533.7 428.3,533.7 428.9,533.6 429.5,533.6 430.1,533.6 430.7,533.5 431.3,533.4 431.9,533.4 432.5,533.2 433.1,533.1 433.7,532.9 434.3,532.7 434.9,532.4 435.5,532.1 436.1,531.7 436.7,531.3 437.3,530.8 437.9,530.3 438.5,529.7 439.1,529.0 439.7,528.3 440.3,527.5 440.9,526.7 441.5,525.8 442.1,524.9 442.7,523.9 443.3,522.9 443.9,521.9 444.5,520.7 445.1,519.6 445.7,518.4 446.3,517.2 446.9,515.9 447.5,514.7 448.1,513.3 448.7,512.0 449.3,510.5 449.9,509.1 450.5,507.6 451.1,506.1 451.7,504.5 452.3,502.8 452.9,501.1 453.5,499.3 454.1,497.4 454.7,495.5 455.3,493.4 455.9,491.3 456.5,489.0 457.1,486.7 457.7,484.2 458.3,481.5 458.9,478.7 459.5,475.7 460.1,472.6 460.7,469.2 461.3,465.7 461.9,461.9 462.5,457.9 463.1,453.6 463.7,449.0 464.3,444.2 464.9,439.0 465.5,433.6 466.1,427.9 466.7,421.8 467.3,415.5 467.9,408.9 468.5,402.1 469.1,395.1 469.7,388.0 470.3,380.8 470.9,373.7 471.5,366.8 472.1,360.2 472.7,354.1 473.3,348.5 473.9,343.8 474.5,340.0 475.1,337.2 475.7,336.1 476.3,336.1 476.9,336.3 477.5,338.9 478.1,343.0 478.7,348.3 479.3,354.7 479.9,361.8 480.5,369.6 481.1,377.6 481.7,385.8 482.3,394.0 482.9,402.1 483.5,409.9 484.1,417.4 484.7,424.5 485.3,431.3 485.9,437.6 486.5,443.6 487.1,449.2 487.7,454.4 488.3,459.2 488.9,463.7 489.5,467.9 490.1,471.8 490.7,475.5 491.3,478.9 491.9,482.0 492.5,485.0 493.1,487.8 493.7,490.4 494.3,492.9 494.9,495.2 495.5,497.4 496.1,499.5 496.7,501.5 497.3,503.4 497.9,505.2 498.5,507.0 499.1,508.7 499.7,510.3 500.3,511.9 500.9,513.4 501.5,514.8 502.1,516.3 502.7,517.6 503.3,519.0 503.9,520.2 504.5,521.5 505.1,522.7 505.7,523.8 506.3,524.9 506.9,525.9 507.5,526.9 508.1,527.8 508.7,528.6 509.3,529.3 509.9,530.0 510.5,530.7 511.1,531.2 511.7,531.7 512.3,532.1 512.9,532.4 513.5,532.7 514.1,533.0 514.7,533.2 515.3,533.3 515.9,533.4 516.5,533.5 517.1,533.6 517.7,533.6 518.3,533.6 518.9,533.7 519.5,533.7 520.1,533.7 520.7,533.7 521.3,533.7 521.9,533.7 522.5,533.7 523.1,533.7 523.7,533.7 524.3,533.7 524.9,533.7 525.5,533.7 526.1,533.7 526.7,533.7 527.3,533.7 527.9,533.7 528.5,533.7 529.1,533.7 529.7,533.7 530.3,533.7 530.9,533.7 531.5,533.7 532.1,533.7 532.7,533.7 533.3,533.7 533.9,533.7 534.5,533.7 535.1,533.7 535.7,533.7 536.3,533.7 536.9,533.7 537.5,533.7 538.1,533.7 538.7,533.7 539.3,533.7 539.9,533.7 540.5,533.7 541.1,533.7 541.7,533.7 542.3,533.7 542.9,533.7 543.5,533.7 544.1,533.7 544.7,533.7 545.3,533.7 545.9,533.7 546.5,533.7 547.1,533.7 547.7,533.7 548.3,533.7 548.9,533.7 549.5,533.7 550.1,533.7 550.7,533.7 551.3,533.7 551.9,533.7 552.5,533.7 553.1,533.7 553.7,533.7 554.3,533.7 554.9,533.7 555.5,533.7 556.1,533.7 556.7,533.7 557.3,533.7 557.9,533.7 558.5,533.7 559.1,533.7 559.7,533.7 560.3,533.7 560.9,533.7 561.5,533.7 562.1,533.7 562.7,533.7 563.3,533.7 563.9,533.7 564.5,533.7 565.1,533.7 565.7,533.7 566.3,533.7 566.9,533.7 567.5,533.7 568.1,533.7 568.7,533.7 569.3,533.7 569.9,533.7 570.5,533.7 571.1,533.7 571.7,533.7 572.3,533.7 572.9,533.7 573.5,533.7 574.1,533.7 574.7,533.7 575.3,533.7 575.9,533.7 576.5,533.7 577.1,533.7 577.7,533.7 578.3,533.7 578.9,533.7 579.5,533.7 580.1,533.7 580.7,533.7 581.3,533.7 581.9,533.7 582.5,533.7 583.1,533.7 583.7,533.7 584.3,533.7 584.9,533.7 585.5,533.7 586.1,533.7 586.7,533.7 587.3,533.7 587.9,533.7 588.5,533.7 589.1,533.7 589.7,533.7 590.3,533.7 590.9,533.7 591.5,533.7 592.1,533.7 592.7,533.7 593.3,533.7 593.9,533.7 594.5,533.7 595.1,533.7 595.7,533.7 596.3,533.7 596.9,533.7 597.5,533.7 598.1,533.7 598.7,533.7 599.3,533.7 599.9,533.7 600.5,533.7 601.1,533.7 601.7,533.7 602.3,533.7 602.9,533.7 603.5,533.7 604.1,533.7 604.7,533.7 605.3,533.7 605.9,533.7 606.5,533.7 607.1,533.7 607.7,533.7 608.3,533.7 608.9,533.7 609.5,533.7 610.1,533.7 610.7,533.7 611.3,533.7 611.9,533.7 612.5,533.7 613.1,533.7 613.7,533.7 614.3,533.7 614.9,533.7 615.5,533.7 616.1,533.7 616.7,533.7 617.3,533.7 617.9,533.7 618.5,533.7 619.1,533.7 619.7,533.7 620.3,533.7 620.9,533.7 621.5,533.7 622.1,533.7 622.7,533.7 623.3,533.7 623.9,533.7 624.5,533.7 625.1,533.7 625.7,533.7 626.3,533.7 626.9,533.7 627.5,533.7 628.1,533.7 628.7,533.7 629.3,533.7 629.9,533.7 630.5,533.7 631.1,533.7 631.7,533.7 632.3,533.7 632.9,533.7 633.5,533.7 634.1,533.7 634.7,533.7 635.3,533.7 635.9,533.7 636.5,533.7 637.1,533.7 637.7,533.7 638.3,533.7 638.9,533.7 639.5,533.7 640.1,533.7 640.7,533.7 641.3,533.7 641.9,533.7 642.5,533.7 643.1,533.7 643.7,533.7 644.3,533.7 644.9,533.7 645.5,533.7 646.1,533.7 646.7,533.7 647.3,533.7 647.9,533.7 648.5,533.7 649.1,533.7 649.7,533.7 650.3,533.7 650.9,533.7 651.5,533.7 652.1,533.7 652.7,533.7 653.3,533.7 653.9,533.7 654.5,533.7 655.1,533.7 655.7,533.7 656.3,533.7 656.9,533.7 657.5,533.7 658.1,533.7 658.7,533.7 659.3,533.7 659.9,533.7 660.5,533.7 661.1,533.7 661.7,533.7 662.3,533.7 662.9,533.7 663.5,533.7 664.1,533.7 664.7,533.7 665.3,533.7 665.9,533.7 666.5,533.7 667.1,533.7 667.7,533.7 668.3,533.7 668.9,533.7 669.5,533.7 670.1,533.7 670.7,533.7 671.3,533.7 671.9,533.7 672.5,533.7 673.1,533.7 673.7,533.7 674.3,533.7 674.9,533.7 675.5,533.7 676.1,533.7 676.7,533.7 677.3,533.7 677.9,533.7 678.5,533.7 679.1,533.7 679.7,533.7 680.3,533.7 680.9,533.7 681.5,533.7 682.1,533.7" fill="none" stroke="#000" stroke-width="1.2"/>
<polyline points="400.7,533.7 401.3,533.7 401.9,533.7 402.5,533.7 403.1,533.7 403.7,533.7 404.3,533.7 404.9,533.7 405.5,533.7 406.1,533.7 406.7,533.7 407.3,533.7 407.9,533.7 408.5,533.7 409.1,533.7 409.7,533.7 410.3,533.7 410.9,533.7 411.5,533.7 412.1,533.7 412.7,533.7 413.3,533.7 413.9,533.7 414.5,533.7 415.1,533.7 415.7,533.7 416.3,533.7 416.9,533.7 417.5,533.7 418.1,533.7 418.7,533.7 419.3,533.7 419.9,533.7 420.5,533.7 421.1,533.7 421.7,533.7 422.3,533.7 422.9,533.7 423.5,533.7 424.1,533.7 424.7,533.7 425.3,533.7 425.9,533.7 426.5,533.7 427.1,533.7 427.7,533.7 428.3,533.7 428.9,533.7 429.5,533.7 430.1,533.7 430.7,533.7 431.3,533.7 431.9,533.7 432.5,533.7 433.1,533.7 433.7,533.7 434.3,533.7 434.9,533.7 435.5,533.7 436.1,533.7 436.7,533.7 437.3,533.7 437.9,533.7 438.5,533.7 439.1,533.7 439.7,533.7 440.3,533.7 440.9,533.7 441.5,533.7 442.1,533.7 442.7,533.7 443.3,533.7 443.9,533.7 444.5,533.7 445.1,533.7 445.7,533.7 446.3,533.7 446.9,533.7 447.5,533.7 448.1,533.7 448.7,533.7 449.3,533.7 449.9,533.7 450.5,533.7 451.1,533.7 451.7,533.7 452.3,533.7 452.9,533.7 453.5,533.7 454.1,533.7 454.7,533.7 455.3,533.7 455.9,533.7 456.5,533.7 457.1,533.7 457.7,533.7 458.3,533.7 458.9,533.7 459.5,533.7 460.1,533.7 460.7,533.7 461.3,533.7 461.9,533.7 462.5,533.7 463.1,533.7 463.7,533.7 464.3,533.7 464.9,533.7 465.5,533.7 466.1,533.7 466.7,533.7 467.3,533.7 467.9,533.7 468.5,533.7 469.1,533.7 469.7,533.7 470.3,533.7 470.9,533.7 471.5,533.7 472.1,533.7 472.7,533.7 473.3,533.7 473.9,533.7 474.5,533.7 475.1,533.7 475.7,533.7 476.3,533.7 476.9,533.7 477.5,533.7 478.1,533.7 478.7,533.7 479.3,533.7 479.9,533.7 480.5,533.7 481.1,533.7 481.7,533.7 482.3,533.7 482.9,533.7 483.5,533.7 484.1,533.7 484.7,533.7 485.3,533.7 485.9,533.7 486.5,533.7 487.1,533.7 487.7,533.7 488.3,533.7 488.9,533.7 489.5,533.7 490.1,533.7 490.7,533.7 491.3,533.7 491.9,533.7 492.5,533.7 493.1,533.7 493.7,533.7 494.3,533.7 494.9,533.7 495.5,533.7 496.1,533.7 496.7,533.7 497.3,533.7 497.9,533.7 498.5,533.7 499.1,533.7 499.7,533.7 500.3,533.7 500.9,533.7 501.5,533.7 502.1,533.7 502.7,533.7 503.3,533.7 503.9,533.7 504.5,533.7 505.1,533.7 505.7,533.7 506.3,533.7 506.9,533.7 507.5,533.7 508.1,533.7 508.7,533.7 509.3,533.7 509.9,533.7 510.5,533.7 511.1,533.7 511.7,533.7 512.3,533.7 512.9,533.7 513.5,533.7 514.1,533.6 514.7,533.6 515.3,533.6 515.9,533.6 516.5,533.6 517.1,533.6 517.7,533.6 518.3,533.6 518.9,533.6 519.5,533.6 520.1,533.5 520.7,533.5 521.3,533.5 521.9,533.5 522.5,533.5 523.1,533.5 523.7,533.4 524.3,533.4 524.9,533.4 525.5,533.4 526.1,533.3 526.7,533.3 527.3,533.3 527.9,533.3 528.5,533.2 529.1,533.2 529.7,533.2 530.3,533.2 530.9,533.1 531.5,533.1 532.1,533.1 532.7,533.0 533.3,533.0 533.9,532.9 534.5,532.9 535.1,532.9 535.7,532.8 536.3,532.8 536.9,532.8 537.5,532.7 538.1,532.7 538.7,532.6 539.3,532.6 539.9,532.5 540.5,532.5 541.1,532.4 541.7,532.4 542.3,532.3 542.9,532.3 543.5,532.2 544.1,532.2 544.7,532.1 545.3,532.0 545.9,532.0 546.5,531.9 547.1,531.8 547.7,531.8 548.3,531.7 548.9,531.6 549.5,531.5 550.1,531.5 550.7,531.4 551.3,531.3 551.9,531.2 552.5,531.1 553.1,531.0 553.7,530.9 554.3,530.7 554.9,530.6 555.5,530.5 556.1,530.4 556.7,530.2 557.3,530.1 557.9,529.9 558.5,529.7 559.1,529.6 559.7,529.4 560.3,529.2 560.9,529.0 561.5,528.7 562.1,528.5 562.7,528.3 563.3,528.0 563.9,527.7 564.5,527.5 565.1,527.2 565.7,526.8 566.3,526.5 566.9,526.2 567.5,525.8 568.1,525.4 568.7,525.0 569.3,524.6 569.9,524.2 570.5,523.7 571.1,523.2 571.7,522.7 572.3,522.2 572.9,521.7 573.5,521.1 574.1,520.5 574.7,520.0 575.3,519.3 575.9,518.7 576.5,518.0 577.1,517.3 577.7,516.6 578.3,515.9 578.9,515.2 579.5,514.4 580.1,513.6 580.7,512.8 581.3,512.0 581.9,511.1 582.5,510.3 583.1,509.4 583.7,508.5 584.3,507.6 584.9,506.7 585.5,505.8 586.1,504.8 586.7,503.9 587.3,502.9 587.9,502.0 588.5,501.0 589.1,500.1 589.7,499.1 590.3,498.2 590.9,497.2 591.5,496.3 592.1,495.4 592.7,494.4 593.3,493.6 593.9,492.7 594.5,491.8 595.1,491.0 595.7,490.2 596.3,489.5 596.9,488.7 597.5,488.0 598.1,487.4 598.7,486.8 599.3,486.3 599.9,485.8 600.5,485.3 601.1,484.9 601.7,484.6 602.3,484.3 602.9,484.1 603.5,484.0 604.1,483.9 604.7,483.9 605.3,484.0 605.9,484.1 606.5,484.3 607.1,484.5 607.7,484.8 608.3,485.2 608.9,485.6 609.5,486.1 610.1,486.6 610.7,487.2 611.3,487.8 611.9,488.5 612.5,489.2 613.1,490.0 613.7,490.7 614.3,491.6 614.9,492.4 615.5,493.3 616.1,494.1 616.7,495.1 617.3,496.0 617.9,496.9 618.5,497.8 619.1,498.8 619.7,499.8 620.3,500.7 620.9,501.7 621.5,502.6 622.1,503.6 622.7,504.5 623.3,505.5 623.9,506.4 624.5,507.3 625.1,508.2 625.7,509.1 626.3,510.0 626.9,510.9 627.5,511.7 628.1,512.5 628.7,513.3 629.3,514.1 629.9,514.9 630.5,515.7 631.1,516.4 631.7,517.1 632.3,517.8 632.9,518.5 633.5,519.1 634.1,519.7 634.7,520.4 635.3,520.9 635.9,521.5 636.5,522.0 637.1,522.6 637.7,523.1 638.3,523.6 638.9,524.0 639.5,524.5 640.1,524.9 640.7,525.3 641.3,525.7 641.9,526.0 642.5,526.4 643.1,526.7 643.7,527.0 644.3,527.4 644.9,527.6 645.5,527.9 646.1,528.2 646.7,528.4 647.3,528.7 647.9,528.9 648.5,529.1 649.1,529.3 649.7,529.5 650.3,529.7 650.9,529.8 651.5,530.0 652.1,530.2 652.7,530.3 653.3,530.4 653.9,530.6 654.5,530.7 655.1,530.8 655.7,530.9 656.3,531.0 656.9,531.1 657.5,531.2 658.1,531.3 658.7,531.4 659.3,531.5 659.9,531.6 660.5,531.7 661.1,531.7 661.7,531.8 662.3,531.9 662.9,532.0 663.5,532.0 664.1,532.1 664.7,532.1 665.3,532.2 665.9,532.3 666.5,532.3 667.1,532.4 667.7,532.4 668.3,532.5 668.9,532.5 669.5,532.6 670.1,532.6 670.7,532.6 671.3,532.7 671.9,532.7 672.5,532.8 673.1,532.8 673.7,532.9 674.3,532.9 674.9,532.9 675.5,533.0 676.1,533.0 676.7,533.0 677.3,533.1 677.9,533.1 678.5,533.1 679.1,533.2 679.7,533.2 680.3,533.2 680.9,533.3 681.5,533.3 682.1,533.3" fill="none" stroke="#000" stroke-width="1.2"/>
<polyline points="400.7,533.3 401.3,533.3 401.9,533.3 402.5,533.3 403.1,533.3 403.7,533.3 404.3,533.3 404.9,533.3 405.5,533.3 406.1,533.3 406.7,533.3 407.3,533.3 407.9,533.3 408.5,533.3 409.1,533.3 409.7,533.3 410.3,533.3 410.9,533.3 411.5,533.3 412.1,533.3 412.7,533.3 413.3,533.3 413.9,533.3 414.5,533.3 415.1,533.3 415.7,533.3 416.3,533.3 416.9,533.3 417.5,533.3 418.1,533.3 418.7,533.3 419.3,533.3 419.9,533.3 420.5,533.3 421.1,533.3 421.7,533.3 422.3,533.3 422.9,533.3 423.5,533.3 424.1,533.3 424.7,533.3 425.3,533.3 425.9,533.3 426.5,533.3 427.1,533.3 427.7,533.3 428.3,533.3 428.9,533.3 429.5,533.3 430.1,533.3 430.7,533.3 431.3,533.3 431.9,533.3 432.5,533.3 433.1,533.3 433.7,533.3 434.3,533.3 434.9,533.3 435.5,533.3 436.1,533.3 436.7,533.3 437.3,533.3 437.9,533.3 438.5,533.3 439.1,533.3 439.7,533.3 440.3,533.3 440.9,533.3 441.5,533.3 442.1,533.3 442.7,533.3 443.3,533.2 443.9,533.2 444.5,533.1 445.1,532.9 445.7,532.7 446.3,532.4 446.9,531.9 447.5,531.4 448.1,530.6 448.7,529.7 449.3,528.6 449.9,527.2 450.5,525.7 451.1,524.0 451.7,522.1 452.3,520.0 452.9,517.7 453.5,515.3 454.1,512.7 454.7,510.0 455.3,507.2 455.9,504.3 456.5,501.4 457.1,498.3 457.7,495.2 458.3,491.9 458.9,488.6 459.5,485.1 460.1,481.6 460.7,477.9 461.3,474.1 461.9,470.1 462.5,465.9 463.1,461.5 463.7,456.9 464.3,452.0 464.9,446.9 465.5,441.5 466.1,435.8 466.7,429.8 467.3,423.4 467.9,416.8 468.5,409.9 469.1,402.8 469.7,395.5 470.3,388.0 470.9,380.5 471.5,373.1 472.1,365.9 472.7,359.0 473.3,352.7 473.9,347.2 474.5,342.5 475.1,338.9 475.7,336.5 476.3,335.7 476.9,335.7 477.5,337.2 478.1,340.0 478.7,344.1 479.3,349.2 479.9,355.1 480.5,361.7 481.1,368.7 481.7,376.1 482.3,383.6 482.9,391.2 483.5,398.6 484.1,405.9 484.7,413.0 485.3,419.7 485.9,426.2 486.5,432.3 487.1,438.0 487.7,443.4 488.3,448.5 488.9,453.3 489.5,457.8 490.1,462.0 490.7,465.9 491.3,469.5 491.9,473.0 492.5,476.2 493.1,479.2 493.7,482.0 494.3,484.7 494.9,487.3 495.5,489.7 496.1,492.0 496.7,494.2 497.3,496.3 497.9,498.4 498.5,500.3 499.1,502.3 499.7,504.1 500.3,505.9 500.9,507.7 501.5,509.4 502.1,511.1 502.7,512.7 503.3,514.3 503.9,515.8 504.5,517.3 505.1,518.7 505.7,520.0 506.3,521.3 506.9,522.5 507.5,523.6 508.1,524.6 508.7,525.6 509.3,526.4 509.9,527.2 510.5,527.8 511.1,528.4 511.7,528.9 512.3,529.3 512.9,529.6 513.5,529.9 514.1,530.1 514.7,530.3 515.3,530.4 515.9,530.5 516.5,530.5 517.1,530.5 517.7,530.6 518.3,530.6 518.9,530.6 519.5,530.6 520.1,530.6 520.7,530.6 521.3,530.5 521.9,530.5 522.5,530.5 523.1,530.5 523.7,530.5 524.3,530.5 524.9,530.4 525.5,530.4 526.1,530.4 526.7,530.4 527.3,530.4 527.9,530.3 528.5,530.3 529.1,530.3 529.7,530.3 530.3,530.2 530.9,530.2 531.5,530.2 532.1,530.1 532.7,530.1 533.3,530.1 533.9,530.0 534.5,530.0 535.1,530.0 535.7,529.9 536.3,529.9 536.9,529.9 537.5,529.8 538.1,529.8 538.7,529.7 539.3,529.7 539.9,529.7 540.5,529.6 541.1,529.6 541.7,529.5 542.3,529.5 542.9,529.5 543.5,529.4 544.1,529.4 544.7,529.3 545.3,529.3 545.9,529.2 546.5,529.2 547.1,529.2 547.7,529.1 548.3,529.1 548.9,529.0 549.5,529.0 550.1,528.9 550.7,528.9 551.3,528.9 551.9,528.8 552.5,528.8 553.1,528.8 553.7,528.7 554.3,528.7 554.9,528.7 555.5,528.6 556.1,528.6 556.7,528.5 557.3,528.5 557.9,528.4 558.5,528.4 559.1,528.3 559.7,528.2 560.3,528.1 560.9,528.0 561.5,527.9 562.1,527.7 562.7,527.6 563.3,527.4 563.9,527.2 564.5,527.0 565.1,526.8 565.7,526.5 566.3,526.2 566.9,525.9 567.5,525.6 568.1,525.3 568.7,524.9 569.3,524.6 569.9,524.2 570.5,523.7 571.1,523.3 571.7,522.8 572.3,522.4 572.9,521.9 573.5,521.3 574.1,520.8 574.7,520.2 575.3,519.6 575.9,519.0 576.5,518.4 577.1,517.8 577.7,517.1 578.3,516.4 578.9,515.7 579.5,514.9 580.1,514.2 580.7,513.4 581.3,512.6 581.9,511.8 582.5,511.0 583.1,510.1 583.7,509.3 584.3,508.4 584.9,507.5 585.5,506.6 586.1,505.7 586.7,504.8 587.3,503.9 587.9,503.0 588.5,502.0 589.1,501.1 589.7,500.2 590.3,499.2 590.9,498.3 591.5,497.4 592.1,496.5 592.7,495.6 593.3,494.7 593.9,493.8 594.5,492.9 595.1,492.1 595.7,491.3 596.3,490.5 596.9,489.8 597.5,489.1 598.1,488.4 598.7,487.7 599.3,487.2 599.9,486.6 600.5,486.1 601.1,485.7 601.7,485.3 602.3,484.9 602.9,484.6 603.5,484.4 604.1,484.2 604.7,484.1 605.3,484.1 605.9,484.1 606.5,484.2 607.1,484.3 607.7,484.6 608.3,484.8 608.9,485.1 609.5,485.5 610.1,485.9 610.7,486.4 611.3,487.0 611.9,487.5 612.5,488.2 613.1,488.8 613.7,489.5 614.3,490.3 614.9,491.0 615.5,491.8 616.1,492.7 616.7,493.5 617.3,494.4 617.9,495.3 618.5,496.2 619.1,497.1 619.7,498.0 620.3,498.9 620.9,499.9 621.5,500.8 622.1,501.7 622.7,502.7 623.3,503.6 623.9,504.5 624.5,505.4 625.1,506.3 625.7,507.2 626.3,508.1 626.9,509.0 627.5,509.9 628.1,510.7 628.7,511.5 629.3,512.4 629.9,513.2 630.5,513.9 631.1,514.7 631.7,515.4 632.3,516.2 632.9,516.9 633.5,517.5 634.1,518.2 634.7,518.9 635.3,519.5 635.9,520.1 636.5,520.7 637.1,521.2 637.7,521.8 638.3,522.3 638.9,522.8 639.5,523.2 640.1,523.7 640.7,524.1 641.3,524.6 641.9,525.0 642.5,525.4 643.1,525.7 643.7,526.1 644.3,526.4 644.9,526.7 645.5,527.0 646.1,527.3 646.7,527.6 647.3,527.9 647.9,528.1 648.5,528.4 649.1,528.6 649.7,528.8 650.3,529.0 650.9,529.2 651.5,529.4 652.1,529.5 652.7,529.7 653.3,529.9 653.9,530.0 654.5,530.1 655.1,530.3 655.7,530.4 656.3,530.5 656.9,530.6 657.5,530.7 658.1,530.8 658.7,530.9 659.3,531.0 659.9,531.1 660.5,531.2 661.1,531.3 661.7,531.4 662.3,531.4 662.9,531.5 663.5,531.6 664.1,531.6 664.7,531.7 665.3,531.8 665.9,531.8 666.5,531.9 667.1,531.9 667.7,532.0 668.3,532.0 668.9,532.1 669.5,532.1 670.1,532.2 670.7,532.2 671.3,532.3 671.9,532.3 672.5,532.4 673.1,532.4 673.7,532.4 674.3,532.5 674.9,532.5 675.5,532.5 676.1,532.6 676.7,532.6 677.3,532.7 677.9,532.7 678.5,532.7 679.1,532.8 679.7,532.8 680.3,532.8 680.9,532.8 681.5,532.9 682.1,532.9" fill="none" stroke="#000" stroke-width="1.5" stroke-dasharray="5,3.2"/>
</g>
<rect x="400.7" y="311.6" width="281.9" height="222.1" fill="none" stroke="#111" stroke-width="1.2"/>
<path d="M423.2,533.7v-2.6M423.2,311.6v2.6M468.4,533.7v-2.6M468.4,311.6v2.6M513.5,533.7v-2.6M513.5,311.6v2.6M558.5,533.7v-2.6M558.5,311.6v2.6M603.6,533.7v-2.6M603.6,311.6v2.6M648.8,533.7v-2.6M648.8,311.6v2.6" stroke="#111" stroke-width="1" fill="none"/>
<g font-family="'Liberation Sans',sans-serif" font-weight="bold" font-size="10.2" fill="#262626" text-anchor="middle">
<text x="423.2" y="549.3">456</text>
<text x="468.4" y="549.3">458</text>
<text x="513.5" y="549.3">460</text>
<text x="558.5" y="549.3">462</text>
<text x="603.6" y="549.3">464</text>
<text x="648.8" y="549.3">466</text>
<text x="541" y="563.2" font-size="10.4" textLength="92.6" lengthAdjust="spacingAndGlyphs">Binding energy, eV</text>
<text transform="translate(394.3,422.9) rotate(-90)" font-size="10.4">Intensity (a.u.)</text>
</g>
<g font-family="'Liberation Sans',sans-serif" font-weight="bold" font-size="10" fill="#111" text-anchor="middle">
<rect x="450.3" y="318.9" width="50.3" height="13.1" fill="#c9a0d2"/>
<text x="475.4" y="329">Ti (IV)-TiO<tspan font-size="7">2</tspan></text>
<rect x="569.7" y="465.3" width="65.9" height="13" fill="#ff8585"/>
<text x="602.6" y="475.4">TiO<tspan font-size="7">2-x</tspan>F<tspan font-size="7">2x</tspan>/TiO<tspan font-size="7">2</tspan></text>
</g>
<text x="385.9" y="298" font-family="'Liberation Sans',sans-serif" font-weight="bold" font-size="13.4" fill="#000" textLength="17" lengthAdjust="spacingAndGlyphs">(g)</text>
</svg></body></html>
